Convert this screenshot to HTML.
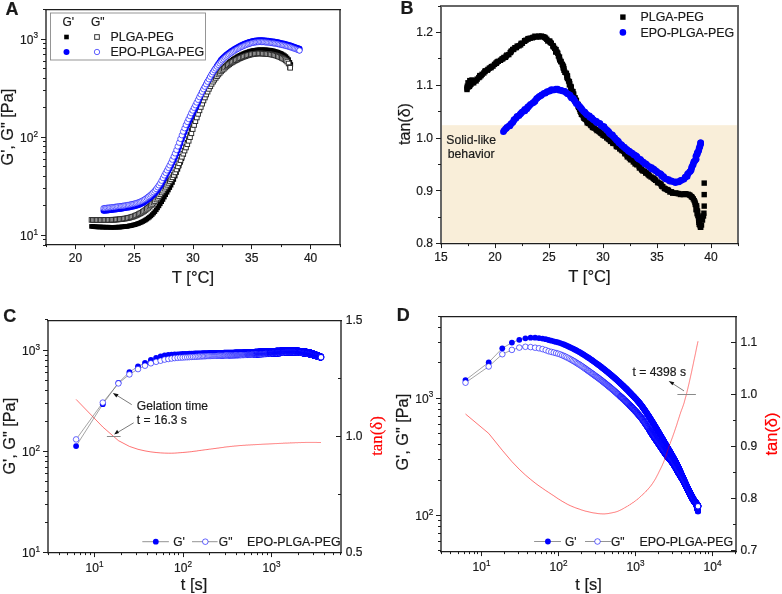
<!DOCTYPE html>
<html><head><meta charset="utf-8"><style>
html,body{margin:0;padding:0;background:#fff;width:782px;height:594px;overflow:hidden;font-family:"Liberation Sans",sans-serif;}
svg{display:block;will-change:transform;}
</style></head><body>
<svg width="782" height="594" viewBox="0 0 782 594" font-family="'Liberation Sans', sans-serif" fill="#1a1a1a">
<defs>
<rect id="ks" x="-2.3" y="-2.3" width="4.6" height="4.6" fill="#000"/>
<rect id="os" x="-2.3" y="-2.3" width="4.6" height="4.6" fill="#fff" stroke="#2a2a2a" stroke-width="0.95"/>
<circle id="bc" r="3" fill="#0000ff"/>
<circle id="oc" r="2.7" fill="#fff" stroke="#0000ff" stroke-width="0.62"/>
<rect id="ks5" x="-2.7" y="-2.7" width="5.4" height="5.4" fill="#000"/>
<circle id="bc3" r="3.3" fill="#0000ff"/>
<circle id="bcd" r="2.9" fill="#0000ff"/>
<circle id="ocs0" r="2.85" fill="#fff" stroke="#0000ff" stroke-width="0.75"/>
<circle id="ocs1" r="2.85" fill="#fff" stroke="#0000ff" stroke-width="0.9"/>
<circle id="ocs2" r="2.85" fill="#fff" stroke="#0000ff" stroke-width="1.05"/>
<circle id="ocd" r="2.8" fill="#fff" stroke="#0000ff" stroke-width="0.6"/>
</defs>
<rect width="782" height="594" fill="#ffffff"/>
<use href="#ks" x="91.5" y="226.4"/>
<use href="#ks" x="92.8" y="226.5"/>
<use href="#ks" x="94.2" y="226.6"/>
<use href="#ks" x="95.5" y="226.8"/>
<use href="#ks" x="96.9" y="226.9"/>
<use href="#ks" x="98.2" y="226.9"/>
<use href="#ks" x="99.6" y="227"/>
<use href="#ks" x="100.9" y="227"/>
<use href="#ks" x="102.3" y="227.1"/>
<use href="#ks" x="103.6" y="227.1"/>
<use href="#ks" x="105" y="227.2"/>
<use href="#ks" x="106.3" y="227.2"/>
<use href="#ks" x="107.7" y="227.2"/>
<use href="#ks" x="109" y="227.2"/>
<use href="#ks" x="110.4" y="227.3"/>
<use href="#ks" x="111.7" y="227.3"/>
<use href="#ks" x="113.1" y="227.3"/>
<use href="#ks" x="114.4" y="227.3"/>
<use href="#ks" x="115.8" y="227.2"/>
<use href="#ks" x="117.1" y="227.2"/>
<use href="#ks" x="118.5" y="227.1"/>
<use href="#ks" x="119.8" y="227.1"/>
<use href="#ks" x="121.2" y="227"/>
<use href="#ks" x="122.5" y="226.8"/>
<use href="#ks" x="123.9" y="226.7"/>
<use href="#ks" x="125.2" y="226.5"/>
<use href="#ks" x="126.6" y="226.4"/>
<use href="#ks" x="127.9" y="226.2"/>
<use href="#ks" x="129.3" y="225.9"/>
<use href="#ks" x="130.6" y="225.7"/>
<use href="#ks" x="132" y="225.4"/>
<use href="#ks" x="133.3" y="225"/>
<use href="#ks" x="134.7" y="224.7"/>
<use href="#ks" x="136" y="224.3"/>
<use href="#ks" x="137.4" y="223.8"/>
<use href="#ks" x="138.7" y="223.3"/>
<use href="#ks" x="140.1" y="222.8"/>
<use href="#ks" x="141.4" y="222.2"/>
<use href="#ks" x="142.8" y="221.5"/>
<use href="#ks" x="144.1" y="220.8"/>
<use href="#ks" x="145.5" y="220"/>
<use href="#ks" x="146.8" y="219.1"/>
<use href="#ks" x="148.2" y="218.1"/>
<use href="#ks" x="149.5" y="217.1"/>
<use href="#ks" x="150.9" y="215.9"/>
<use href="#ks" x="152.2" y="214.6"/>
<use href="#ks" x="153.6" y="213.1"/>
<use href="#ks" x="154.9" y="211.6"/>
<use href="#ks" x="156.3" y="209.8"/>
<use href="#ks" x="157.6" y="207.9"/>
<use href="#ks" x="159" y="205.9"/>
<use href="#ks" x="160.3" y="203.8"/>
<use href="#ks" x="161.7" y="201.7"/>
<use href="#ks" x="163" y="199.5"/>
<use href="#ks" x="164.4" y="197.1"/>
<use href="#ks" x="165.7" y="194.7"/>
<use href="#ks" x="167.1" y="192.3"/>
<use href="#ks" x="168.4" y="190"/>
<use href="#ks" x="169.8" y="187.6"/>
<use href="#ks" x="171.1" y="185.2"/>
<use href="#ks" x="172.5" y="182.5"/>
<use href="#ks" x="173.8" y="179.5"/>
<use href="#ks" x="175.2" y="176.1"/>
<use href="#ks" x="176.5" y="172.6"/>
<use href="#ks" x="177.9" y="169.3"/>
<use href="#ks" x="179.2" y="165.9"/>
<use href="#ks" x="180.6" y="162.4"/>
<use href="#ks" x="181.9" y="158.7"/>
<use href="#ks" x="183.3" y="154.7"/>
<use href="#ks" x="184.6" y="150.6"/>
<use href="#ks" x="186" y="146.5"/>
<use href="#ks" x="187.3" y="142.4"/>
<use href="#ks" x="188.7" y="138.4"/>
<use href="#ks" x="190" y="134.4"/>
<use href="#ks" x="191.4" y="130.4"/>
<use href="#ks" x="192.7" y="126.6"/>
<use href="#ks" x="194.1" y="122.8"/>
<use href="#ks" x="195.4" y="119.2"/>
<use href="#ks" x="196.8" y="115.6"/>
<use href="#ks" x="198.1" y="112.1"/>
<use href="#ks" x="199.5" y="108.9"/>
<use href="#ks" x="200.8" y="105.8"/>
<use href="#ks" x="202.2" y="102.7"/>
<use href="#ks" x="203.5" y="99.6"/>
<use href="#ks" x="204.9" y="96.5"/>
<use href="#ks" x="206.2" y="93.5"/>
<use href="#ks" x="207.6" y="90.8"/>
<use href="#ks" x="208.9" y="88.2"/>
<use href="#ks" x="210.3" y="85.7"/>
<use href="#ks" x="211.6" y="83.4"/>
<use href="#ks" x="213" y="81.3"/>
<use href="#ks" x="214.3" y="79.3"/>
<use href="#ks" x="215.7" y="77.4"/>
<use href="#ks" x="217" y="75.6"/>
<use href="#ks" x="218.4" y="73.8"/>
<use href="#ks" x="219.7" y="72.2"/>
<use href="#ks" x="221.1" y="70.6"/>
<use href="#ks" x="222.4" y="69.1"/>
<use href="#ks" x="223.8" y="67.6"/>
<use href="#ks" x="225.1" y="66.2"/>
<use href="#ks" x="226.5" y="64.9"/>
<use href="#ks" x="227.8" y="63.6"/>
<use href="#ks" x="229.2" y="62.4"/>
<use href="#ks" x="230.5" y="61.3"/>
<use href="#ks" x="231.9" y="60.3"/>
<use href="#ks" x="233.2" y="59.3"/>
<use href="#ks" x="234.6" y="58.4"/>
<use href="#ks" x="235.9" y="57.6"/>
<use href="#ks" x="237.3" y="56.8"/>
<use href="#ks" x="238.6" y="56"/>
<use href="#ks" x="240" y="55.3"/>
<use href="#ks" x="241.3" y="54.7"/>
<use href="#ks" x="242.7" y="54"/>
<use href="#ks" x="244" y="53.5"/>
<use href="#ks" x="245.4" y="52.9"/>
<use href="#ks" x="246.7" y="52.4"/>
<use href="#ks" x="248.1" y="52"/>
<use href="#ks" x="249.4" y="51.5"/>
<use href="#ks" x="250.8" y="51.1"/>
<use href="#ks" x="252.1" y="50.8"/>
<use href="#ks" x="253.5" y="50.5"/>
<use href="#ks" x="254.8" y="50.3"/>
<use href="#ks" x="256.2" y="50.1"/>
<use href="#ks" x="257.5" y="49.9"/>
<use href="#ks" x="258.9" y="49.8"/>
<use href="#ks" x="260.2" y="49.8"/>
<use href="#ks" x="261.6" y="49.8"/>
<use href="#ks" x="262.9" y="49.8"/>
<use href="#ks" x="264.3" y="49.8"/>
<use href="#ks" x="265.6" y="49.9"/>
<use href="#ks" x="267" y="50"/>
<use href="#ks" x="268.3" y="50.1"/>
<use href="#ks" x="269.7" y="50.2"/>
<use href="#ks" x="271" y="50.4"/>
<use href="#ks" x="272.4" y="50.7"/>
<use href="#ks" x="273.7" y="51"/>
<use href="#ks" x="275.1" y="51.4"/>
<use href="#ks" x="276.4" y="51.8"/>
<use href="#ks" x="277.8" y="52.2"/>
<use href="#ks" x="279.1" y="52.7"/>
<use href="#ks" x="280.5" y="53.3"/>
<use href="#ks" x="281.8" y="53.9"/>
<use href="#ks" x="283.2" y="54.7"/>
<use href="#ks" x="284.5" y="55.6"/>
<use href="#ks" x="285.9" y="56.6"/>
<use href="#ks" x="287.2" y="58"/>
<use href="#ks" x="288.6" y="59.6"/>
<use href="#ks" x="289.9" y="62.4"/>
<use href="#ks" x="290.8" y="64.5"/>
<use href="#os" x="91.5" y="219.9"/>
<use href="#os" x="92.8" y="219.9"/>
<use href="#os" x="94.2" y="220"/>
<use href="#os" x="95.5" y="220"/>
<use href="#os" x="96.9" y="220"/>
<use href="#os" x="98.2" y="220"/>
<use href="#os" x="99.6" y="220"/>
<use href="#os" x="100.9" y="220"/>
<use href="#os" x="102.3" y="220"/>
<use href="#os" x="103.6" y="220"/>
<use href="#os" x="105" y="219.9"/>
<use href="#os" x="106.3" y="219.9"/>
<use href="#os" x="107.7" y="219.9"/>
<use href="#os" x="109" y="219.9"/>
<use href="#os" x="110.4" y="219.8"/>
<use href="#os" x="111.7" y="219.8"/>
<use href="#os" x="113.1" y="219.7"/>
<use href="#os" x="114.4" y="219.7"/>
<use href="#os" x="115.8" y="219.6"/>
<use href="#os" x="117.1" y="219.5"/>
<use href="#os" x="118.5" y="219.4"/>
<use href="#os" x="119.8" y="219.2"/>
<use href="#os" x="121.2" y="219.1"/>
<use href="#os" x="122.5" y="218.9"/>
<use href="#os" x="123.9" y="218.7"/>
<use href="#os" x="125.2" y="218.5"/>
<use href="#os" x="126.6" y="218.3"/>
<use href="#os" x="127.9" y="218"/>
<use href="#os" x="129.3" y="217.7"/>
<use href="#os" x="130.6" y="217.3"/>
<use href="#os" x="132" y="216.9"/>
<use href="#os" x="133.3" y="216.5"/>
<use href="#os" x="134.7" y="216"/>
<use href="#os" x="136" y="215.4"/>
<use href="#os" x="137.4" y="214.8"/>
<use href="#os" x="138.7" y="214.1"/>
<use href="#os" x="140.1" y="213.4"/>
<use href="#os" x="141.4" y="212.7"/>
<use href="#os" x="142.8" y="211.9"/>
<use href="#os" x="144.1" y="211"/>
<use href="#os" x="145.5" y="210"/>
<use href="#os" x="146.8" y="208.9"/>
<use href="#os" x="148.2" y="207.8"/>
<use href="#os" x="149.5" y="206.6"/>
<use href="#os" x="150.9" y="205.4"/>
<use href="#os" x="152.2" y="204"/>
<use href="#os" x="153.6" y="202.6"/>
<use href="#os" x="154.9" y="201.1"/>
<use href="#os" x="156.3" y="199.5"/>
<use href="#os" x="157.6" y="197.8"/>
<use href="#os" x="159" y="196.1"/>
<use href="#os" x="160.3" y="194.3"/>
<use href="#os" x="161.7" y="192.5"/>
<use href="#os" x="163" y="190.7"/>
<use href="#os" x="164.4" y="188.7"/>
<use href="#os" x="165.7" y="186.8"/>
<use href="#os" x="167.1" y="184.8"/>
<use href="#os" x="168.4" y="182.9"/>
<use href="#os" x="169.8" y="181"/>
<use href="#os" x="171.1" y="179.2"/>
<use href="#os" x="172.5" y="177.3"/>
<use href="#os" x="173.8" y="175"/>
<use href="#os" x="175.2" y="172.4"/>
<use href="#os" x="176.5" y="169.5"/>
<use href="#os" x="177.9" y="166.4"/>
<use href="#os" x="179.2" y="163.3"/>
<use href="#os" x="180.6" y="160.1"/>
<use href="#os" x="181.9" y="156.8"/>
<use href="#os" x="183.3" y="153.7"/>
<use href="#os" x="184.6" y="150.6"/>
<use href="#os" x="186" y="147.5"/>
<use href="#os" x="187.3" y="144.2"/>
<use href="#os" x="188.7" y="140.8"/>
<use href="#os" x="190" y="137.2"/>
<use href="#os" x="191.4" y="133.3"/>
<use href="#os" x="192.7" y="129.1"/>
<use href="#os" x="194.1" y="125"/>
<use href="#os" x="195.4" y="121.2"/>
<use href="#os" x="196.8" y="117.5"/>
<use href="#os" x="198.1" y="113.9"/>
<use href="#os" x="199.5" y="110.4"/>
<use href="#os" x="200.8" y="107"/>
<use href="#os" x="202.2" y="103.7"/>
<use href="#os" x="203.5" y="100.5"/>
<use href="#os" x="204.9" y="97.5"/>
<use href="#os" x="206.2" y="94.5"/>
<use href="#os" x="207.6" y="91.7"/>
<use href="#os" x="208.9" y="88.9"/>
<use href="#os" x="210.3" y="86.3"/>
<use href="#os" x="211.6" y="83.9"/>
<use href="#os" x="213" y="81.7"/>
<use href="#os" x="214.3" y="79.7"/>
<use href="#os" x="215.7" y="77.9"/>
<use href="#os" x="217" y="76.2"/>
<use href="#os" x="218.4" y="74.5"/>
<use href="#os" x="219.7" y="72.9"/>
<use href="#os" x="221.1" y="71.4"/>
<use href="#os" x="222.4" y="70"/>
<use href="#os" x="223.8" y="68.8"/>
<use href="#os" x="225.1" y="67.5"/>
<use href="#os" x="226.5" y="66.4"/>
<use href="#os" x="227.8" y="65.3"/>
<use href="#os" x="229.2" y="64.3"/>
<use href="#os" x="230.5" y="63.3"/>
<use href="#os" x="231.9" y="62.4"/>
<use href="#os" x="233.2" y="61.6"/>
<use href="#os" x="234.6" y="60.9"/>
<use href="#os" x="235.9" y="60.2"/>
<use href="#os" x="237.3" y="59.5"/>
<use href="#os" x="238.6" y="58.8"/>
<use href="#os" x="240" y="58.2"/>
<use href="#os" x="241.3" y="57.6"/>
<use href="#os" x="242.7" y="57.1"/>
<use href="#os" x="244" y="56.5"/>
<use href="#os" x="245.4" y="56.1"/>
<use href="#os" x="246.7" y="55.6"/>
<use href="#os" x="248.1" y="55.2"/>
<use href="#os" x="249.4" y="54.8"/>
<use href="#os" x="250.8" y="54.5"/>
<use href="#os" x="252.1" y="54.2"/>
<use href="#os" x="253.5" y="54"/>
<use href="#os" x="254.8" y="53.8"/>
<use href="#os" x="256.2" y="53.6"/>
<use href="#os" x="257.5" y="53.5"/>
<use href="#os" x="258.9" y="53.4"/>
<use href="#os" x="260.2" y="53.4"/>
<use href="#os" x="261.6" y="53.5"/>
<use href="#os" x="262.9" y="53.6"/>
<use href="#os" x="264.3" y="53.7"/>
<use href="#os" x="265.6" y="53.8"/>
<use href="#os" x="267" y="53.9"/>
<use href="#os" x="268.3" y="54.1"/>
<use href="#os" x="269.7" y="54.2"/>
<use href="#os" x="271" y="54.4"/>
<use href="#os" x="272.4" y="54.7"/>
<use href="#os" x="273.7" y="54.9"/>
<use href="#os" x="275.1" y="55.3"/>
<use href="#os" x="276.4" y="55.7"/>
<use href="#os" x="277.8" y="56.2"/>
<use href="#os" x="279.1" y="56.7"/>
<use href="#os" x="280.5" y="57.3"/>
<use href="#os" x="281.8" y="57.9"/>
<use href="#os" x="283.2" y="58.6"/>
<use href="#os" x="284.5" y="59.4"/>
<use href="#os" x="285.9" y="60.4"/>
<use href="#os" x="287.2" y="61.6"/>
<use href="#os" x="288.6" y="63.5"/>
<use href="#os" x="289.9" y="67.1"/>
<use href="#os" x="290.2" y="67.8"/>
<use href="#bc" x="103.5" y="210.8"/>
<use href="#bc" x="104.8" y="210.7"/>
<use href="#bc" x="106.2" y="210.5"/>
<use href="#bc" x="107.5" y="210.4"/>
<use href="#bc" x="108.9" y="210.2"/>
<use href="#bc" x="110.2" y="210.1"/>
<use href="#bc" x="111.6" y="209.9"/>
<use href="#bc" x="112.9" y="209.8"/>
<use href="#bc" x="114.3" y="209.6"/>
<use href="#bc" x="115.6" y="209.4"/>
<use href="#bc" x="117" y="209.2"/>
<use href="#bc" x="118.3" y="209"/>
<use href="#bc" x="119.7" y="208.9"/>
<use href="#bc" x="121" y="208.7"/>
<use href="#bc" x="122.4" y="208.5"/>
<use href="#bc" x="123.7" y="208.3"/>
<use href="#bc" x="125.1" y="208.1"/>
<use href="#bc" x="126.4" y="207.8"/>
<use href="#bc" x="127.8" y="207.6"/>
<use href="#bc" x="129.1" y="207.4"/>
<use href="#bc" x="130.5" y="207.1"/>
<use href="#bc" x="131.8" y="206.8"/>
<use href="#bc" x="133.2" y="206.5"/>
<use href="#bc" x="134.5" y="206.2"/>
<use href="#bc" x="135.9" y="205.8"/>
<use href="#bc" x="137.2" y="205.4"/>
<use href="#bc" x="138.6" y="204.9"/>
<use href="#bc" x="139.9" y="204.4"/>
<use href="#bc" x="141.3" y="203.8"/>
<use href="#bc" x="142.6" y="203.2"/>
<use href="#bc" x="144" y="202.4"/>
<use href="#bc" x="145.3" y="201.5"/>
<use href="#bc" x="146.7" y="200.5"/>
<use href="#bc" x="148" y="199.5"/>
<use href="#bc" x="149.4" y="198.4"/>
<use href="#bc" x="150.7" y="197.3"/>
<use href="#bc" x="152.1" y="196.1"/>
<use href="#bc" x="153.4" y="194.8"/>
<use href="#bc" x="154.8" y="193.4"/>
<use href="#bc" x="156.1" y="191.8"/>
<use href="#bc" x="157.5" y="190.2"/>
<use href="#bc" x="158.8" y="188.3"/>
<use href="#bc" x="160.2" y="186.3"/>
<use href="#bc" x="161.5" y="183.9"/>
<use href="#bc" x="162.9" y="181.3"/>
<use href="#bc" x="164.2" y="178.6"/>
<use href="#bc" x="165.6" y="175.9"/>
<use href="#bc" x="166.9" y="173.3"/>
<use href="#bc" x="168.3" y="170.9"/>
<use href="#bc" x="169.6" y="168.4"/>
<use href="#bc" x="171" y="165.8"/>
<use href="#bc" x="172.3" y="163.1"/>
<use href="#bc" x="173.7" y="160.3"/>
<use href="#bc" x="175" y="157.2"/>
<use href="#bc" x="176.4" y="154"/>
<use href="#bc" x="177.7" y="150.6"/>
<use href="#bc" x="179.1" y="147.1"/>
<use href="#bc" x="180.4" y="143.4"/>
<use href="#bc" x="181.8" y="139.6"/>
<use href="#bc" x="183.1" y="135.9"/>
<use href="#bc" x="184.5" y="132.3"/>
<use href="#bc" x="185.8" y="128.8"/>
<use href="#bc" x="187.2" y="125.5"/>
<use href="#bc" x="188.5" y="122.4"/>
<use href="#bc" x="189.9" y="119.5"/>
<use href="#bc" x="191.2" y="116.6"/>
<use href="#bc" x="192.6" y="113.8"/>
<use href="#bc" x="193.9" y="111"/>
<use href="#bc" x="195.3" y="108.4"/>
<use href="#bc" x="196.6" y="105.9"/>
<use href="#bc" x="198" y="102.8"/>
<use href="#bc" x="199.3" y="99"/>
<use href="#bc" x="200.7" y="95.3"/>
<use href="#bc" x="202" y="92.2"/>
<use href="#bc" x="203.4" y="89.6"/>
<use href="#bc" x="204.7" y="87.1"/>
<use href="#bc" x="206.1" y="84.6"/>
<use href="#bc" x="207.4" y="82.1"/>
<use href="#bc" x="208.8" y="79.7"/>
<use href="#bc" x="210.1" y="77.3"/>
<use href="#bc" x="211.5" y="74.9"/>
<use href="#bc" x="212.8" y="72.6"/>
<use href="#bc" x="214.2" y="70.4"/>
<use href="#bc" x="215.5" y="68.3"/>
<use href="#bc" x="216.9" y="66.1"/>
<use href="#bc" x="218.2" y="64"/>
<use href="#bc" x="219.6" y="62"/>
<use href="#bc" x="220.9" y="60.1"/>
<use href="#bc" x="222.3" y="58.5"/>
<use href="#bc" x="223.6" y="57.2"/>
<use href="#bc" x="225" y="55.9"/>
<use href="#bc" x="226.3" y="54.8"/>
<use href="#bc" x="227.7" y="53.7"/>
<use href="#bc" x="229" y="52.7"/>
<use href="#bc" x="230.4" y="51.7"/>
<use href="#bc" x="231.7" y="50.8"/>
<use href="#bc" x="233.1" y="49.9"/>
<use href="#bc" x="234.4" y="49"/>
<use href="#bc" x="235.8" y="48.2"/>
<use href="#bc" x="237.1" y="47.4"/>
<use href="#bc" x="238.5" y="46.7"/>
<use href="#bc" x="239.8" y="46"/>
<use href="#bc" x="241.2" y="45.3"/>
<use href="#bc" x="242.5" y="44.7"/>
<use href="#bc" x="243.9" y="44.1"/>
<use href="#bc" x="245.2" y="43.5"/>
<use href="#bc" x="246.6" y="43"/>
<use href="#bc" x="247.9" y="42.5"/>
<use href="#bc" x="249.3" y="42.1"/>
<use href="#bc" x="250.6" y="41.7"/>
<use href="#bc" x="252" y="41.3"/>
<use href="#bc" x="253.3" y="41"/>
<use href="#bc" x="254.7" y="40.8"/>
<use href="#bc" x="256" y="40.6"/>
<use href="#bc" x="257.4" y="40.4"/>
<use href="#bc" x="258.7" y="40.3"/>
<use href="#bc" x="260.1" y="40.2"/>
<use href="#bc" x="261.4" y="40.3"/>
<use href="#bc" x="262.8" y="40.3"/>
<use href="#bc" x="264.1" y="40.4"/>
<use href="#bc" x="265.5" y="40.6"/>
<use href="#bc" x="266.8" y="40.7"/>
<use href="#bc" x="268.2" y="40.8"/>
<use href="#bc" x="269.5" y="41"/>
<use href="#bc" x="270.9" y="41.2"/>
<use href="#bc" x="272.2" y="41.4"/>
<use href="#bc" x="273.6" y="41.6"/>
<use href="#bc" x="274.9" y="41.8"/>
<use href="#bc" x="276.3" y="42"/>
<use href="#bc" x="277.6" y="42.3"/>
<use href="#bc" x="279" y="42.6"/>
<use href="#bc" x="280.3" y="42.9"/>
<use href="#bc" x="281.7" y="43.2"/>
<use href="#bc" x="283" y="43.5"/>
<use href="#bc" x="284.4" y="43.8"/>
<use href="#bc" x="285.7" y="44.2"/>
<use href="#bc" x="287.1" y="44.5"/>
<use href="#bc" x="288.4" y="44.9"/>
<use href="#bc" x="289.8" y="45.3"/>
<use href="#bc" x="291.1" y="45.8"/>
<use href="#bc" x="292.5" y="46.3"/>
<use href="#bc" x="293.9" y="46.7"/>
<use href="#bc" x="295.2" y="47.2"/>
<use href="#bc" x="296.6" y="47.7"/>
<use href="#bc" x="297.9" y="48.2"/>
<use href="#bc" x="299.3" y="48.7"/>
<use href="#bc" x="299.5" y="48.8"/>
<use href="#oc" x="103.5" y="208.2"/>
<use href="#oc" x="104.8" y="208.1"/>
<use href="#oc" x="106.2" y="207.9"/>
<use href="#oc" x="107.5" y="207.8"/>
<use href="#oc" x="108.9" y="207.6"/>
<use href="#oc" x="110.2" y="207.5"/>
<use href="#oc" x="111.6" y="207.3"/>
<use href="#oc" x="112.9" y="207.2"/>
<use href="#oc" x="114.3" y="207"/>
<use href="#oc" x="115.6" y="206.8"/>
<use href="#oc" x="117" y="206.6"/>
<use href="#oc" x="118.3" y="206.4"/>
<use href="#oc" x="119.7" y="206.3"/>
<use href="#oc" x="121" y="206.1"/>
<use href="#oc" x="122.4" y="205.9"/>
<use href="#oc" x="123.7" y="205.7"/>
<use href="#oc" x="125.1" y="205.5"/>
<use href="#oc" x="126.4" y="205.2"/>
<use href="#oc" x="127.8" y="205"/>
<use href="#oc" x="129.1" y="204.8"/>
<use href="#oc" x="130.5" y="204.5"/>
<use href="#oc" x="131.8" y="204.2"/>
<use href="#oc" x="133.2" y="203.9"/>
<use href="#oc" x="134.5" y="203.6"/>
<use href="#oc" x="135.9" y="203.2"/>
<use href="#oc" x="137.2" y="202.8"/>
<use href="#oc" x="138.6" y="202.3"/>
<use href="#oc" x="139.9" y="201.8"/>
<use href="#oc" x="141.3" y="201.2"/>
<use href="#oc" x="142.6" y="200.5"/>
<use href="#oc" x="144" y="199.8"/>
<use href="#oc" x="145.3" y="198.9"/>
<use href="#oc" x="146.7" y="197.9"/>
<use href="#oc" x="148" y="196.9"/>
<use href="#oc" x="149.4" y="195.9"/>
<use href="#oc" x="150.7" y="194.7"/>
<use href="#oc" x="152.1" y="193.5"/>
<use href="#oc" x="153.4" y="192.2"/>
<use href="#oc" x="154.8" y="190.7"/>
<use href="#oc" x="156.1" y="189"/>
<use href="#oc" x="157.5" y="187.2"/>
<use href="#oc" x="158.8" y="185.3"/>
<use href="#oc" x="160.2" y="183.2"/>
<use href="#oc" x="161.5" y="180.7"/>
<use href="#oc" x="162.9" y="178"/>
<use href="#oc" x="164.2" y="175.4"/>
<use href="#oc" x="165.6" y="172.9"/>
<use href="#oc" x="166.9" y="170.4"/>
<use href="#oc" x="168.3" y="167.9"/>
<use href="#oc" x="169.6" y="165.3"/>
<use href="#oc" x="171" y="162.6"/>
<use href="#oc" x="172.3" y="159.7"/>
<use href="#oc" x="173.7" y="156.6"/>
<use href="#oc" x="175" y="153.4"/>
<use href="#oc" x="176.4" y="150"/>
<use href="#oc" x="177.7" y="146.4"/>
<use href="#oc" x="179.1" y="142.7"/>
<use href="#oc" x="180.4" y="138.9"/>
<use href="#oc" x="181.8" y="135.2"/>
<use href="#oc" x="183.1" y="131.6"/>
<use href="#oc" x="184.5" y="128.2"/>
<use href="#oc" x="185.8" y="124.9"/>
<use href="#oc" x="187.2" y="121.9"/>
<use href="#oc" x="188.5" y="119"/>
<use href="#oc" x="189.9" y="116.1"/>
<use href="#oc" x="191.2" y="113.2"/>
<use href="#oc" x="192.6" y="110.5"/>
<use href="#oc" x="193.9" y="107.8"/>
<use href="#oc" x="195.3" y="105.2"/>
<use href="#oc" x="196.6" y="102.5"/>
<use href="#oc" x="198" y="99.8"/>
<use href="#oc" x="199.3" y="97.1"/>
<use href="#oc" x="200.7" y="94.4"/>
<use href="#oc" x="202" y="91.8"/>
<use href="#oc" x="203.4" y="89.2"/>
<use href="#oc" x="204.7" y="86.7"/>
<use href="#oc" x="206.1" y="84.2"/>
<use href="#oc" x="207.4" y="81.7"/>
<use href="#oc" x="208.8" y="79.2"/>
<use href="#oc" x="210.1" y="76.8"/>
<use href="#oc" x="211.5" y="74.4"/>
<use href="#oc" x="212.8" y="72.2"/>
<use href="#oc" x="214.2" y="70.2"/>
<use href="#oc" x="215.5" y="68.4"/>
<use href="#oc" x="216.9" y="66.6"/>
<use href="#oc" x="218.2" y="64.9"/>
<use href="#oc" x="219.6" y="63.3"/>
<use href="#oc" x="220.9" y="61.7"/>
<use href="#oc" x="222.3" y="60.3"/>
<use href="#oc" x="223.6" y="59"/>
<use href="#oc" x="225" y="57.7"/>
<use href="#oc" x="226.3" y="56.6"/>
<use href="#oc" x="227.7" y="55.5"/>
<use href="#oc" x="229" y="54.4"/>
<use href="#oc" x="230.4" y="53.4"/>
<use href="#oc" x="231.7" y="52.5"/>
<use href="#oc" x="233.1" y="51.6"/>
<use href="#oc" x="234.4" y="50.7"/>
<use href="#oc" x="235.8" y="49.9"/>
<use href="#oc" x="237.1" y="49.1"/>
<use href="#oc" x="238.5" y="48.4"/>
<use href="#oc" x="239.8" y="47.7"/>
<use href="#oc" x="241.2" y="47"/>
<use href="#oc" x="242.5" y="46.4"/>
<use href="#oc" x="243.9" y="45.8"/>
<use href="#oc" x="245.2" y="45.2"/>
<use href="#oc" x="246.6" y="44.7"/>
<use href="#oc" x="247.9" y="44.2"/>
<use href="#oc" x="249.3" y="43.8"/>
<use href="#oc" x="250.6" y="43.4"/>
<use href="#oc" x="252" y="43"/>
<use href="#oc" x="253.3" y="42.7"/>
<use href="#oc" x="254.7" y="42.5"/>
<use href="#oc" x="256" y="42.3"/>
<use href="#oc" x="257.4" y="42.1"/>
<use href="#oc" x="258.7" y="42"/>
<use href="#oc" x="260.1" y="41.9"/>
<use href="#oc" x="261.4" y="42"/>
<use href="#oc" x="262.8" y="42"/>
<use href="#oc" x="264.1" y="42.1"/>
<use href="#oc" x="265.5" y="42.3"/>
<use href="#oc" x="266.8" y="42.4"/>
<use href="#oc" x="268.2" y="42.5"/>
<use href="#oc" x="269.5" y="42.7"/>
<use href="#oc" x="270.9" y="42.9"/>
<use href="#oc" x="272.2" y="43.1"/>
<use href="#oc" x="273.6" y="43.3"/>
<use href="#oc" x="274.9" y="43.5"/>
<use href="#oc" x="276.3" y="43.7"/>
<use href="#oc" x="277.6" y="44"/>
<use href="#oc" x="279" y="44.3"/>
<use href="#oc" x="280.3" y="44.6"/>
<use href="#oc" x="281.7" y="44.9"/>
<use href="#oc" x="283" y="45.2"/>
<use href="#oc" x="284.4" y="45.5"/>
<use href="#oc" x="285.7" y="45.9"/>
<use href="#oc" x="287.1" y="46.2"/>
<use href="#oc" x="288.4" y="46.6"/>
<use href="#oc" x="289.8" y="47"/>
<use href="#oc" x="291.1" y="47.5"/>
<use href="#oc" x="292.5" y="48"/>
<use href="#oc" x="293.9" y="48.4"/>
<use href="#oc" x="295.2" y="48.9"/>
<use href="#oc" x="296.6" y="49.4"/>
<use href="#oc" x="297.9" y="49.9"/>
<use href="#oc" x="299.3" y="50.4"/>
<use href="#oc" x="299.5" y="50.5"/>
<line x1="46" y1="9" x2="46" y2="245.2" stroke="#666" stroke-width="2"/>
<line x1="340" y1="9" x2="340" y2="245.2" stroke="#666" stroke-width="2"/>
<line x1="45" y1="9.6" x2="341" y2="9.6" stroke="#1e1e1e" stroke-width="1.2"/>
<line x1="45" y1="244.6" x2="341" y2="244.6" stroke="#1e1e1e" stroke-width="1.2"/>
<line x1="41" y1="235.5" x2="46" y2="235.5" stroke="#1e1e1e" stroke-width="1" />
<line x1="41" y1="137.5" x2="46" y2="137.5" stroke="#1e1e1e" stroke-width="1" />
<line x1="41" y1="39.5" x2="46" y2="39.5" stroke="#1e1e1e" stroke-width="1" />
<line x1="43" y1="245.5" x2="46" y2="245.5" stroke="#1e1e1e" stroke-width="1" />
<line x1="43" y1="239.5" x2="46" y2="239.5" stroke="#1e1e1e" stroke-width="1" />
<line x1="43" y1="205.5" x2="46" y2="205.5" stroke="#1e1e1e" stroke-width="1" />
<line x1="43" y1="188.5" x2="46" y2="188.5" stroke="#1e1e1e" stroke-width="1" />
<line x1="43" y1="176.5" x2="46" y2="176.5" stroke="#1e1e1e" stroke-width="1" />
<line x1="43" y1="166.5" x2="46" y2="166.5" stroke="#1e1e1e" stroke-width="1" />
<line x1="43" y1="159.5" x2="46" y2="159.5" stroke="#1e1e1e" stroke-width="1" />
<line x1="43" y1="152.5" x2="46" y2="152.5" stroke="#1e1e1e" stroke-width="1" />
<line x1="43" y1="146.5" x2="46" y2="146.5" stroke="#1e1e1e" stroke-width="1" />
<line x1="43" y1="141.5" x2="46" y2="141.5" stroke="#1e1e1e" stroke-width="1" />
<line x1="43" y1="107.5" x2="46" y2="107.5" stroke="#1e1e1e" stroke-width="1" />
<line x1="43" y1="90.5" x2="46" y2="90.5" stroke="#1e1e1e" stroke-width="1" />
<line x1="43" y1="78.5" x2="46" y2="78.5" stroke="#1e1e1e" stroke-width="1" />
<line x1="43" y1="68.5" x2="46" y2="68.5" stroke="#1e1e1e" stroke-width="1" />
<line x1="43" y1="61.5" x2="46" y2="61.5" stroke="#1e1e1e" stroke-width="1" />
<line x1="43" y1="54.5" x2="46" y2="54.5" stroke="#1e1e1e" stroke-width="1" />
<line x1="43" y1="48.5" x2="46" y2="48.5" stroke="#1e1e1e" stroke-width="1" />
<line x1="43" y1="43.5" x2="46" y2="43.5" stroke="#1e1e1e" stroke-width="1" />
<line x1="43" y1="9.5" x2="46" y2="9.5" stroke="#1e1e1e" stroke-width="1" />
<line x1="75.5" y1="244.6" x2="75.5" y2="249.1" stroke="#1e1e1e" stroke-width="1" />
<line x1="134.5" y1="244.6" x2="134.5" y2="249.1" stroke="#1e1e1e" stroke-width="1" />
<line x1="193.5" y1="244.6" x2="193.5" y2="249.1" stroke="#1e1e1e" stroke-width="1" />
<line x1="251.5" y1="244.6" x2="251.5" y2="249.1" stroke="#1e1e1e" stroke-width="1" />
<line x1="310.5" y1="244.6" x2="310.5" y2="249.1" stroke="#1e1e1e" stroke-width="1" />
<line x1="46.5" y1="244.6" x2="46.5" y2="247.1" stroke="#1e1e1e" stroke-width="1" />
<line x1="104.5" y1="244.6" x2="104.5" y2="247.1" stroke="#1e1e1e" stroke-width="1" />
<line x1="163.5" y1="244.6" x2="163.5" y2="247.1" stroke="#1e1e1e" stroke-width="1" />
<line x1="222.5" y1="244.6" x2="222.5" y2="247.1" stroke="#1e1e1e" stroke-width="1" />
<line x1="281.5" y1="244.6" x2="281.5" y2="247.1" stroke="#1e1e1e" stroke-width="1" />
<line x1="340.5" y1="244.6" x2="340.5" y2="247.1" stroke="#1e1e1e" stroke-width="1" />
<text x="75.4" y="261.6" font-size="12" text-anchor="middle" stroke="#1a1a1a" stroke-width="0.2" >20</text>
<text x="134.2" y="261.6" font-size="12" text-anchor="middle" stroke="#1a1a1a" stroke-width="0.2" >25</text>
<text x="193" y="261.6" font-size="12" text-anchor="middle" stroke="#1a1a1a" stroke-width="0.2" >30</text>
<text x="251.8" y="261.6" font-size="12" text-anchor="middle" stroke="#1a1a1a" stroke-width="0.2" >35</text>
<text x="310.6" y="261.6" font-size="12" text-anchor="middle" stroke="#1a1a1a" stroke-width="0.2" >40</text>
<text x="38" y="239.8" font-size="12" text-anchor="end" stroke="#1a1a1a" stroke-width="0.2">10<tspan font-size="8.2" dy="-5.2">1</tspan></text>
<text x="38" y="141.7" font-size="12" text-anchor="end" stroke="#1a1a1a" stroke-width="0.2">10<tspan font-size="8.2" dy="-5.2">2</tspan></text>
<text x="38" y="43.6" font-size="12" text-anchor="end" stroke="#1a1a1a" stroke-width="0.2">10<tspan font-size="8.2" dy="-5.2">3</tspan></text>
<text x="193" y="283.3" font-size="16.6" text-anchor="middle" stroke="#1a1a1a" stroke-width="0.2" >T [°C]</text>
<text x="13" y="127.1" font-size="16.3" text-anchor="middle" transform="rotate(-90 13 127.1)" stroke="#1a1a1a" stroke-width="0.2" >G', G" [Pa]</text>
<text x="5.4" y="14.65" font-size="18" font-weight="bold" stroke="#1a1a1a" stroke-width="0.2" >A</text>
<rect x="50.5" y="13" width="155" height="47" fill="#fff" stroke="#8a8a8a" stroke-width="0.9"/>
<text x="62.5" y="26" font-size="12" stroke="#1a1a1a" stroke-width="0.2" >G'</text>
<text x="91" y="26" font-size="12" stroke="#1a1a1a" stroke-width="0.2" >G"</text>
<use href="#ks" x="66.5" y="37"/>
<use href="#os" x="97" y="37"/>
<text x="110.5" y="40.8" font-size="12.4" stroke="#1a1a1a" stroke-width="0.2" >PLGA-PEG</text>
<use href="#bc" x="66.5" y="52"/>
<use href="#oc" x="97" y="52"/>
<text x="110.5" y="56" font-size="12.4" stroke="#1a1a1a" stroke-width="0.2" >EPO-PLGA-PEG</text>
<rect x="441" y="125.18" width="297" height="117.52" fill="#f9eed9"/>
<use href="#ks5" x="467" y="88"/>
<use href="#ks5" x="468.5" y="86.9"/>
<use href="#ks5" x="469.4" y="86.3"/>
<use href="#ks5" x="469.9" y="85.4"/>
<use href="#ks5" x="470.9" y="84.3"/>
<use href="#ks5" x="472.1" y="82.8"/>
<use href="#ks5" x="473.7" y="82.8"/>
<use href="#ks5" x="474.3" y="80.9"/>
<use href="#ks5" x="476.1" y="80.9"/>
<use href="#ks5" x="477.2" y="79.1"/>
<use href="#ks5" x="478.8" y="77.6"/>
<use href="#ks5" x="479.7" y="76.9"/>
<use href="#ks5" x="479.8" y="75.6"/>
<use href="#ks5" x="481.1" y="75.6"/>
<use href="#ks5" x="482.1" y="74.3"/>
<use href="#ks5" x="483.8" y="73"/>
<use href="#ks5" x="484.9" y="71.6"/>
<use href="#ks5" x="485.3" y="70.8"/>
<use href="#ks5" x="487.4" y="70.2"/>
<use href="#ks5" x="488" y="69.4"/>
<use href="#ks5" x="489.4" y="68.1"/>
<use href="#ks5" x="491" y="67.7"/>
<use href="#ks5" x="491.4" y="66.6"/>
<use href="#ks5" x="493" y="66.1"/>
<use href="#ks5" x="494.5" y="64.4"/>
<use href="#ks5" x="496" y="63.2"/>
<use href="#ks5" x="496.4" y="63.2"/>
<use href="#ks5" x="497.2" y="61.9"/>
<use href="#ks5" x="498.3" y="61.3"/>
<use href="#ks5" x="500.5" y="60.3"/>
<use href="#ks5" x="501.9" y="59.1"/>
<use href="#ks5" x="502.9" y="58.6"/>
<use href="#ks5" x="503.9" y="57.5"/>
<use href="#ks5" x="505.5" y="57.3"/>
<use href="#ks5" x="506.2" y="56"/>
<use href="#ks5" x="506.8" y="55.1"/>
<use href="#ks5" x="508.8" y="54.6"/>
<use href="#ks5" x="510.2" y="52.6"/>
<use href="#ks5" x="510.7" y="52.2"/>
<use href="#ks5" x="511.3" y="51"/>
<use href="#ks5" x="512.7" y="49.5"/>
<use href="#ks5" x="513.7" y="49.4"/>
<use href="#ks5" x="514.9" y="47.7"/>
<use href="#ks5" x="516.4" y="47.6"/>
<use href="#ks5" x="517.2" y="46.1"/>
<use href="#ks5" x="519" y="45.8"/>
<use href="#ks5" x="520.6" y="44.9"/>
<use href="#ks5" x="521.1" y="43.4"/>
<use href="#ks5" x="522.4" y="43.2"/>
<use href="#ks5" x="524.5" y="41.3"/>
<use href="#ks5" x="524.7" y="40.7"/>
<use href="#ks5" x="526" y="40.2"/>
<use href="#ks5" x="527.8" y="39.1"/>
<use href="#ks5" x="528.3" y="38.6"/>
<use href="#ks5" x="530.2" y="38.2"/>
<use href="#ks5" x="532.4" y="37.8"/>
<use href="#ks5" x="533.2" y="37.3"/>
<use href="#ks5" x="534.9" y="36.2"/>
<use href="#ks5" x="536.7" y="36.9"/>
<use href="#ks5" x="538.2" y="36.8"/>
<use href="#ks5" x="539" y="36.1"/>
<use href="#ks5" x="540.1" y="36.6"/>
<use href="#ks5" x="541.5" y="36.1"/>
<use href="#ks5" x="543.1" y="36.7"/>
<use href="#ks5" x="544.6" y="37.2"/>
<use href="#ks5" x="545.5" y="38.1"/>
<use href="#ks5" x="546.8" y="39.3"/>
<use href="#ks5" x="547.8" y="41"/>
<use href="#ks5" x="549.7" y="41"/>
<use href="#ks5" x="550.2" y="42.4"/>
<use href="#ks5" x="551.3" y="43.2"/>
<use href="#ks5" x="552.9" y="45.6"/>
<use href="#ks5" x="553.2" y="46.2"/>
<use href="#ks5" x="553.5" y="46.9"/>
<use href="#ks5" x="554.7" y="48.4"/>
<use href="#ks5" x="556.1" y="49.6"/>
<use href="#ks5" x="555.7" y="52"/>
<use href="#ks5" x="557.1" y="52.2"/>
<use href="#ks5" x="557.8" y="53.3"/>
<use href="#ks5" x="558.4" y="56"/>
<use href="#ks5" x="559.5" y="57"/>
<use href="#ks5" x="559.3" y="57.9"/>
<use href="#ks5" x="559.7" y="59.9"/>
<use href="#ks5" x="560.8" y="61.3"/>
<use href="#ks5" x="561.1" y="61.9"/>
<use href="#ks5" x="562.3" y="64.3"/>
<use href="#ks5" x="562.9" y="65.5"/>
<use href="#ks5" x="563.5" y="66.8"/>
<use href="#ks5" x="563.2" y="67.9"/>
<use href="#ks5" x="563.9" y="68.6"/>
<use href="#ks5" x="564" y="70.3"/>
<use href="#ks5" x="564.9" y="72.3"/>
<use href="#ks5" x="566.4" y="73.3"/>
<use href="#ks5" x="566.9" y="75.5"/>
<use href="#ks5" x="567.5" y="76"/>
<use href="#ks5" x="567" y="77.2"/>
<use href="#ks5" x="567.5" y="78.6"/>
<use href="#ks5" x="568.6" y="81"/>
<use href="#ks5" x="569.4" y="81.8"/>
<use href="#ks5" x="569.7" y="83.7"/>
<use href="#ks5" x="569.4" y="84.9"/>
<use href="#ks5" x="571" y="86.5"/>
<use href="#ks5" x="571.2" y="87.5"/>
<use href="#ks5" x="570.9" y="89.3"/>
<use href="#ks5" x="571.6" y="90.8"/>
<use href="#ks5" x="573" y="91.6"/>
<use href="#ks5" x="572.7" y="93.8"/>
<use href="#ks5" x="573.7" y="94.1"/>
<use href="#ks5" x="573.4" y="95.5"/>
<use href="#ks5" x="575.1" y="97.8"/>
<use href="#ks5" x="574.6" y="99.2"/>
<use href="#ks5" x="576.4" y="100.3"/>
<use href="#ks5" x="576.1" y="101.6"/>
<use href="#ks5" x="576.4" y="102.2"/>
<use href="#ks5" x="578.1" y="104.5"/>
<use href="#ks5" x="578.1" y="106.2"/>
<use href="#ks5" x="578.6" y="107.5"/>
<use href="#ks5" x="579.8" y="108"/>
<use href="#ks5" x="579.6" y="109.4"/>
<use href="#ks5" x="580.2" y="111.2"/>
<use href="#ks5" x="580.9" y="112.3"/>
<use href="#ks5" x="581.4" y="114.3"/>
<use href="#ks5" x="582.4" y="115"/>
<use href="#ks5" x="583.4" y="117"/>
<use href="#ks5" x="584" y="118.3"/>
<use href="#ks5" x="585" y="119"/>
<use href="#ks5" x="585.9" y="119.5"/>
<use href="#ks5" x="586.8" y="120.8"/>
<use href="#ks5" x="587.2" y="122.8"/>
<use href="#ks5" x="588.5" y="123.4"/>
<use href="#ks5" x="590.3" y="124.5"/>
<use href="#ks5" x="590.9" y="125.5"/>
<use href="#ks5" x="592.3" y="126.9"/>
<use href="#ks5" x="592.8" y="127.5"/>
<use href="#ks5" x="594.2" y="128.1"/>
<use href="#ks5" x="596.1" y="129.4"/>
<use href="#ks5" x="597" y="130.6"/>
<use href="#ks5" x="598.7" y="131"/>
<use href="#ks5" x="599.5" y="131.9"/>
<use href="#ks5" x="600.6" y="133"/>
<use href="#ks5" x="601.8" y="133.7"/>
<use href="#ks5" x="603" y="135.2"/>
<use href="#ks5" x="604.5" y="136"/>
<use href="#ks5" x="606" y="136"/>
<use href="#ks5" x="606.7" y="137.9"/>
<use href="#ks5" x="608.2" y="137.8"/>
<use href="#ks5" x="608.4" y="139.1"/>
<use href="#ks5" x="609.5" y="139.8"/>
<use href="#ks5" x="610.6" y="141.4"/>
<use href="#ks5" x="612.8" y="142.7"/>
<use href="#ks5" x="613" y="143.4"/>
<use href="#ks5" x="614.9" y="143.5"/>
<use href="#ks5" x="616.3" y="145.7"/>
<use href="#ks5" x="616.5" y="146.6"/>
<use href="#ks5" x="617.9" y="147"/>
<use href="#ks5" x="619.9" y="148.4"/>
<use href="#ks5" x="619.8" y="148.9"/>
<use href="#ks5" x="621.4" y="149.8"/>
<use href="#ks5" x="622.1" y="150.7"/>
<use href="#ks5" x="623.9" y="151.4"/>
<use href="#ks5" x="624.7" y="153"/>
<use href="#ks5" x="625.1" y="153.9"/>
<use href="#ks5" x="627" y="155.2"/>
<use href="#ks5" x="627.3" y="156.9"/>
<use href="#ks5" x="629.4" y="157.9"/>
<use href="#ks5" x="629.5" y="157.9"/>
<use href="#ks5" x="630.5" y="159.7"/>
<use href="#ks5" x="632" y="159.8"/>
<use href="#ks5" x="633.3" y="161.9"/>
<use href="#ks5" x="634.9" y="162"/>
<use href="#ks5" x="635.1" y="163.9"/>
<use href="#ks5" x="636.8" y="164.6"/>
<use href="#ks5" x="637.2" y="164.7"/>
<use href="#ks5" x="639.2" y="166.3"/>
<use href="#ks5" x="639.4" y="168"/>
<use href="#ks5" x="641.3" y="168.8"/>
<use href="#ks5" x="641.7" y="169.9"/>
<use href="#ks5" x="642.8" y="170.9"/>
<use href="#ks5" x="644.4" y="171.2"/>
<use href="#ks5" x="645.7" y="173"/>
<use href="#ks5" x="646.4" y="172.9"/>
<use href="#ks5" x="647.9" y="174"/>
<use href="#ks5" x="648.5" y="174.9"/>
<use href="#ks5" x="649.5" y="175.9"/>
<use href="#ks5" x="651.1" y="177"/>
<use href="#ks5" x="652.9" y="177.9"/>
<use href="#ks5" x="653.7" y="178.7"/>
<use href="#ks5" x="654.7" y="179.4"/>
<use href="#ks5" x="655.7" y="180.3"/>
<use href="#ks5" x="657.5" y="182"/>
<use href="#ks5" x="658" y="182.8"/>
<use href="#ks5" x="660.1" y="183.3"/>
<use href="#ks5" x="661.1" y="184.7"/>
<use href="#ks5" x="661.8" y="186.2"/>
<use href="#ks5" x="662.8" y="186.7"/>
<use href="#ks5" x="664.4" y="188.3"/>
<use href="#ks5" x="665.2" y="188.9"/>
<use href="#ks5" x="666.9" y="189.5"/>
<use href="#ks5" x="667.7" y="190"/>
<use href="#ks5" x="668.5" y="190.4"/>
<use href="#ks5" x="669.9" y="192"/>
<use href="#ks5" x="671.5" y="191.8"/>
<use href="#ks5" x="672.7" y="193.2"/>
<use href="#ks5" x="675.3" y="193.3"/>
<use href="#ks5" x="675.9" y="193"/>
<use href="#ks5" x="677.4" y="193.5"/>
<use href="#ks5" x="678.7" y="193.6"/>
<use href="#ks5" x="680.4" y="194.5"/>
<use href="#ks5" x="682.8" y="194"/>
<use href="#ks5" x="683.3" y="194.6"/>
<use href="#ks5" x="684.9" y="193.8"/>
<use href="#ks5" x="686" y="193.9"/>
<use href="#ks5" x="688.1" y="194.3"/>
<use href="#ks5" x="689.1" y="194.9"/>
<use href="#ks5" x="690.1" y="195.4"/>
<use href="#ks5" x="691.3" y="196.6"/>
<use href="#ks5" x="692.2" y="197.3"/>
<use href="#ks5" x="693.3" y="198.9"/>
<use href="#ks5" x="694.2" y="200.6"/>
<use href="#ks5" x="695" y="202.2"/>
<use href="#ks5" x="695.4" y="204"/>
<use href="#ks5" x="695.4" y="204.6"/>
<use href="#ks5" x="696.6" y="205.8"/>
<use href="#ks5" x="696.6" y="208"/>
<use href="#ks5" x="696" y="209.7"/>
<use href="#ks5" x="697.5" y="210.9"/>
<use href="#ks5" x="697.6" y="212.6"/>
<use href="#ks5" x="697.1" y="213.7"/>
<use href="#ks5" x="697.9" y="215.6"/>
<use href="#ks5" x="698.6" y="217"/>
<use href="#ks5" x="698.6" y="218.6"/>
<use href="#ks5" x="699.1" y="219.8"/>
<use href="#ks5" x="698.7" y="220.3"/>
<use href="#ks5" x="698.9" y="222.3"/>
<use href="#ks5" x="699.2" y="224.4"/>
<use href="#ks5" x="700.1" y="225.6"/>
<use href="#ks5" x="700.5" y="227.1"/>
<use href="#ks5" x="700.6" y="227.3"/>
<use href="#ks5" x="467" y="89.5"/>
<use href="#ks5" x="467.3" y="86.2"/>
<use href="#ks5" x="468" y="82.8"/>
<use href="#ks5" x="469.8" y="80.6"/>
<use href="#ks5" x="472" y="80"/>
<use href="#ks5" x="701.5" y="225"/>
<use href="#ks5" x="702.5" y="220"/>
<use href="#ks5" x="703.5" y="216"/>
<use href="#ks5" x="703.9" y="213.2"/>
<use href="#ks5" x="704.2" y="206.1"/>
<use href="#ks5" x="704.2" y="194.6"/>
<use href="#ks5" x="704.2" y="183.1"/>
<use href="#bc3" x="503.4" y="131.8"/>
<use href="#bc3" x="504.1" y="130.5"/>
<use href="#bc3" x="505.4" y="129"/>
<use href="#bc3" x="506.6" y="128.2"/>
<use href="#bc3" x="506.9" y="127.2"/>
<use href="#bc3" x="508.8" y="126.1"/>
<use href="#bc3" x="509.9" y="126"/>
<use href="#bc3" x="510.6" y="124.2"/>
<use href="#bc3" x="511.6" y="123.4"/>
<use href="#bc3" x="513" y="122.2"/>
<use href="#bc3" x="513.8" y="120.4"/>
<use href="#bc3" x="514.2" y="119.5"/>
<use href="#bc3" x="515.9" y="118.5"/>
<use href="#bc3" x="516.8" y="117"/>
<use href="#bc3" x="517.2" y="116.3"/>
<use href="#bc3" x="519" y="115.8"/>
<use href="#bc3" x="520.1" y="114.2"/>
<use href="#bc3" x="521" y="113.4"/>
<use href="#bc3" x="522.1" y="112"/>
<use href="#bc3" x="523.7" y="111.1"/>
<use href="#bc3" x="524.9" y="111"/>
<use href="#bc3" x="524.8" y="109.4"/>
<use href="#bc3" x="526.9" y="109"/>
<use href="#bc3" x="527.6" y="107.1"/>
<use href="#bc3" x="528.4" y="106.9"/>
<use href="#bc3" x="529.5" y="105.5"/>
<use href="#bc3" x="530.6" y="104.4"/>
<use href="#bc3" x="532.7" y="103"/>
<use href="#bc3" x="533.6" y="102.4"/>
<use href="#bc3" x="534.8" y="101.6"/>
<use href="#bc3" x="535.1" y="100.9"/>
<use href="#bc3" x="536.5" y="98.8"/>
<use href="#bc3" x="537.1" y="98.3"/>
<use href="#bc3" x="538.7" y="97.1"/>
<use href="#bc3" x="539.5" y="96.2"/>
<use href="#bc3" x="540.9" y="95.8"/>
<use href="#bc3" x="541.7" y="94.9"/>
<use href="#bc3" x="544" y="93.3"/>
<use href="#bc3" x="545.4" y="93.3"/>
<use href="#bc3" x="546.7" y="92.1"/>
<use href="#bc3" x="547.4" y="91.6"/>
<use href="#bc3" x="549.5" y="91.2"/>
<use href="#bc3" x="550.2" y="90.5"/>
<use href="#bc3" x="551.5" y="89.6"/>
<use href="#bc3" x="552.7" y="90.1"/>
<use href="#bc3" x="554.4" y="90"/>
<use href="#bc3" x="555.9" y="89.1"/>
<use href="#bc3" x="557.7" y="89.1"/>
<use href="#bc3" x="559" y="90.2"/>
<use href="#bc3" x="561.1" y="90.3"/>
<use href="#bc3" x="562.2" y="90.9"/>
<use href="#bc3" x="563.9" y="91.2"/>
<use href="#bc3" x="564.9" y="91.4"/>
<use href="#bc3" x="566.2" y="92.7"/>
<use href="#bc3" x="567.4" y="93.8"/>
<use href="#bc3" x="568.1" y="94"/>
<use href="#bc3" x="570" y="95.1"/>
<use href="#bc3" x="570.5" y="96.4"/>
<use href="#bc3" x="571.4" y="97.9"/>
<use href="#bc3" x="573.2" y="98.4"/>
<use href="#bc3" x="573.8" y="99.6"/>
<use href="#bc3" x="574.7" y="100.8"/>
<use href="#bc3" x="575.2" y="101.7"/>
<use href="#bc3" x="576.3" y="103.7"/>
<use href="#bc3" x="577.6" y="104"/>
<use href="#bc3" x="579" y="106.1"/>
<use href="#bc3" x="579.5" y="106.2"/>
<use href="#bc3" x="580.1" y="107.3"/>
<use href="#bc3" x="581.3" y="108.4"/>
<use href="#bc3" x="582.2" y="109.7"/>
<use href="#bc3" x="583.6" y="111.6"/>
<use href="#bc3" x="584.8" y="112.1"/>
<use href="#bc3" x="585.5" y="113.3"/>
<use href="#bc3" x="586.5" y="114.2"/>
<use href="#bc3" x="587.2" y="115.1"/>
<use href="#bc3" x="589.4" y="115.9"/>
<use href="#bc3" x="590" y="117.4"/>
<use href="#bc3" x="591.7" y="117.9"/>
<use href="#bc3" x="592.2" y="118.8"/>
<use href="#bc3" x="593.5" y="119.9"/>
<use href="#bc3" x="595.4" y="121.3"/>
<use href="#bc3" x="596.5" y="121.2"/>
<use href="#bc3" x="596.8" y="122.8"/>
<use href="#bc3" x="599.1" y="123.3"/>
<use href="#bc3" x="600" y="123.6"/>
<use href="#bc3" x="601" y="125.6"/>
<use href="#bc3" x="602.7" y="126.4"/>
<use href="#bc3" x="604" y="126.6"/>
<use href="#bc3" x="604.1" y="127.4"/>
<use href="#bc3" x="605.7" y="129.1"/>
<use href="#bc3" x="607.3" y="130.2"/>
<use href="#bc3" x="608.1" y="131.2"/>
<use href="#bc3" x="608.9" y="132"/>
<use href="#bc3" x="609.5" y="133.4"/>
<use href="#bc3" x="610.8" y="134.6"/>
<use href="#bc3" x="612.3" y="134.9"/>
<use href="#bc3" x="612.7" y="135.9"/>
<use href="#bc3" x="614.4" y="137.6"/>
<use href="#bc3" x="614.7" y="138"/>
<use href="#bc3" x="616.2" y="139.7"/>
<use href="#bc3" x="617" y="140.4"/>
<use href="#bc3" x="618.3" y="141.3"/>
<use href="#bc3" x="618.9" y="142.9"/>
<use href="#bc3" x="620.8" y="144.2"/>
<use href="#bc3" x="621.7" y="145.1"/>
<use href="#bc3" x="622.1" y="145.8"/>
<use href="#bc3" x="624.1" y="147.3"/>
<use href="#bc3" x="624.5" y="147.4"/>
<use href="#bc3" x="625.9" y="149.1"/>
<use href="#bc3" x="627" y="149.5"/>
<use href="#bc3" x="628.5" y="151.2"/>
<use href="#bc3" x="629.2" y="151.1"/>
<use href="#bc3" x="630.5" y="152.4"/>
<use href="#bc3" x="632.1" y="153.1"/>
<use href="#bc3" x="633.4" y="154.6"/>
<use href="#bc3" x="634.3" y="154.9"/>
<use href="#bc3" x="636.1" y="155.9"/>
<use href="#bc3" x="637.1" y="156.7"/>
<use href="#bc3" x="637.6" y="158.2"/>
<use href="#bc3" x="638.9" y="159.3"/>
<use href="#bc3" x="640.3" y="159.3"/>
<use href="#bc3" x="641.2" y="160.5"/>
<use href="#bc3" x="642.9" y="162"/>
<use href="#bc3" x="643.5" y="162.3"/>
<use href="#bc3" x="644.8" y="163.9"/>
<use href="#bc3" x="645.9" y="163.7"/>
<use href="#bc3" x="647" y="165"/>
<use href="#bc3" x="649.2" y="166.5"/>
<use href="#bc3" x="650.2" y="167.5"/>
<use href="#bc3" x="651.6" y="167.6"/>
<use href="#bc3" x="652" y="169.2"/>
<use href="#bc3" x="653.8" y="169"/>
<use href="#bc3" x="655" y="170.3"/>
<use href="#bc3" x="655.8" y="171.1"/>
<use href="#bc3" x="656.8" y="171.6"/>
<use href="#bc3" x="658.1" y="172.9"/>
<use href="#bc3" x="660.1" y="173.5"/>
<use href="#bc3" x="661.3" y="174.5"/>
<use href="#bc3" x="661.8" y="176.2"/>
<use href="#bc3" x="663.6" y="176.6"/>
<use href="#bc3" x="663.9" y="177.5"/>
<use href="#bc3" x="665.5" y="178.9"/>
<use href="#bc3" x="666.5" y="179.1"/>
<use href="#bc3" x="668.6" y="179.5"/>
<use href="#bc3" x="669.4" y="181.1"/>
<use href="#bc3" x="671.2" y="180.8"/>
<use href="#bc3" x="671.7" y="181.4"/>
<use href="#bc3" x="674.2" y="181.9"/>
<use href="#bc3" x="675.5" y="182.7"/>
<use href="#bc3" x="676.5" y="181.8"/>
<use href="#bc3" x="678.7" y="181.9"/>
<use href="#bc3" x="679.3" y="181.6"/>
<use href="#bc3" x="680.8" y="180.4"/>
<use href="#bc3" x="681.7" y="180.3"/>
<use href="#bc3" x="684" y="179.3"/>
<use href="#bc3" x="685.2" y="177.5"/>
<use href="#bc3" x="685.3" y="177"/>
<use href="#bc3" x="687.2" y="176.4"/>
<use href="#bc3" x="687.4" y="174.4"/>
<use href="#bc3" x="688.3" y="173.4"/>
<use href="#bc3" x="689.8" y="171.8"/>
<use href="#bc3" x="690.4" y="171.2"/>
<use href="#bc3" x="691.2" y="169.9"/>
<use href="#bc3" x="691.6" y="168.1"/>
<use href="#bc3" x="691.9" y="166.8"/>
<use href="#bc3" x="693.1" y="165.1"/>
<use href="#bc3" x="693" y="164.5"/>
<use href="#bc3" x="693.7" y="162.3"/>
<use href="#bc3" x="694.1" y="161.5"/>
<use href="#bc3" x="695" y="160.7"/>
<use href="#bc3" x="696.2" y="159.3"/>
<use href="#bc3" x="695.9" y="156.8"/>
<use href="#bc3" x="696.1" y="155.8"/>
<use href="#bc3" x="697.3" y="154.3"/>
<use href="#bc3" x="697.2" y="152.9"/>
<use href="#bc3" x="698.1" y="151.7"/>
<use href="#bc3" x="698.8" y="150.5"/>
<use href="#bc3" x="699.1" y="148.2"/>
<use href="#bc3" x="699.8" y="147"/>
<use href="#bc3" x="700" y="145.7"/>
<use href="#bc3" x="700.7" y="144.1"/>
<use href="#bc3" x="700.6" y="142.7"/>
<use href="#bc3" x="700.7" y="142.9"/>
<line x1="441" y1="5.4" x2="441" y2="244.2" stroke="#666" stroke-width="2"/>
<line x1="738" y1="5.4" x2="738" y2="244.2" stroke="#666" stroke-width="2"/>
<line x1="440" y1="6" x2="739" y2="6" stroke="#666" stroke-width="2"/>
<line x1="440" y1="243.6" x2="739" y2="243.6" stroke="#1e1e1e" stroke-width="1.2"/>
<line x1="436" y1="243.5" x2="441" y2="243.5" stroke="#1e1e1e" stroke-width="1" />
<line x1="436" y1="190.5" x2="441" y2="190.5" stroke="#1e1e1e" stroke-width="1" />
<line x1="436" y1="138.5" x2="441" y2="138.5" stroke="#1e1e1e" stroke-width="1" />
<line x1="436" y1="85.5" x2="441" y2="85.5" stroke="#1e1e1e" stroke-width="1" />
<line x1="436" y1="32.5" x2="441" y2="32.5" stroke="#1e1e1e" stroke-width="1" />
<line x1="438" y1="217.5" x2="441" y2="217.5" stroke="#1e1e1e" stroke-width="1" />
<line x1="438" y1="164.5" x2="441" y2="164.5" stroke="#1e1e1e" stroke-width="1" />
<line x1="438" y1="111.5" x2="441" y2="111.5" stroke="#1e1e1e" stroke-width="1" />
<line x1="438" y1="58.5" x2="441" y2="58.5" stroke="#1e1e1e" stroke-width="1" />
<line x1="438" y1="6.5" x2="441" y2="6.5" stroke="#1e1e1e" stroke-width="1" />
<line x1="441.5" y1="243.6" x2="441.5" y2="248.1" stroke="#1e1e1e" stroke-width="1" />
<line x1="495.5" y1="243.6" x2="495.5" y2="248.1" stroke="#1e1e1e" stroke-width="1" />
<line x1="549.5" y1="243.6" x2="549.5" y2="248.1" stroke="#1e1e1e" stroke-width="1" />
<line x1="603.5" y1="243.6" x2="603.5" y2="248.1" stroke="#1e1e1e" stroke-width="1" />
<line x1="657.5" y1="243.6" x2="657.5" y2="248.1" stroke="#1e1e1e" stroke-width="1" />
<line x1="711.5" y1="243.6" x2="711.5" y2="248.1" stroke="#1e1e1e" stroke-width="1" />
<line x1="468.5" y1="243.6" x2="468.5" y2="246.1" stroke="#1e1e1e" stroke-width="1" />
<line x1="522.5" y1="243.6" x2="522.5" y2="246.1" stroke="#1e1e1e" stroke-width="1" />
<line x1="576.5" y1="243.6" x2="576.5" y2="246.1" stroke="#1e1e1e" stroke-width="1" />
<line x1="630.5" y1="243.6" x2="630.5" y2="246.1" stroke="#1e1e1e" stroke-width="1" />
<line x1="684.5" y1="243.6" x2="684.5" y2="246.1" stroke="#1e1e1e" stroke-width="1" />
<line x1="738.5" y1="243.6" x2="738.5" y2="246.1" stroke="#1e1e1e" stroke-width="1" />
<text x="441" y="261.1" font-size="12" text-anchor="middle" stroke="#1a1a1a" stroke-width="0.2" >15</text>
<text x="495" y="261.1" font-size="12" text-anchor="middle" stroke="#1a1a1a" stroke-width="0.2" >20</text>
<text x="549" y="261.1" font-size="12" text-anchor="middle" stroke="#1a1a1a" stroke-width="0.2" >25</text>
<text x="603" y="261.1" font-size="12" text-anchor="middle" stroke="#1a1a1a" stroke-width="0.2" >30</text>
<text x="657" y="261.1" font-size="12" text-anchor="middle" stroke="#1a1a1a" stroke-width="0.2" >35</text>
<text x="711" y="261.1" font-size="12" text-anchor="middle" stroke="#1a1a1a" stroke-width="0.2" >40</text>
<text x="433" y="247.4" font-size="12" text-anchor="end" stroke="#1a1a1a" stroke-width="0.2" >0.8</text>
<text x="433" y="194.65" font-size="12" text-anchor="end" stroke="#1a1a1a" stroke-width="0.2" >0.9</text>
<text x="433" y="141.9" font-size="12" text-anchor="end" stroke="#1a1a1a" stroke-width="0.2" >1.0</text>
<text x="433" y="89.15" font-size="12" text-anchor="end" stroke="#1a1a1a" stroke-width="0.2" >1.1</text>
<text x="433" y="36.4" font-size="12" text-anchor="end" stroke="#1a1a1a" stroke-width="0.2" >1.2</text>
<text x="589.5" y="282.2" font-size="16.6" text-anchor="middle" stroke="#1a1a1a" stroke-width="0.2" >T [°C]</text>
<text x="410" y="124" font-size="16" text-anchor="middle" transform="rotate(-90 410 124)" stroke="#1a1a1a" stroke-width="0.2" >tan(δ)</text>
<text x="400.6" y="13.8" font-size="18" font-weight="bold" stroke="#1a1a1a" stroke-width="0.2" >B</text>
<text x="471.2" y="143.8" font-size="12.25" text-anchor="middle" stroke="#1a1a1a" stroke-width="0.2" >Solid-like</text>
<text x="471.2" y="158.4" font-size="12.25" text-anchor="middle" stroke="#1a1a1a" stroke-width="0.2" >behavior</text>
<use href="#ks5" x="622.9" y="17.1"/>
<text x="640.5" y="21.3" font-size="12.4" stroke="#1a1a1a" stroke-width="0.2" >PLGA-PEG</text>
<use href="#bc3" x="622.9" y="32.4"/>
<text x="640.5" y="36.6" font-size="12.4" stroke="#1a1a1a" stroke-width="0.2" >EPO-PLGA-PEG</text>
<polyline points="76.1,399.4 102.8,427 118.4,440.6 129.4,446.4 138,449.3 145,450.9 150.9,451.9 156.1,452.5 160.6,452.9 164.6,453.1 168.3,453.2 171.6,453.2 174.7,453.1 177.6,452.9 180.2,452.7 182.7,452.5 185,452.3 187.2,452.1 189.3,451.9 191.3,451.7 193.1,451.4 194.9,451.2 196.6,451 198.3,450.7 199.8,450.5 201.4,450.3 202.8,450.1 204.2,449.9 205.5,449.7 206.9,449.6 208.1,449.4 209.3,449.2 210.5,449.1 211.7,448.9 212.8,448.8 213.9,448.6 214.9,448.5 215.9,448.4 216.9,448.2 217.9,448.1 218.9,448 219.8,447.8 220.7,447.7 221.6,447.6 222.4,447.5 223.3,447.4 224.1,447.2 224.9,447.1 225.7,447 226.5,446.9 227.2,446.8 228,446.8 228.7,446.7 229.4,446.6 230.1,446.5 230.8,446.4 231.5,446.4 232.2,446.3 232.8,446.2 233.5,446.2 234.1,446.1 234.8,446 235.4,446 236,445.9 236.6,445.9 237.2,445.8 237.7,445.8 238.3,445.7 238.9,445.7 239.4,445.6 240,445.6 240.5,445.5 241,445.5 241.6,445.5 242.1,445.4 242.6,445.4 243.1,445.4 243.6,445.3 244.1,445.3 244.6,445.3 245,445.2 245.5,445.2 246,445.2 246.4,445.1 246.9,445.1 247.3,445.1 247.8,445.1 248.2,445 248.6,445 249.1,445 249.5,445 249.9,444.9 250.3,444.9 250.7,444.9 251.2,444.9 251.6,444.8 252,444.8 252.4,444.8 252.7,444.8 253.1,444.7 253.5,444.7 253.9,444.7 254.3,444.7 254.6,444.7 255,444.6 255.4,444.6 255.7,444.6 256.1,444.6 256.4,444.6 256.8,444.5 257.1,444.5 257.5,444.5 257.8,444.5 258.2,444.5 258.5,444.5 258.8,444.4 259.2,444.4 259.5,444.4 259.8,444.4 260.1,444.4 260.5,444.4 260.8,444.3 261.1,444.3 261.4,444.3 261.7,444.3 262,444.3 262.3,444.3 262.6,444.2 262.9,444.2 263.2,444.2 263.5,444.2 263.8,444.2 264.1,444.2 264.4,444.2 264.7,444.1 264.9,444.1 265.2,444.1 265.5,444.1 265.8,444.1 266.1,444.1 266.3,444.1 266.6,444 266.9,444 267.1,444 267.4,444 267.7,444 267.9,444 268.2,444 268.5,444 268.7,443.9 269,443.9 269.2,443.9 269.5,443.9 269.7,443.9 270,443.9 270.2,443.9 270.5,443.9 270.7,443.8 271,443.8 271.2,443.8 271.4,443.8 271.7,443.8 271.9,443.8 272.1,443.8 272.4,443.8 272.6,443.7 272.8,443.7 273.1,443.7 273.3,443.7 273.5,443.7 273.7,443.7 274,443.7 274.2,443.7 274.4,443.7 274.6,443.6 274.9,443.6 275.1,443.6 275.3,443.6 275.5,443.6 275.7,443.6 275.9,443.6 276.1,443.6 276.4,443.6 276.6,443.6 276.8,443.5 277,443.5 277.2,443.5 277.4,443.5 277.6,443.5 277.8,443.5 278,443.5 278.2,443.5 278.4,443.5 278.6,443.5 278.8,443.4 279,443.4 279.2,443.4 279.4,443.4 279.6,443.4 279.8,443.4 280,443.4 280.2,443.4 280.3,443.4 280.5,443.4 280.7,443.4 280.9,443.3 281.1,443.3 281.3,443.3 281.5,443.3 281.6,443.3 281.8,443.3 282,443.3 282.2,443.3 282.4,443.3 282.5,443.3 282.7,443.3 282.9,443.3 283.1,443.2 283.3,443.2 283.4,443.2 283.6,443.2 283.8,443.2 284,443.2 284.1,443.2 284.3,443.2 284.5,443.2 284.6,443.2 284.8,443.2 285,443.2 285.1,443.2 285.3,443.1 285.5,443.1 285.6,443.1 285.8,443.1 286,443.1 286.1,443.1 286.3,443.1 286.5,443.1 286.6,443.1 286.8,443.1 286.9,443.1 287.1,443.1 287.3,443.1 287.4,443.1 287.6,443.1 287.7,443 287.9,443 288,443 288.2,443 288.3,443 288.5,443 288.7,443 288.8,443 289,443 289.1,443 289.3,443 289.4,443 289.6,443 289.7,443 289.9,443 290,442.9 290.1,442.9 290.3,442.9 290.4,442.9 290.6,442.9 290.7,442.9 290.9,442.9 291,442.9 291.2,442.9 291.3,442.9 291.4,442.9 291.6,442.9 291.7,442.9 291.9,442.9 292,442.9 292.1,442.9 292.3,442.9 292.4,442.9 292.6,442.8 292.7,442.8 292.8,442.8 293,442.8 293.1,442.8 293.2,442.8 293.4,442.8 293.5,442.8 293.6,442.8 293.8,442.8 293.9,442.8 294,442.8 294.2,442.8 294.3,442.8 294.4,442.8 294.6,442.8 294.7,442.8 294.8,442.8 295,442.8 295.1,442.7 295.2,442.7 295.4,442.7 295.5,442.7 295.6,442.7 295.7,442.7 295.9,442.7 296,442.7 296.1,442.7 296.2,442.7 296.4,442.7 296.5,442.7 296.6,442.7 296.7,442.7 296.9,442.7 297,442.7 297.1,442.7 297.2,442.7 297.3,442.7 297.5,442.7 297.6,442.7 297.7,442.7 297.8,442.7 298,442.6 298.1,442.6 298.2,442.6 298.3,442.6 298.4,442.6 298.5,442.6 298.7,442.6 298.8,442.6 298.9,442.6 299,442.6 299.1,442.6 299.2,442.6 299.4,442.6 299.5,442.6 299.6,442.6 299.7,442.6 299.8,442.6 299.9,442.6 300,442.6 300.2,442.6 300.3,442.6 300.4,442.6 300.5,442.6 300.6,442.6 300.7,442.6 300.8,442.6 300.9,442.6 301.1,442.5 301.2,442.5 301.3,442.5 301.4,442.5 301.5,442.5 301.6,442.5 301.7,442.5 301.8,442.5 301.9,442.5 302,442.5 302.1,442.5 302.3,442.5 302.4,442.5 302.5,442.5 302.6,442.5 302.7,442.5 302.8,442.5 302.9,442.5 303,442.5 303.1,442.5 303.2,442.5 303.3,442.5 303.4,442.5 303.5,442.5 303.6,442.5 303.7,442.5 303.8,442.5 303.9,442.5 304,442.5 304.1,442.5 304.2,442.5 304.3,442.5 304.4,442.5 304.5,442.5 304.6,442.5 304.7,442.5 304.8,442.5 304.9,442.4 305,442.4 305.1,442.4 305.2,442.4 305.3,442.4 305.4,442.4 305.5,442.4 305.6,442.4 305.7,442.4 305.8,442.4 305.9,442.4 306,442.4 306.1,442.4 306.2,442.4 306.3,442.4 306.4,442.4 306.5,442.4 306.6,442.4 306.7,442.4 306.8,442.4 306.9,442.4 307,442.4 307.1,442.4 307.2,442.4 307.3,442.4 307.4,442.4 307.5,442.4 307.5,442.4 307.6,442.4 307.7,442.4 307.8,442.4 307.9,442.4 308,442.4 308.1,442.4 308.2,442.4 308.3,442.4 308.4,442.4 308.5,442.4 308.6,442.4 308.6,442.4 308.7,442.4 308.8,442.4 308.9,442.4 309,442.4 309.1,442.4 309.2,442.4 309.3,442.4 309.4,442.4 309.5,442.4 309.5,442.4 309.6,442.4 309.7,442.4 309.8,442.4 309.9,442.4 310,442.4 310.1,442.4 310.2,442.4 310.2,442.4 310.3,442.4 310.4,442.4 310.5,442.4 310.6,442.4 310.7,442.4 310.8,442.4 310.9,442.4 310.9,442.4 311,442.4 311.1,442.4 311.2,442.4 311.3,442.4 311.4,442.4 311.4,442.4 311.5,442.4 311.6,442.4 311.7,442.4 311.8,442.4 311.9,442.4 311.9,442.4 312,442.4 312.1,442.4 312.2,442.4 312.3,442.4 312.4,442.4 312.4,442.4 312.5,442.4 312.6,442.4 312.7,442.4 312.8,442.4 312.9,442.4 312.9,442.4 313,442.4 313.1,442.4 313.2,442.4 313.3,442.4 313.3,442.4 313.4,442.4 313.5,442.4 313.6,442.4 313.7,442.4 313.7,442.4 313.8,442.4 313.9,442.4 314,442.4 314.1,442.4 314.1,442.4 314.2,442.4 314.3,442.4 314.4,442.4 314.4,442.4 314.5,442.4 314.6,442.4 314.7,442.4 314.8,442.4 314.8,442.4 314.9,442.4 315,442.4 315.1,442.4 315.1,442.4 315.2,442.4 315.3,442.4 315.4,442.4 315.4,442.4 315.5,442.4 315.6,442.4 315.7,442.4 315.7,442.4 315.8,442.4 315.9,442.4 316,442.4 316,442.4 316.1,442.4 316.2,442.4 316.3,442.4 316.3,442.4 316.4,442.4 316.5,442.4 316.6,442.4 316.6,442.4 316.7,442.4 316.8,442.4 316.9,442.4 316.9,442.4 317,442.4 317.1,442.4 317.2,442.5 317.2,442.5 317.3,442.5 317.4,442.5 317.4,442.5 317.5,442.5 317.6,442.5 317.7,442.5 317.7,442.5 317.8,442.5 317.9,442.5 317.9,442.5 318,442.5 318.1,442.5 318.2,442.5 318.2,442.5 318.3,442.5 318.4,442.5 318.4,442.5 318.5,442.5 318.6,442.5 318.6,442.5 318.7,442.5 318.8,442.5 318.9,442.5 318.9,442.5 319,442.5 319.1,442.5 319.1,442.5 319.2,442.5 319.3,442.5 319.3,442.5 319.4,442.5 319.5,442.5 319.5,442.5 319.6,442.5 319.7,442.5 319.8,442.5 319.8,442.5 319.9,442.5 320,442.5 320,442.5 320.1,442.5 320.2,442.5 320.2,442.5 320.3,442.5 320.4,442.5 320.4,442.5 320.5,442.5 320.6,442.5 320.6,442.5 320.7,442.5 320.8,442.5 320.8,442.5 320.9,442.5 321,442.5" fill="none" stroke="#ff0000" stroke-width="0.55" stroke-linejoin="round" />
<polyline points="76.1,446.1 102.8,404.2 118.4,382.8 129.4,372.1 138,366.4 145,362.9 150.9,359.9 156.1,357.9 160.6,356.4 164.6,355.4 168.3,355 171.6,354.7 174.7,354.5 177.6,354.3 180.2,354.1 182.7,354 185,353.9 187.2,353.8 189.3,353.7 191.3,353.6 193.1,353.6 194.9,353.5 196.6,353.4 198.3,353.4 199.8,353.3 201.4,353.3 202.8,353.2 204.2,353.2 205.5,353.1 206.9,353.1 208.1,353.1 209.3,353 210.5,353 211.7,353 212.8,352.9 213.9,352.9 214.9,352.9 215.9,352.9 216.9,352.9 217.9,352.8 218.9,352.8 219.8,352.8 220.7,352.8 221.6,352.8 222.4,352.8 223.3,352.8 224.1,352.7 224.9,352.7 225.7,352.7 226.5,352.7 227.2,352.7 228,352.7 228.7,352.7 229.4,352.7 230.1,352.6 230.8,352.6 231.5,352.6 232.2,352.6 232.8,352.6 233.5,352.6 234.1,352.6 234.8,352.5 235.4,352.5 236,352.5 236.6,352.5 237.2,352.5 237.7,352.5 238.3,352.5 238.9,352.4 239.4,352.4 240,352.4 240.5,352.4 241,352.4 241.6,352.3 242.1,352.3 242.6,352.3 243.1,352.3 243.6,352.3 244.1,352.2 244.6,352.2 245,352.2 245.5,352.2 246,352.2 246.4,352.1 246.9,352.1 247.3,352.1 247.8,352.1 248.2,352.1 248.6,352 249.1,352 249.5,352 249.9,352 250.3,352 250.7,351.9 251.2,351.9 251.6,351.9 252,351.9 252.4,351.9 252.7,351.9 253.1,351.8 253.5,351.8 253.9,351.8 254.3,351.8 254.6,351.8 255,351.7 255.4,351.7 255.7,351.7 256.1,351.7 256.4,351.7 256.8,351.6 257.1,351.6 257.5,351.6 257.8,351.6 258.2,351.6 258.5,351.6 258.8,351.5 259.2,351.5 259.5,351.5 259.8,351.5 260.1,351.5 260.5,351.5 260.8,351.4 261.1,351.4 261.4,351.4 261.7,351.4 262,351.4 262.3,351.4 262.6,351.3 262.9,351.3 263.2,351.3 263.5,351.3 263.8,351.3 264.1,351.3 264.4,351.3 264.7,351.2 264.9,351.2 265.2,351.2 265.5,351.2 265.8,351.2 266.1,351.2 266.3,351.2 266.6,351.2 266.9,351.1 267.1,351.1 267.4,351.1 267.7,351.1 267.9,351.1 268.2,351.1 268.5,351.1 268.7,351.1 269,351 269.2,351 269.5,351 269.7,351 270,351 270.2,351 270.5,351 270.7,351 271,351 271.2,350.9 271.4,350.9 271.7,350.9 271.9,350.9 272.1,350.9 272.4,350.9 272.6,350.9 272.8,350.9 273.1,350.9 273.3,350.9 273.5,350.9 273.7,350.8 274,350.8 274.2,350.8 274.4,350.8 274.6,350.8 274.9,350.8 275.1,350.8 275.3,350.8 275.5,350.8 275.7,350.8 275.9,350.7 276.1,350.7 276.4,350.7 276.6,350.7 276.8,350.7 277,350.7 277.2,350.7 277.4,350.7 277.6,350.7 277.8,350.7 278,350.7 278.2,350.7 278.4,350.6 278.6,350.6 278.8,350.6 279,350.6 279.2,350.6 279.4,350.6 279.6,350.6 279.8,350.6 280,350.6 280.2,350.6 280.3,350.6 280.5,350.6 280.7,350.6 280.9,350.5 281.1,350.5 281.3,350.5 281.5,350.5 281.6,350.5 281.8,350.5 282,350.5 282.2,350.5 282.4,350.5 282.5,350.5 282.7,350.5 282.9,350.5 283.1,350.5 283.3,350.5 283.4,350.5 283.6,350.4 283.8,350.4 284,350.4 284.1,350.4 284.3,350.4 284.5,350.4 284.6,350.4 284.8,350.4 285,350.4 285.1,350.4 285.3,350.4 285.5,350.4 285.6,350.4 285.8,350.4 286,350.4 286.1,350.4 286.3,350.4 286.5,350.4 286.6,350.4 286.8,350.4 286.9,350.3 287.1,350.3 287.3,350.3 287.4,350.3 287.6,350.3 287.7,350.3 287.9,350.3 288,350.3 288.2,350.3 288.3,350.3 288.5,350.3 288.7,350.3 288.8,350.3 289,350.3 289.1,350.3 289.3,350.3 289.4,350.3 289.6,350.3 289.7,350.3 289.9,350.3 290,350.3 290.1,350.3 290.3,350.3 290.4,350.3 290.6,350.3 290.7,350.3 290.9,350.3 291,350.3 291.2,350.3 291.3,350.3 291.4,350.3 291.6,350.3 291.7,350.3 291.9,350.3 292,350.3 292.1,350.3 292.3,350.3 292.4,350.3 292.6,350.3 292.7,350.3 292.8,350.3 293,350.3 293.1,350.3 293.2,350.3 293.4,350.3 293.5,350.3 293.6,350.3 293.8,350.4 293.9,350.4 294,350.4 294.2,350.4 294.3,350.4 294.4,350.4 294.6,350.4 294.7,350.4 294.8,350.4 295,350.4 295.1,350.4 295.2,350.4 295.4,350.4 295.5,350.4 295.6,350.4 295.7,350.5 295.9,350.5 296,350.5 296.1,350.5 296.2,350.5 296.4,350.5 296.5,350.5 296.6,350.5 296.7,350.5 296.9,350.5 297,350.5 297.1,350.6 297.2,350.6 297.3,350.6 297.5,350.6 297.6,350.6 297.7,350.6 297.8,350.6 298,350.6 298.1,350.6 298.2,350.6 298.3,350.7 298.4,350.7 298.5,350.7 298.7,350.7 298.8,350.7 298.9,350.7 299,350.7 299.1,350.7 299.2,350.7 299.4,350.7 299.5,350.8 299.6,350.8 299.7,350.8 299.8,350.8 299.9,350.8 300,350.8 300.2,350.8 300.3,350.8 300.4,350.8 300.5,350.8 300.6,350.9 300.7,350.9 300.8,350.9 300.9,350.9 301.1,350.9 301.2,350.9 301.3,350.9 301.4,350.9 301.5,350.9 301.6,350.9 301.7,351 301.8,351 301.9,351 302,351 302.1,351 302.3,351 302.4,351 302.5,351.1 302.6,351.1 302.7,351.1 302.8,351.1 302.9,351.1 303,351.1 303.1,351.1 303.2,351.2 303.3,351.2 303.4,351.2 303.5,351.2 303.6,351.2 303.7,351.2 303.8,351.3 303.9,351.3 304,351.3 304.1,351.3 304.2,351.3 304.3,351.3 304.4,351.4 304.5,351.4 304.6,351.4 304.7,351.4 304.8,351.4 304.9,351.4 305,351.5 305.1,351.5 305.2,351.5 305.3,351.5 305.4,351.5 305.5,351.5 305.6,351.6 305.7,351.6 305.8,351.6 305.9,351.6 306,351.6 306.1,351.6 306.2,351.6 306.3,351.7 306.4,351.7 306.5,351.7 306.6,351.7 306.7,351.7 306.8,351.7 306.9,351.7 307,351.8 307.1,351.8 307.2,351.8 307.3,351.8 307.4,351.8 307.5,351.8 307.5,351.9 307.6,351.9 307.7,351.9 307.8,351.9 307.9,351.9 308,351.9 308.1,352 308.2,352 308.3,352 308.4,352 308.5,352 308.6,352 308.6,352.1 308.7,352.1 308.8,352.1 308.9,352.1 309,352.1 309.1,352.2 309.2,352.2 309.3,352.2 309.4,352.2 309.5,352.3 309.5,352.3 309.6,352.3 309.7,352.3 309.8,352.3 309.9,352.4 310,352.4 310.1,352.4 310.2,352.4 310.2,352.5 310.3,352.5 310.4,352.5 310.5,352.5 310.6,352.6 310.7,352.6 310.8,352.6 310.9,352.7 310.9,352.7 311,352.7 311.1,352.7 311.2,352.8 311.3,352.8 311.4,352.8 311.4,352.9 311.5,352.9 311.6,352.9 311.7,352.9 311.8,353 311.9,353 311.9,353 312,353.1 312.1,353.1 312.2,353.1 312.3,353.2 312.4,353.2 312.4,353.2 312.5,353.2 312.6,353.3 312.7,353.3 312.8,353.3 312.9,353.4 312.9,353.4 313,353.4 313.1,353.5 313.2,353.5 313.3,353.5 313.3,353.5 313.4,353.6 313.5,353.6 313.6,353.6 313.7,353.7 313.7,353.7 313.8,353.7 313.9,353.8 314,353.8 314.1,353.8 314.1,353.8 314.2,353.9 314.3,353.9 314.4,353.9 314.4,354 314.5,354 314.6,354 314.7,354.1 314.8,354.1 314.8,354.1 314.9,354.1 315,354.2 315.1,354.2 315.1,354.2 315.2,354.3 315.3,354.3 315.4,354.3 315.4,354.3 315.5,354.4 315.6,354.4 315.7,354.4 315.7,354.5 315.8,354.5 315.9,354.5 316,354.5 316,354.6 316.1,354.6 316.2,354.6 316.3,354.7 316.3,354.7 316.4,354.7 316.5,354.7 316.6,354.8 316.6,354.8 316.7,354.8 316.8,354.9 316.9,354.9 316.9,354.9 317,354.9 317.1,355 317.2,355 317.2,355 317.3,355 317.4,355.1 317.4,355.1 317.5,355.1 317.6,355.2 317.7,355.2 317.7,355.2 317.8,355.2 317.9,355.3 317.9,355.3 318,355.3 318.1,355.4 318.2,355.4 318.2,355.4 318.3,355.4 318.4,355.5 318.4,355.5 318.5,355.5 318.6,355.5 318.6,355.6 318.7,355.6 318.8,355.6 318.9,355.7 318.9,355.7 319,355.7 319.1,355.7 319.1,355.8 319.2,355.8 319.3,355.8 319.3,355.8 319.4,355.9 319.5,355.9 319.5,355.9 319.6,356 319.7,356 319.8,356 319.8,356 319.9,356.1 320,356.1 320,356.1 320.1,356.1 320.2,356.2 320.2,356.2 320.3,356.2 320.4,356.2 320.4,356.3 320.5,356.3 320.6,356.3 320.6,356.4 320.7,356.4 320.8,356.4 320.8,356.4 320.9,356.5 321,356.5" fill="none" stroke="#666" stroke-width="0.6" stroke-linejoin="round" />
<polyline points="76.1,439.4 102.8,402.6 118.4,383.4 129.4,374.4 138,369.1 145,365.7 150.9,363.3 156.1,361.8 160.6,360.7 164.6,359.6 168.3,359 171.6,358.5 174.7,358.1 177.6,357.8 180.2,357.6 182.7,357.5 185,357.3 187.2,357.2 189.3,357.1 191.3,356.9 193.1,356.8 194.9,356.7 196.6,356.6 198.3,356.5 199.8,356.4 201.4,356.3 202.8,356.2 204.2,356.2 205.5,356.1 206.9,356 208.1,356 209.3,355.9 210.5,355.9 211.7,355.8 212.8,355.8 213.9,355.8 214.9,355.7 215.9,355.7 216.9,355.7 217.9,355.6 218.9,355.6 219.8,355.6 220.7,355.6 221.6,355.5 222.4,355.5 223.3,355.5 224.1,355.5 224.9,355.5 225.7,355.4 226.5,355.4 227.2,355.4 228,355.4 228.7,355.4 229.4,355.3 230.1,355.3 230.8,355.3 231.5,355.3 232.2,355.3 232.8,355.2 233.5,355.2 234.1,355.2 234.8,355.2 235.4,355.2 236,355.1 236.6,355.1 237.2,355.1 237.7,355.1 238.3,355.1 238.9,355 239.4,355 240,355 240.5,355 241,355 241.6,354.9 242.1,354.9 242.6,354.9 243.1,354.9 243.6,354.9 244.1,354.8 244.6,354.8 245,354.8 245.5,354.8 246,354.7 246.4,354.7 246.9,354.7 247.3,354.7 247.8,354.7 248.2,354.6 248.6,354.6 249.1,354.6 249.5,354.6 249.9,354.6 250.3,354.5 250.7,354.5 251.2,354.5 251.6,354.5 252,354.5 252.4,354.4 252.7,354.4 253.1,354.4 253.5,354.4 253.9,354.4 254.3,354.3 254.6,354.3 255,354.3 255.4,354.3 255.7,354.3 256.1,354.3 256.4,354.2 256.8,354.2 257.1,354.2 257.5,354.2 257.8,354.2 258.2,354.2 258.5,354.1 258.8,354.1 259.2,354.1 259.5,354.1 259.8,354.1 260.1,354 260.5,354 260.8,354 261.1,354 261.4,354 261.7,354 262,353.9 262.3,353.9 262.6,353.9 262.9,353.9 263.2,353.9 263.5,353.9 263.8,353.8 264.1,353.8 264.4,353.8 264.7,353.8 264.9,353.8 265.2,353.8 265.5,353.8 265.8,353.7 266.1,353.7 266.3,353.7 266.6,353.7 266.9,353.7 267.1,353.7 267.4,353.6 267.7,353.6 267.9,353.6 268.2,353.6 268.5,353.6 268.7,353.6 269,353.6 269.2,353.5 269.5,353.5 269.7,353.5 270,353.5 270.2,353.5 270.5,353.5 270.7,353.5 271,353.4 271.2,353.4 271.4,353.4 271.7,353.4 271.9,353.4 272.1,353.4 272.4,353.4 272.6,353.3 272.8,353.3 273.1,353.3 273.3,353.3 273.5,353.3 273.7,353.3 274,353.2 274.2,353.2 274.4,353.2 274.6,353.2 274.9,353.2 275.1,353.2 275.3,353.1 275.5,353.1 275.7,353.1 275.9,353.1 276.1,353.1 276.4,353.1 276.6,353.1 276.8,353 277,353 277.2,353 277.4,353 277.6,353 277.8,353 278,352.9 278.2,352.9 278.4,352.9 278.6,352.9 278.8,352.9 279,352.9 279.2,352.8 279.4,352.8 279.6,352.8 279.8,352.8 280,352.8 280.2,352.8 280.3,352.8 280.5,352.7 280.7,352.7 280.9,352.7 281.1,352.7 281.3,352.7 281.5,352.7 281.6,352.6 281.8,352.6 282,352.6 282.2,352.6 282.4,352.6 282.5,352.6 282.7,352.6 282.9,352.5 283.1,352.5 283.3,352.5 283.4,352.5 283.6,352.5 283.8,352.5 284,352.5 284.1,352.5 284.3,352.4 284.5,352.4 284.6,352.4 284.8,352.4 285,352.4 285.1,352.4 285.3,352.4 285.5,352.4 285.6,352.3 285.8,352.3 286,352.3 286.1,352.3 286.3,352.3 286.5,352.3 286.6,352.3 286.8,352.3 286.9,352.3 287.1,352.2 287.3,352.2 287.4,352.2 287.6,352.2 287.7,352.2 287.9,352.2 288,352.2 288.2,352.2 288.3,352.2 288.5,352.2 288.7,352.2 288.8,352.1 289,352.1 289.1,352.1 289.3,352.1 289.4,352.1 289.6,352.1 289.7,352.1 289.9,352.1 290,352.1 290.1,352.1 290.3,352.1 290.4,352.1 290.6,352.1 290.7,352.1 290.9,352.1 291,352.1 291.2,352.1 291.3,352.1 291.4,352.1 291.6,352.1 291.7,352.1 291.9,352.1 292,352.1 292.1,352.1 292.3,352.1 292.4,352.1 292.6,352.1 292.7,352.1 292.8,352.1 293,352.1 293.1,352.1 293.2,352.1 293.4,352.1 293.5,352.1 293.6,352.1 293.8,352.1 293.9,352.1 294,352.1 294.2,352.1 294.3,352.1 294.4,352.1 294.6,352.1 294.7,352.1 294.8,352.1 295,352.1 295.1,352.1 295.2,352.1 295.4,352.1 295.5,352.1 295.6,352.2 295.7,352.2 295.9,352.2 296,352.2 296.1,352.2 296.2,352.2 296.4,352.2 296.5,352.2 296.6,352.2 296.7,352.2 296.9,352.2 297,352.2 297.1,352.3 297.2,352.3 297.3,352.3 297.5,352.3 297.6,352.3 297.7,352.3 297.8,352.3 298,352.3 298.1,352.3 298.2,352.3 298.3,352.4 298.4,352.4 298.5,352.4 298.7,352.4 298.8,352.4 298.9,352.4 299,352.4 299.1,352.4 299.2,352.4 299.4,352.5 299.5,352.5 299.6,352.5 299.7,352.5 299.8,352.5 299.9,352.5 300,352.5 300.2,352.5 300.3,352.5 300.4,352.5 300.5,352.5 300.6,352.5 300.7,352.6 300.8,352.6 300.9,352.6 301.1,352.6 301.2,352.6 301.3,352.6 301.4,352.6 301.5,352.6 301.6,352.6 301.7,352.7 301.8,352.7 301.9,352.7 302,352.7 302.1,352.7 302.3,352.7 302.4,352.7 302.5,352.8 302.6,352.8 302.7,352.8 302.8,352.8 302.9,352.8 303,352.8 303.1,352.8 303.2,352.9 303.3,352.9 303.4,352.9 303.5,352.9 303.6,352.9 303.7,352.9 303.8,353 303.9,353 304,353 304.1,353 304.2,353 304.3,353 304.4,353.1 304.5,353.1 304.6,353.1 304.7,353.1 304.8,353.1 304.9,353.1 305,353.2 305.1,353.2 305.2,353.2 305.3,353.2 305.4,353.2 305.5,353.2 305.6,353.2 305.7,353.3 305.8,353.3 305.9,353.3 306,353.3 306.1,353.3 306.2,353.3 306.3,353.3 306.4,353.4 306.5,353.4 306.6,353.4 306.7,353.4 306.8,353.4 306.9,353.4 307,353.4 307.1,353.5 307.2,353.5 307.3,353.5 307.4,353.5 307.5,353.5 307.5,353.5 307.6,353.5 307.7,353.6 307.8,353.6 307.9,353.6 308,353.6 308.1,353.6 308.2,353.6 308.3,353.7 308.4,353.7 308.5,353.7 308.6,353.7 308.6,353.7 308.7,353.7 308.8,353.8 308.9,353.8 309,353.8 309.1,353.8 309.2,353.8 309.3,353.8 309.4,353.9 309.5,353.9 309.5,353.9 309.6,353.9 309.7,353.9 309.8,354 309.9,354 310,354 310.1,354 310.2,354 310.2,354.1 310.3,354.1 310.4,354.1 310.5,354.1 310.6,354.1 310.7,354.2 310.8,354.2 310.9,354.2 310.9,354.2 311,354.3 311.1,354.3 311.2,354.3 311.3,354.3 311.4,354.3 311.4,354.4 311.5,354.4 311.6,354.4 311.7,354.4 311.8,354.5 311.9,354.5 311.9,354.5 312,354.5 312.1,354.6 312.2,354.6 312.3,354.6 312.4,354.6 312.4,354.7 312.5,354.7 312.6,354.7 312.7,354.7 312.8,354.8 312.9,354.8 312.9,354.8 313,354.8 313.1,354.9 313.2,354.9 313.3,354.9 313.3,354.9 313.4,354.9 313.5,355 313.6,355 313.7,355 313.7,355 313.8,355.1 313.9,355.1 314,355.1 314.1,355.1 314.1,355.2 314.2,355.2 314.3,355.2 314.4,355.2 314.4,355.3 314.5,355.3 314.6,355.3 314.7,355.3 314.8,355.3 314.8,355.4 314.9,355.4 315,355.4 315.1,355.4 315.1,355.5 315.2,355.5 315.3,355.5 315.4,355.5 315.4,355.6 315.5,355.6 315.6,355.6 315.7,355.6 315.7,355.6 315.8,355.7 315.9,355.7 316,355.7 316,355.7 316.1,355.8 316.2,355.8 316.3,355.8 316.3,355.8 316.4,355.8 316.5,355.9 316.6,355.9 316.6,355.9 316.7,355.9 316.8,355.9 316.9,356 316.9,356 317,356 317.1,356 317.2,356.1 317.2,356.1 317.3,356.1 317.4,356.1 317.4,356.1 317.5,356.2 317.6,356.2 317.7,356.2 317.7,356.2 317.8,356.2 317.9,356.3 317.9,356.3 318,356.3 318.1,356.3 318.2,356.4 318.2,356.4 318.3,356.4 318.4,356.4 318.4,356.4 318.5,356.5 318.6,356.5 318.6,356.5 318.7,356.5 318.8,356.5 318.9,356.6 318.9,356.6 319,356.6 319.1,356.6 319.1,356.6 319.2,356.7 319.3,356.7 319.3,356.7 319.4,356.7 319.5,356.7 319.5,356.8 319.6,356.8 319.7,356.8 319.8,356.8 319.8,356.8 319.9,356.9 320,356.9 320,356.9 320.1,356.9 320.2,356.9 320.2,357 320.3,357 320.4,357 320.4,357 320.5,357 320.6,357.1 320.6,357.1 320.7,357.1 320.8,357.1 320.8,357.1 320.9,357.2 321,357.2" fill="none" stroke="#666" stroke-width="0.6" stroke-linejoin="round" />
<use href="#bcd" x="76.1" y="446.1"/>
<use href="#bcd" x="102.8" y="404.2"/>
<use href="#bcd" x="118.4" y="382.8"/>
<use href="#bcd" x="129.4" y="372.1"/>
<use href="#bcd" x="138" y="366.4"/>
<use href="#bcd" x="145" y="362.9"/>
<use href="#bcd" x="150.9" y="359.9"/>
<use href="#bcd" x="156.1" y="357.9"/>
<use href="#bcd" x="160.6" y="356.4"/>
<use href="#bcd" x="164.6" y="355.4"/>
<use href="#bcd" x="168.3" y="355"/>
<use href="#bcd" x="171.6" y="354.7"/>
<use href="#bcd" x="174.7" y="354.5"/>
<use href="#bcd" x="177.6" y="354.3"/>
<use href="#bcd" x="180.2" y="354.1"/>
<use href="#bcd" x="182.7" y="354"/>
<use href="#bcd" x="185" y="353.9"/>
<use href="#bcd" x="187.2" y="353.8"/>
<use href="#bcd" x="189.3" y="353.7"/>
<use href="#bcd" x="191.3" y="353.6"/>
<use href="#bcd" x="193.1" y="353.6"/>
<use href="#bcd" x="194.9" y="353.5"/>
<use href="#bcd" x="196.6" y="353.4"/>
<use href="#bcd" x="198.3" y="353.4"/>
<use href="#bcd" x="199.8" y="353.3"/>
<use href="#bcd" x="201.4" y="353.3"/>
<use href="#bcd" x="202.8" y="353.2"/>
<use href="#bcd" x="204.2" y="353.2"/>
<use href="#bcd" x="205.5" y="353.1"/>
<use href="#bcd" x="206.9" y="353.1"/>
<use href="#bcd" x="208.1" y="353.1"/>
<use href="#bcd" x="209.3" y="353"/>
<use href="#bcd" x="210.5" y="353"/>
<use href="#bcd" x="211.7" y="353"/>
<use href="#bcd" x="212.8" y="352.9"/>
<use href="#bcd" x="213.9" y="352.9"/>
<use href="#bcd" x="214.9" y="352.9"/>
<use href="#bcd" x="215.9" y="352.9"/>
<use href="#bcd" x="216.9" y="352.9"/>
<use href="#bcd" x="217.9" y="352.8"/>
<use href="#bcd" x="218.9" y="352.8"/>
<use href="#bcd" x="219.8" y="352.8"/>
<use href="#bcd" x="220.7" y="352.8"/>
<use href="#bcd" x="221.6" y="352.8"/>
<use href="#bcd" x="222.4" y="352.8"/>
<use href="#bcd" x="223.3" y="352.8"/>
<use href="#bcd" x="224.1" y="352.7"/>
<use href="#bcd" x="224.9" y="352.7"/>
<use href="#bcd" x="225.7" y="352.7"/>
<use href="#bcd" x="226.5" y="352.7"/>
<use href="#bcd" x="227.2" y="352.7"/>
<use href="#bcd" x="228" y="352.7"/>
<use href="#bcd" x="228.7" y="352.7"/>
<use href="#bcd" x="229.4" y="352.7"/>
<use href="#bcd" x="230.1" y="352.6"/>
<use href="#bcd" x="230.8" y="352.6"/>
<use href="#bcd" x="231.5" y="352.6"/>
<use href="#bcd" x="232.2" y="352.6"/>
<use href="#bcd" x="232.8" y="352.6"/>
<use href="#bcd" x="233.5" y="352.6"/>
<use href="#bcd" x="234.1" y="352.6"/>
<use href="#bcd" x="234.8" y="352.5"/>
<use href="#bcd" x="235.4" y="352.5"/>
<use href="#bcd" x="236" y="352.5"/>
<use href="#bcd" x="236.6" y="352.5"/>
<use href="#bcd" x="237.2" y="352.5"/>
<use href="#bcd" x="237.7" y="352.5"/>
<use href="#bcd" x="238.3" y="352.5"/>
<use href="#bcd" x="238.9" y="352.4"/>
<use href="#bcd" x="239.4" y="352.4"/>
<use href="#bcd" x="240" y="352.4"/>
<use href="#bcd" x="240.5" y="352.4"/>
<use href="#bcd" x="241" y="352.4"/>
<use href="#bcd" x="241.6" y="352.3"/>
<use href="#bcd" x="242.1" y="352.3"/>
<use href="#bcd" x="242.6" y="352.3"/>
<use href="#bcd" x="243.1" y="352.3"/>
<use href="#bcd" x="243.6" y="352.3"/>
<use href="#bcd" x="244.1" y="352.2"/>
<use href="#bcd" x="244.6" y="352.2"/>
<use href="#bcd" x="245" y="352.2"/>
<use href="#bcd" x="245.5" y="352.2"/>
<use href="#bcd" x="246" y="352.2"/>
<use href="#bcd" x="246.4" y="352.1"/>
<use href="#bcd" x="246.9" y="352.1"/>
<use href="#bcd" x="247.3" y="352.1"/>
<use href="#bcd" x="247.8" y="352.1"/>
<use href="#bcd" x="248.2" y="352.1"/>
<use href="#bcd" x="248.6" y="352"/>
<use href="#bcd" x="249.1" y="352"/>
<use href="#bcd" x="249.5" y="352"/>
<use href="#bcd" x="249.9" y="352"/>
<use href="#bcd" x="250.3" y="352"/>
<use href="#bcd" x="250.7" y="351.9"/>
<use href="#bcd" x="251.2" y="351.9"/>
<use href="#bcd" x="251.6" y="351.9"/>
<use href="#bcd" x="252" y="351.9"/>
<use href="#bcd" x="252.4" y="351.9"/>
<use href="#bcd" x="252.7" y="351.9"/>
<use href="#bcd" x="253.1" y="351.8"/>
<use href="#bcd" x="253.5" y="351.8"/>
<use href="#bcd" x="253.9" y="351.8"/>
<use href="#bcd" x="254.3" y="351.8"/>
<use href="#bcd" x="254.6" y="351.8"/>
<use href="#bcd" x="255" y="351.7"/>
<use href="#bcd" x="255.4" y="351.7"/>
<use href="#bcd" x="255.7" y="351.7"/>
<use href="#bcd" x="256.1" y="351.7"/>
<use href="#bcd" x="256.4" y="351.7"/>
<use href="#bcd" x="256.8" y="351.6"/>
<use href="#bcd" x="257.1" y="351.6"/>
<use href="#bcd" x="257.5" y="351.6"/>
<use href="#bcd" x="257.8" y="351.6"/>
<use href="#bcd" x="258.2" y="351.6"/>
<use href="#bcd" x="258.5" y="351.6"/>
<use href="#bcd" x="258.8" y="351.5"/>
<use href="#bcd" x="259.2" y="351.5"/>
<use href="#bcd" x="259.5" y="351.5"/>
<use href="#bcd" x="259.8" y="351.5"/>
<use href="#bcd" x="260.1" y="351.5"/>
<use href="#bcd" x="260.5" y="351.5"/>
<use href="#bcd" x="260.8" y="351.4"/>
<use href="#bcd" x="261.1" y="351.4"/>
<use href="#bcd" x="261.4" y="351.4"/>
<use href="#bcd" x="261.7" y="351.4"/>
<use href="#bcd" x="262" y="351.4"/>
<use href="#bcd" x="262.3" y="351.4"/>
<use href="#bcd" x="262.6" y="351.3"/>
<use href="#bcd" x="262.9" y="351.3"/>
<use href="#bcd" x="263.2" y="351.3"/>
<use href="#bcd" x="263.5" y="351.3"/>
<use href="#bcd" x="263.8" y="351.3"/>
<use href="#bcd" x="264.1" y="351.3"/>
<use href="#bcd" x="264.4" y="351.3"/>
<use href="#bcd" x="264.7" y="351.2"/>
<use href="#bcd" x="264.9" y="351.2"/>
<use href="#bcd" x="265.2" y="351.2"/>
<use href="#bcd" x="265.5" y="351.2"/>
<use href="#bcd" x="265.8" y="351.2"/>
<use href="#bcd" x="266.1" y="351.2"/>
<use href="#bcd" x="266.3" y="351.2"/>
<use href="#bcd" x="266.6" y="351.2"/>
<use href="#bcd" x="266.9" y="351.1"/>
<use href="#bcd" x="267.1" y="351.1"/>
<use href="#bcd" x="267.4" y="351.1"/>
<use href="#bcd" x="267.7" y="351.1"/>
<use href="#bcd" x="267.9" y="351.1"/>
<use href="#bcd" x="268.2" y="351.1"/>
<use href="#bcd" x="268.5" y="351.1"/>
<use href="#bcd" x="268.7" y="351.1"/>
<use href="#bcd" x="269" y="351"/>
<use href="#bcd" x="269.2" y="351"/>
<use href="#bcd" x="269.5" y="351"/>
<use href="#bcd" x="269.7" y="351"/>
<use href="#bcd" x="270" y="351"/>
<use href="#bcd" x="270.2" y="351"/>
<use href="#bcd" x="270.5" y="351"/>
<use href="#bcd" x="270.7" y="351"/>
<use href="#bcd" x="271" y="351"/>
<use href="#bcd" x="271.2" y="350.9"/>
<use href="#bcd" x="271.4" y="350.9"/>
<use href="#bcd" x="271.7" y="350.9"/>
<use href="#bcd" x="271.9" y="350.9"/>
<use href="#bcd" x="272.1" y="350.9"/>
<use href="#bcd" x="272.4" y="350.9"/>
<use href="#bcd" x="272.6" y="350.9"/>
<use href="#bcd" x="272.8" y="350.9"/>
<use href="#bcd" x="273.1" y="350.9"/>
<use href="#bcd" x="273.3" y="350.9"/>
<use href="#bcd" x="273.5" y="350.9"/>
<use href="#bcd" x="273.7" y="350.8"/>
<use href="#bcd" x="274" y="350.8"/>
<use href="#bcd" x="274.2" y="350.8"/>
<use href="#bcd" x="274.4" y="350.8"/>
<use href="#bcd" x="274.6" y="350.8"/>
<use href="#bcd" x="274.9" y="350.8"/>
<use href="#bcd" x="275.1" y="350.8"/>
<use href="#bcd" x="275.3" y="350.8"/>
<use href="#bcd" x="275.5" y="350.8"/>
<use href="#bcd" x="275.7" y="350.8"/>
<use href="#bcd" x="275.9" y="350.7"/>
<use href="#bcd" x="276.1" y="350.7"/>
<use href="#bcd" x="276.4" y="350.7"/>
<use href="#bcd" x="276.6" y="350.7"/>
<use href="#bcd" x="276.8" y="350.7"/>
<use href="#bcd" x="277" y="350.7"/>
<use href="#bcd" x="277.2" y="350.7"/>
<use href="#bcd" x="277.4" y="350.7"/>
<use href="#bcd" x="277.6" y="350.7"/>
<use href="#bcd" x="277.8" y="350.7"/>
<use href="#bcd" x="278" y="350.7"/>
<use href="#bcd" x="278.2" y="350.7"/>
<use href="#bcd" x="278.4" y="350.6"/>
<use href="#bcd" x="278.6" y="350.6"/>
<use href="#bcd" x="278.8" y="350.6"/>
<use href="#bcd" x="279" y="350.6"/>
<use href="#bcd" x="279.2" y="350.6"/>
<use href="#bcd" x="279.4" y="350.6"/>
<use href="#bcd" x="279.6" y="350.6"/>
<use href="#bcd" x="279.8" y="350.6"/>
<use href="#bcd" x="280" y="350.6"/>
<use href="#bcd" x="280.2" y="350.6"/>
<use href="#bcd" x="280.3" y="350.6"/>
<use href="#bcd" x="280.5" y="350.6"/>
<use href="#bcd" x="280.7" y="350.6"/>
<use href="#bcd" x="280.9" y="350.5"/>
<use href="#bcd" x="281.1" y="350.5"/>
<use href="#bcd" x="281.3" y="350.5"/>
<use href="#bcd" x="281.5" y="350.5"/>
<use href="#bcd" x="281.6" y="350.5"/>
<use href="#bcd" x="281.8" y="350.5"/>
<use href="#bcd" x="282" y="350.5"/>
<use href="#bcd" x="282.2" y="350.5"/>
<use href="#bcd" x="282.4" y="350.5"/>
<use href="#bcd" x="282.5" y="350.5"/>
<use href="#bcd" x="282.7" y="350.5"/>
<use href="#bcd" x="282.9" y="350.5"/>
<use href="#bcd" x="283.1" y="350.5"/>
<use href="#bcd" x="283.3" y="350.5"/>
<use href="#bcd" x="283.4" y="350.5"/>
<use href="#bcd" x="283.6" y="350.4"/>
<use href="#bcd" x="283.8" y="350.4"/>
<use href="#bcd" x="284" y="350.4"/>
<use href="#bcd" x="284.1" y="350.4"/>
<use href="#bcd" x="284.3" y="350.4"/>
<use href="#bcd" x="284.5" y="350.4"/>
<use href="#bcd" x="284.6" y="350.4"/>
<use href="#bcd" x="284.8" y="350.4"/>
<use href="#bcd" x="285" y="350.4"/>
<use href="#bcd" x="285.1" y="350.4"/>
<use href="#bcd" x="285.3" y="350.4"/>
<use href="#bcd" x="285.5" y="350.4"/>
<use href="#bcd" x="285.6" y="350.4"/>
<use href="#bcd" x="285.8" y="350.4"/>
<use href="#bcd" x="286" y="350.4"/>
<use href="#bcd" x="286.1" y="350.4"/>
<use href="#bcd" x="286.3" y="350.4"/>
<use href="#bcd" x="286.5" y="350.4"/>
<use href="#bcd" x="286.6" y="350.4"/>
<use href="#bcd" x="286.8" y="350.4"/>
<use href="#bcd" x="286.9" y="350.3"/>
<use href="#bcd" x="287.1" y="350.3"/>
<use href="#bcd" x="287.3" y="350.3"/>
<use href="#bcd" x="287.4" y="350.3"/>
<use href="#bcd" x="287.6" y="350.3"/>
<use href="#bcd" x="287.7" y="350.3"/>
<use href="#bcd" x="287.9" y="350.3"/>
<use href="#bcd" x="288" y="350.3"/>
<use href="#bcd" x="288.2" y="350.3"/>
<use href="#bcd" x="288.3" y="350.3"/>
<use href="#bcd" x="288.5" y="350.3"/>
<use href="#bcd" x="288.7" y="350.3"/>
<use href="#bcd" x="288.8" y="350.3"/>
<use href="#bcd" x="289" y="350.3"/>
<use href="#bcd" x="289.1" y="350.3"/>
<use href="#bcd" x="289.3" y="350.3"/>
<use href="#bcd" x="289.4" y="350.3"/>
<use href="#bcd" x="289.6" y="350.3"/>
<use href="#bcd" x="289.7" y="350.3"/>
<use href="#bcd" x="289.9" y="350.3"/>
<use href="#bcd" x="290" y="350.3"/>
<use href="#bcd" x="290.1" y="350.3"/>
<use href="#bcd" x="290.3" y="350.3"/>
<use href="#bcd" x="290.4" y="350.3"/>
<use href="#bcd" x="290.6" y="350.3"/>
<use href="#bcd" x="290.7" y="350.3"/>
<use href="#bcd" x="290.9" y="350.3"/>
<use href="#bcd" x="291" y="350.3"/>
<use href="#bcd" x="291.2" y="350.3"/>
<use href="#bcd" x="291.3" y="350.3"/>
<use href="#bcd" x="291.4" y="350.3"/>
<use href="#bcd" x="291.6" y="350.3"/>
<use href="#bcd" x="291.7" y="350.3"/>
<use href="#bcd" x="291.9" y="350.3"/>
<use href="#bcd" x="292" y="350.3"/>
<use href="#bcd" x="292.1" y="350.3"/>
<use href="#bcd" x="292.3" y="350.3"/>
<use href="#bcd" x="292.4" y="350.3"/>
<use href="#bcd" x="292.6" y="350.3"/>
<use href="#bcd" x="292.7" y="350.3"/>
<use href="#bcd" x="292.8" y="350.3"/>
<use href="#bcd" x="293" y="350.3"/>
<use href="#bcd" x="293.1" y="350.3"/>
<use href="#bcd" x="293.2" y="350.3"/>
<use href="#bcd" x="293.4" y="350.3"/>
<use href="#bcd" x="293.5" y="350.3"/>
<use href="#bcd" x="293.6" y="350.3"/>
<use href="#bcd" x="293.8" y="350.4"/>
<use href="#bcd" x="293.9" y="350.4"/>
<use href="#bcd" x="294" y="350.4"/>
<use href="#bcd" x="294.2" y="350.4"/>
<use href="#bcd" x="294.3" y="350.4"/>
<use href="#bcd" x="294.4" y="350.4"/>
<use href="#bcd" x="294.6" y="350.4"/>
<use href="#bcd" x="294.7" y="350.4"/>
<use href="#bcd" x="294.8" y="350.4"/>
<use href="#bcd" x="295" y="350.4"/>
<use href="#bcd" x="295.1" y="350.4"/>
<use href="#bcd" x="295.2" y="350.4"/>
<use href="#bcd" x="295.4" y="350.4"/>
<use href="#bcd" x="295.5" y="350.4"/>
<use href="#bcd" x="295.6" y="350.4"/>
<use href="#bcd" x="295.7" y="350.5"/>
<use href="#bcd" x="295.9" y="350.5"/>
<use href="#bcd" x="296" y="350.5"/>
<use href="#bcd" x="296.1" y="350.5"/>
<use href="#bcd" x="296.2" y="350.5"/>
<use href="#bcd" x="296.4" y="350.5"/>
<use href="#bcd" x="296.5" y="350.5"/>
<use href="#bcd" x="296.6" y="350.5"/>
<use href="#bcd" x="296.7" y="350.5"/>
<use href="#bcd" x="296.9" y="350.5"/>
<use href="#bcd" x="297" y="350.5"/>
<use href="#bcd" x="297.1" y="350.6"/>
<use href="#bcd" x="297.2" y="350.6"/>
<use href="#bcd" x="297.3" y="350.6"/>
<use href="#bcd" x="297.5" y="350.6"/>
<use href="#bcd" x="297.6" y="350.6"/>
<use href="#bcd" x="297.7" y="350.6"/>
<use href="#bcd" x="297.8" y="350.6"/>
<use href="#bcd" x="298" y="350.6"/>
<use href="#bcd" x="298.1" y="350.6"/>
<use href="#bcd" x="298.2" y="350.6"/>
<use href="#bcd" x="298.3" y="350.7"/>
<use href="#bcd" x="298.4" y="350.7"/>
<use href="#bcd" x="298.5" y="350.7"/>
<use href="#bcd" x="298.7" y="350.7"/>
<use href="#bcd" x="298.8" y="350.7"/>
<use href="#bcd" x="298.9" y="350.7"/>
<use href="#bcd" x="299" y="350.7"/>
<use href="#bcd" x="299.1" y="350.7"/>
<use href="#bcd" x="299.2" y="350.7"/>
<use href="#bcd" x="299.4" y="350.7"/>
<use href="#bcd" x="299.5" y="350.8"/>
<use href="#bcd" x="299.6" y="350.8"/>
<use href="#bcd" x="299.7" y="350.8"/>
<use href="#bcd" x="299.8" y="350.8"/>
<use href="#bcd" x="299.9" y="350.8"/>
<use href="#bcd" x="300" y="350.8"/>
<use href="#bcd" x="300.2" y="350.8"/>
<use href="#bcd" x="300.3" y="350.8"/>
<use href="#bcd" x="300.4" y="350.8"/>
<use href="#bcd" x="300.5" y="350.8"/>
<use href="#bcd" x="300.6" y="350.9"/>
<use href="#bcd" x="300.7" y="350.9"/>
<use href="#bcd" x="300.8" y="350.9"/>
<use href="#bcd" x="300.9" y="350.9"/>
<use href="#bcd" x="301.1" y="350.9"/>
<use href="#bcd" x="301.2" y="350.9"/>
<use href="#bcd" x="301.3" y="350.9"/>
<use href="#bcd" x="301.4" y="350.9"/>
<use href="#bcd" x="301.5" y="350.9"/>
<use href="#bcd" x="301.6" y="350.9"/>
<use href="#bcd" x="301.7" y="351"/>
<use href="#bcd" x="301.8" y="351"/>
<use href="#bcd" x="301.9" y="351"/>
<use href="#bcd" x="302" y="351"/>
<use href="#bcd" x="302.1" y="351"/>
<use href="#bcd" x="302.3" y="351"/>
<use href="#bcd" x="302.4" y="351"/>
<use href="#bcd" x="302.5" y="351.1"/>
<use href="#bcd" x="302.6" y="351.1"/>
<use href="#bcd" x="302.7" y="351.1"/>
<use href="#bcd" x="302.8" y="351.1"/>
<use href="#bcd" x="302.9" y="351.1"/>
<use href="#bcd" x="303" y="351.1"/>
<use href="#bcd" x="303.1" y="351.1"/>
<use href="#bcd" x="303.2" y="351.2"/>
<use href="#bcd" x="303.3" y="351.2"/>
<use href="#bcd" x="303.4" y="351.2"/>
<use href="#bcd" x="303.5" y="351.2"/>
<use href="#bcd" x="303.6" y="351.2"/>
<use href="#bcd" x="303.7" y="351.2"/>
<use href="#bcd" x="303.8" y="351.3"/>
<use href="#bcd" x="303.9" y="351.3"/>
<use href="#bcd" x="304" y="351.3"/>
<use href="#bcd" x="304.1" y="351.3"/>
<use href="#bcd" x="304.2" y="351.3"/>
<use href="#bcd" x="304.3" y="351.3"/>
<use href="#bcd" x="304.4" y="351.4"/>
<use href="#bcd" x="304.5" y="351.4"/>
<use href="#bcd" x="304.6" y="351.4"/>
<use href="#bcd" x="304.7" y="351.4"/>
<use href="#bcd" x="304.8" y="351.4"/>
<use href="#bcd" x="304.9" y="351.4"/>
<use href="#bcd" x="305" y="351.5"/>
<use href="#bcd" x="305.1" y="351.5"/>
<use href="#bcd" x="305.2" y="351.5"/>
<use href="#bcd" x="305.3" y="351.5"/>
<use href="#bcd" x="305.4" y="351.5"/>
<use href="#bcd" x="305.5" y="351.5"/>
<use href="#bcd" x="305.6" y="351.6"/>
<use href="#bcd" x="305.7" y="351.6"/>
<use href="#bcd" x="305.8" y="351.6"/>
<use href="#bcd" x="305.9" y="351.6"/>
<use href="#bcd" x="306" y="351.6"/>
<use href="#bcd" x="306.1" y="351.6"/>
<use href="#bcd" x="306.2" y="351.6"/>
<use href="#bcd" x="306.3" y="351.7"/>
<use href="#bcd" x="306.4" y="351.7"/>
<use href="#bcd" x="306.5" y="351.7"/>
<use href="#bcd" x="306.6" y="351.7"/>
<use href="#bcd" x="306.7" y="351.7"/>
<use href="#bcd" x="306.8" y="351.7"/>
<use href="#bcd" x="306.9" y="351.7"/>
<use href="#bcd" x="307" y="351.8"/>
<use href="#bcd" x="307.1" y="351.8"/>
<use href="#bcd" x="307.2" y="351.8"/>
<use href="#bcd" x="307.3" y="351.8"/>
<use href="#bcd" x="307.4" y="351.8"/>
<use href="#bcd" x="307.5" y="351.8"/>
<use href="#bcd" x="307.5" y="351.9"/>
<use href="#bcd" x="307.6" y="351.9"/>
<use href="#bcd" x="307.7" y="351.9"/>
<use href="#bcd" x="307.8" y="351.9"/>
<use href="#bcd" x="307.9" y="351.9"/>
<use href="#bcd" x="308" y="351.9"/>
<use href="#bcd" x="308.1" y="352"/>
<use href="#bcd" x="308.2" y="352"/>
<use href="#bcd" x="308.3" y="352"/>
<use href="#bcd" x="308.4" y="352"/>
<use href="#bcd" x="308.5" y="352"/>
<use href="#bcd" x="308.6" y="352"/>
<use href="#bcd" x="308.6" y="352.1"/>
<use href="#bcd" x="308.7" y="352.1"/>
<use href="#bcd" x="308.8" y="352.1"/>
<use href="#bcd" x="308.9" y="352.1"/>
<use href="#bcd" x="309" y="352.1"/>
<use href="#bcd" x="309.1" y="352.2"/>
<use href="#bcd" x="309.2" y="352.2"/>
<use href="#bcd" x="309.3" y="352.2"/>
<use href="#bcd" x="309.4" y="352.2"/>
<use href="#bcd" x="309.5" y="352.3"/>
<use href="#bcd" x="309.5" y="352.3"/>
<use href="#bcd" x="309.6" y="352.3"/>
<use href="#bcd" x="309.7" y="352.3"/>
<use href="#bcd" x="309.8" y="352.3"/>
<use href="#bcd" x="309.9" y="352.4"/>
<use href="#bcd" x="310" y="352.4"/>
<use href="#bcd" x="310.1" y="352.4"/>
<use href="#bcd" x="310.2" y="352.4"/>
<use href="#bcd" x="310.2" y="352.5"/>
<use href="#bcd" x="310.3" y="352.5"/>
<use href="#bcd" x="310.4" y="352.5"/>
<use href="#bcd" x="310.5" y="352.5"/>
<use href="#bcd" x="310.6" y="352.6"/>
<use href="#bcd" x="310.7" y="352.6"/>
<use href="#bcd" x="310.8" y="352.6"/>
<use href="#bcd" x="310.9" y="352.7"/>
<use href="#bcd" x="310.9" y="352.7"/>
<use href="#bcd" x="311" y="352.7"/>
<use href="#bcd" x="311.1" y="352.7"/>
<use href="#bcd" x="311.2" y="352.8"/>
<use href="#bcd" x="311.3" y="352.8"/>
<use href="#bcd" x="311.4" y="352.8"/>
<use href="#bcd" x="311.4" y="352.9"/>
<use href="#bcd" x="311.5" y="352.9"/>
<use href="#bcd" x="311.6" y="352.9"/>
<use href="#bcd" x="311.7" y="352.9"/>
<use href="#bcd" x="311.8" y="353"/>
<use href="#bcd" x="311.9" y="353"/>
<use href="#bcd" x="311.9" y="353"/>
<use href="#bcd" x="312" y="353.1"/>
<use href="#bcd" x="312.1" y="353.1"/>
<use href="#bcd" x="312.2" y="353.1"/>
<use href="#bcd" x="312.3" y="353.2"/>
<use href="#bcd" x="312.4" y="353.2"/>
<use href="#bcd" x="312.4" y="353.2"/>
<use href="#bcd" x="312.5" y="353.2"/>
<use href="#bcd" x="312.6" y="353.3"/>
<use href="#bcd" x="312.7" y="353.3"/>
<use href="#bcd" x="312.8" y="353.3"/>
<use href="#bcd" x="312.9" y="353.4"/>
<use href="#bcd" x="312.9" y="353.4"/>
<use href="#bcd" x="313" y="353.4"/>
<use href="#bcd" x="313.1" y="353.5"/>
<use href="#bcd" x="313.2" y="353.5"/>
<use href="#bcd" x="313.3" y="353.5"/>
<use href="#bcd" x="313.3" y="353.5"/>
<use href="#bcd" x="313.4" y="353.6"/>
<use href="#bcd" x="313.5" y="353.6"/>
<use href="#bcd" x="313.6" y="353.6"/>
<use href="#bcd" x="313.7" y="353.7"/>
<use href="#bcd" x="313.7" y="353.7"/>
<use href="#bcd" x="313.8" y="353.7"/>
<use href="#bcd" x="313.9" y="353.8"/>
<use href="#bcd" x="314" y="353.8"/>
<use href="#bcd" x="314.1" y="353.8"/>
<use href="#bcd" x="314.1" y="353.8"/>
<use href="#bcd" x="314.2" y="353.9"/>
<use href="#bcd" x="314.3" y="353.9"/>
<use href="#bcd" x="314.4" y="353.9"/>
<use href="#bcd" x="314.4" y="354"/>
<use href="#bcd" x="314.5" y="354"/>
<use href="#bcd" x="314.6" y="354"/>
<use href="#bcd" x="314.7" y="354.1"/>
<use href="#bcd" x="314.8" y="354.1"/>
<use href="#bcd" x="314.8" y="354.1"/>
<use href="#bcd" x="314.9" y="354.1"/>
<use href="#bcd" x="315" y="354.2"/>
<use href="#bcd" x="315.1" y="354.2"/>
<use href="#bcd" x="315.1" y="354.2"/>
<use href="#bcd" x="315.2" y="354.3"/>
<use href="#bcd" x="315.3" y="354.3"/>
<use href="#bcd" x="315.4" y="354.3"/>
<use href="#bcd" x="315.4" y="354.3"/>
<use href="#bcd" x="315.5" y="354.4"/>
<use href="#bcd" x="315.6" y="354.4"/>
<use href="#bcd" x="315.7" y="354.4"/>
<use href="#bcd" x="315.7" y="354.5"/>
<use href="#bcd" x="315.8" y="354.5"/>
<use href="#bcd" x="315.9" y="354.5"/>
<use href="#bcd" x="316" y="354.5"/>
<use href="#bcd" x="316" y="354.6"/>
<use href="#bcd" x="316.1" y="354.6"/>
<use href="#bcd" x="316.2" y="354.6"/>
<use href="#bcd" x="316.3" y="354.7"/>
<use href="#bcd" x="316.3" y="354.7"/>
<use href="#bcd" x="316.4" y="354.7"/>
<use href="#bcd" x="316.5" y="354.7"/>
<use href="#bcd" x="316.6" y="354.8"/>
<use href="#bcd" x="316.6" y="354.8"/>
<use href="#bcd" x="316.7" y="354.8"/>
<use href="#bcd" x="316.8" y="354.9"/>
<use href="#bcd" x="316.9" y="354.9"/>
<use href="#bcd" x="316.9" y="354.9"/>
<use href="#bcd" x="317" y="354.9"/>
<use href="#bcd" x="317.1" y="355"/>
<use href="#bcd" x="317.2" y="355"/>
<use href="#bcd" x="317.2" y="355"/>
<use href="#bcd" x="317.3" y="355"/>
<use href="#bcd" x="317.4" y="355.1"/>
<use href="#bcd" x="317.4" y="355.1"/>
<use href="#bcd" x="317.5" y="355.1"/>
<use href="#bcd" x="317.6" y="355.2"/>
<use href="#bcd" x="317.7" y="355.2"/>
<use href="#bcd" x="317.7" y="355.2"/>
<use href="#bcd" x="317.8" y="355.2"/>
<use href="#bcd" x="317.9" y="355.3"/>
<use href="#bcd" x="317.9" y="355.3"/>
<use href="#bcd" x="318" y="355.3"/>
<use href="#bcd" x="318.1" y="355.4"/>
<use href="#bcd" x="318.2" y="355.4"/>
<use href="#bcd" x="318.2" y="355.4"/>
<use href="#bcd" x="318.3" y="355.4"/>
<use href="#bcd" x="318.4" y="355.5"/>
<use href="#bcd" x="318.4" y="355.5"/>
<use href="#bcd" x="318.5" y="355.5"/>
<use href="#bcd" x="318.6" y="355.5"/>
<use href="#bcd" x="318.6" y="355.6"/>
<use href="#bcd" x="318.7" y="355.6"/>
<use href="#bcd" x="318.8" y="355.6"/>
<use href="#bcd" x="318.9" y="355.7"/>
<use href="#bcd" x="318.9" y="355.7"/>
<use href="#bcd" x="319" y="355.7"/>
<use href="#bcd" x="319.1" y="355.7"/>
<use href="#bcd" x="319.1" y="355.8"/>
<use href="#bcd" x="319.2" y="355.8"/>
<use href="#bcd" x="319.3" y="355.8"/>
<use href="#bcd" x="319.3" y="355.8"/>
<use href="#bcd" x="319.4" y="355.9"/>
<use href="#bcd" x="319.5" y="355.9"/>
<use href="#bcd" x="319.5" y="355.9"/>
<use href="#bcd" x="319.6" y="356"/>
<use href="#bcd" x="319.7" y="356"/>
<use href="#bcd" x="319.8" y="356"/>
<use href="#bcd" x="319.8" y="356"/>
<use href="#bcd" x="319.9" y="356.1"/>
<use href="#bcd" x="320" y="356.1"/>
<use href="#bcd" x="320" y="356.1"/>
<use href="#bcd" x="320.1" y="356.1"/>
<use href="#bcd" x="320.2" y="356.2"/>
<use href="#bcd" x="320.2" y="356.2"/>
<use href="#bcd" x="320.3" y="356.2"/>
<use href="#bcd" x="320.4" y="356.2"/>
<use href="#bcd" x="320.4" y="356.3"/>
<use href="#bcd" x="320.5" y="356.3"/>
<use href="#bcd" x="320.6" y="356.3"/>
<use href="#bcd" x="320.6" y="356.4"/>
<use href="#bcd" x="320.7" y="356.4"/>
<use href="#bcd" x="320.8" y="356.4"/>
<use href="#bcd" x="320.8" y="356.4"/>
<use href="#bcd" x="320.9" y="356.5"/>
<use href="#bcd" x="321" y="356.5"/>
<use href="#ocd" x="76.1" y="439.4"/>
<use href="#ocd" x="102.8" y="402.6"/>
<use href="#ocd" x="118.4" y="383.4"/>
<use href="#ocd" x="129.4" y="374.4"/>
<use href="#ocd" x="138" y="369.1"/>
<use href="#ocd" x="145" y="365.7"/>
<use href="#ocd" x="150.9" y="363.3"/>
<use href="#ocd" x="156.1" y="361.8"/>
<use href="#ocd" x="160.6" y="360.7"/>
<use href="#ocd" x="164.6" y="359.6"/>
<use href="#ocd" x="168.3" y="359"/>
<use href="#ocd" x="171.6" y="358.5"/>
<use href="#ocd" x="174.7" y="358.1"/>
<use href="#ocd" x="177.6" y="357.8"/>
<use href="#ocd" x="180.2" y="357.6"/>
<use href="#ocd" x="182.7" y="357.5"/>
<use href="#ocd" x="185" y="357.3"/>
<use href="#ocd" x="187.2" y="357.2"/>
<use href="#ocd" x="189.3" y="357.1"/>
<use href="#ocd" x="191.3" y="356.9"/>
<use href="#ocd" x="193.1" y="356.8"/>
<use href="#ocd" x="194.9" y="356.7"/>
<use href="#ocd" x="196.6" y="356.6"/>
<use href="#ocd" x="198.3" y="356.5"/>
<use href="#ocd" x="199.8" y="356.4"/>
<use href="#ocd" x="201.4" y="356.3"/>
<use href="#ocd" x="202.8" y="356.2"/>
<use href="#ocd" x="204.2" y="356.2"/>
<use href="#ocd" x="205.5" y="356.1"/>
<use href="#ocd" x="206.9" y="356"/>
<use href="#ocd" x="208.1" y="356"/>
<use href="#ocd" x="209.3" y="355.9"/>
<use href="#ocd" x="210.5" y="355.9"/>
<use href="#ocd" x="211.7" y="355.8"/>
<use href="#ocd" x="212.8" y="355.8"/>
<use href="#ocd" x="213.9" y="355.8"/>
<use href="#ocd" x="214.9" y="355.7"/>
<use href="#ocd" x="215.9" y="355.7"/>
<use href="#ocd" x="216.9" y="355.7"/>
<use href="#ocd" x="217.9" y="355.6"/>
<use href="#ocd" x="218.9" y="355.6"/>
<use href="#ocd" x="219.8" y="355.6"/>
<use href="#ocd" x="220.7" y="355.6"/>
<use href="#ocd" x="221.6" y="355.5"/>
<use href="#ocd" x="222.4" y="355.5"/>
<use href="#ocd" x="223.3" y="355.5"/>
<use href="#ocd" x="224.1" y="355.5"/>
<use href="#ocd" x="224.9" y="355.5"/>
<use href="#ocd" x="225.7" y="355.4"/>
<use href="#ocd" x="226.5" y="355.4"/>
<use href="#ocd" x="227.2" y="355.4"/>
<use href="#ocd" x="228" y="355.4"/>
<use href="#ocd" x="228.7" y="355.4"/>
<use href="#ocd" x="229.4" y="355.3"/>
<use href="#ocd" x="230.1" y="355.3"/>
<use href="#ocd" x="230.8" y="355.3"/>
<use href="#ocd" x="231.5" y="355.3"/>
<use href="#ocd" x="232.2" y="355.3"/>
<use href="#ocd" x="232.8" y="355.2"/>
<use href="#ocd" x="233.5" y="355.2"/>
<use href="#ocd" x="234.1" y="355.2"/>
<use href="#ocd" x="234.8" y="355.2"/>
<use href="#ocd" x="235.4" y="355.2"/>
<use href="#ocd" x="236" y="355.1"/>
<use href="#ocd" x="236.6" y="355.1"/>
<use href="#ocd" x="237.2" y="355.1"/>
<use href="#ocd" x="237.7" y="355.1"/>
<use href="#ocd" x="238.3" y="355.1"/>
<use href="#ocd" x="238.9" y="355"/>
<use href="#ocd" x="239.4" y="355"/>
<use href="#ocd" x="240" y="355"/>
<use href="#ocd" x="240.5" y="355"/>
<use href="#ocd" x="241" y="355"/>
<use href="#ocd" x="241.6" y="354.9"/>
<use href="#ocd" x="242.1" y="354.9"/>
<use href="#ocd" x="242.6" y="354.9"/>
<use href="#ocd" x="243.1" y="354.9"/>
<use href="#ocd" x="243.6" y="354.9"/>
<use href="#ocd" x="244.1" y="354.8"/>
<use href="#ocd" x="244.6" y="354.8"/>
<use href="#ocd" x="245" y="354.8"/>
<use href="#ocd" x="245.5" y="354.8"/>
<use href="#ocd" x="246" y="354.7"/>
<use href="#ocd" x="246.4" y="354.7"/>
<use href="#ocd" x="246.9" y="354.7"/>
<use href="#ocd" x="247.3" y="354.7"/>
<use href="#ocs0" x="247.8" y="354.7"/>
<use href="#ocs0" x="248.2" y="354.6"/>
<use href="#ocs0" x="248.6" y="354.6"/>
<use href="#ocs0" x="249.1" y="354.6"/>
<use href="#ocs0" x="249.5" y="354.6"/>
<use href="#ocs0" x="249.9" y="354.6"/>
<use href="#ocs0" x="250.3" y="354.5"/>
<use href="#ocs0" x="250.7" y="354.5"/>
<use href="#ocs0" x="251.2" y="354.5"/>
<use href="#ocs0" x="251.6" y="354.5"/>
<use href="#ocs0" x="252" y="354.5"/>
<use href="#ocs0" x="252.4" y="354.4"/>
<use href="#ocs0" x="252.7" y="354.4"/>
<use href="#ocs0" x="253.1" y="354.4"/>
<use href="#ocs0" x="253.5" y="354.4"/>
<use href="#ocs0" x="253.9" y="354.4"/>
<use href="#ocs0" x="254.3" y="354.3"/>
<use href="#ocs0" x="254.6" y="354.3"/>
<use href="#ocs0" x="255" y="354.3"/>
<use href="#ocs0" x="255.4" y="354.3"/>
<use href="#ocs0" x="255.7" y="354.3"/>
<use href="#ocs0" x="256.1" y="354.3"/>
<use href="#ocs0" x="256.4" y="354.2"/>
<use href="#ocs0" x="256.8" y="354.2"/>
<use href="#ocs1" x="257.1" y="354.2"/>
<use href="#ocs1" x="257.5" y="354.2"/>
<use href="#ocs1" x="257.8" y="354.2"/>
<use href="#ocs1" x="258.2" y="354.2"/>
<use href="#ocs1" x="258.5" y="354.1"/>
<use href="#ocs1" x="258.8" y="354.1"/>
<use href="#ocs1" x="259.2" y="354.1"/>
<use href="#ocs1" x="259.5" y="354.1"/>
<use href="#ocs1" x="259.8" y="354.1"/>
<use href="#ocs1" x="260.1" y="354"/>
<use href="#ocs1" x="260.5" y="354"/>
<use href="#ocs1" x="260.8" y="354"/>
<use href="#ocs1" x="261.1" y="354"/>
<use href="#ocs1" x="261.4" y="354"/>
<use href="#ocs1" x="261.7" y="354"/>
<use href="#ocs1" x="262" y="353.9"/>
<use href="#ocs1" x="262.3" y="353.9"/>
<use href="#ocs1" x="262.6" y="353.9"/>
<use href="#ocs1" x="262.9" y="353.9"/>
<use href="#ocs1" x="263.2" y="353.9"/>
<use href="#ocs1" x="263.5" y="353.9"/>
<use href="#ocs1" x="263.8" y="353.8"/>
<use href="#ocs1" x="264.1" y="353.8"/>
<use href="#ocs1" x="264.4" y="353.8"/>
<use href="#ocs1" x="264.7" y="353.8"/>
<use href="#ocs1" x="264.9" y="353.8"/>
<use href="#ocs1" x="265.2" y="353.8"/>
<use href="#ocs1" x="265.5" y="353.8"/>
<use href="#ocs1" x="265.8" y="353.7"/>
<use href="#ocs1" x="266.1" y="353.7"/>
<use href="#ocs1" x="266.3" y="353.7"/>
<use href="#ocs1" x="266.6" y="353.7"/>
<use href="#ocs1" x="266.9" y="353.7"/>
<use href="#ocs1" x="267.1" y="353.7"/>
<use href="#ocs1" x="267.4" y="353.6"/>
<use href="#ocs1" x="267.7" y="353.6"/>
<use href="#ocs1" x="267.9" y="353.6"/>
<use href="#ocs1" x="268.2" y="353.6"/>
<use href="#ocs1" x="268.5" y="353.6"/>
<use href="#ocs1" x="268.7" y="353.6"/>
<use href="#ocs1" x="269" y="353.6"/>
<use href="#ocs1" x="269.2" y="353.5"/>
<use href="#ocs1" x="269.5" y="353.5"/>
<use href="#ocs1" x="269.7" y="353.5"/>
<use href="#ocs2" x="270" y="353.5"/>
<use href="#ocs2" x="270.2" y="353.5"/>
<use href="#ocs2" x="270.5" y="353.5"/>
<use href="#ocs2" x="270.7" y="353.5"/>
<use href="#ocs2" x="271" y="353.4"/>
<use href="#ocs2" x="271.2" y="353.4"/>
<use href="#ocs2" x="271.4" y="353.4"/>
<use href="#ocs2" x="271.7" y="353.4"/>
<use href="#ocs2" x="271.9" y="353.4"/>
<use href="#ocs2" x="272.1" y="353.4"/>
<use href="#ocs2" x="272.4" y="353.4"/>
<use href="#ocs2" x="272.6" y="353.3"/>
<use href="#ocs2" x="272.8" y="353.3"/>
<use href="#ocs2" x="273.1" y="353.3"/>
<use href="#ocs2" x="273.3" y="353.3"/>
<use href="#ocs2" x="273.5" y="353.3"/>
<use href="#ocs2" x="273.7" y="353.3"/>
<use href="#ocs2" x="274" y="353.2"/>
<use href="#ocs2" x="274.2" y="353.2"/>
<use href="#ocs2" x="274.4" y="353.2"/>
<use href="#ocs2" x="274.6" y="353.2"/>
<use href="#ocs2" x="274.9" y="353.2"/>
<use href="#ocs2" x="275.1" y="353.2"/>
<use href="#ocs2" x="275.3" y="353.1"/>
<use href="#ocs2" x="275.5" y="353.1"/>
<use href="#ocs2" x="275.7" y="353.1"/>
<use href="#ocs2" x="275.9" y="353.1"/>
<use href="#ocs2" x="276.1" y="353.1"/>
<use href="#ocs2" x="276.4" y="353.1"/>
<use href="#ocs2" x="276.6" y="353.1"/>
<use href="#ocs2" x="276.8" y="353"/>
<use href="#ocs2" x="277" y="353"/>
<use href="#ocs2" x="277.2" y="353"/>
<use href="#ocs2" x="277.4" y="353"/>
<use href="#ocs2" x="277.6" y="353"/>
<use href="#ocs2" x="277.8" y="353"/>
<use href="#ocs2" x="278" y="352.9"/>
<use href="#ocs2" x="278.2" y="352.9"/>
<use href="#ocs2" x="278.4" y="352.9"/>
<use href="#ocs2" x="278.6" y="352.9"/>
<use href="#ocs2" x="278.8" y="352.9"/>
<use href="#ocs2" x="279" y="352.9"/>
<use href="#ocs2" x="279.2" y="352.8"/>
<use href="#ocs2" x="279.4" y="352.8"/>
<use href="#ocs2" x="279.6" y="352.8"/>
<use href="#ocs2" x="279.8" y="352.8"/>
<use href="#ocs2" x="280" y="352.8"/>
<use href="#ocs2" x="280.2" y="352.8"/>
<use href="#ocs2" x="280.3" y="352.8"/>
<use href="#ocs2" x="280.5" y="352.7"/>
<use href="#ocs2" x="280.7" y="352.7"/>
<use href="#ocs2" x="280.9" y="352.7"/>
<use href="#ocs2" x="281.1" y="352.7"/>
<use href="#ocs2" x="281.3" y="352.7"/>
<use href="#ocs2" x="281.5" y="352.7"/>
<use href="#ocs2" x="281.6" y="352.6"/>
<use href="#ocs2" x="281.8" y="352.6"/>
<use href="#ocs2" x="282" y="352.6"/>
<use href="#ocs2" x="282.2" y="352.6"/>
<use href="#ocs2" x="282.4" y="352.6"/>
<use href="#ocs2" x="282.5" y="352.6"/>
<use href="#ocs2" x="282.7" y="352.6"/>
<use href="#ocs2" x="282.9" y="352.5"/>
<use href="#ocs2" x="283.1" y="352.5"/>
<use href="#ocs2" x="283.3" y="352.5"/>
<use href="#ocs2" x="283.4" y="352.5"/>
<use href="#ocs2" x="283.6" y="352.5"/>
<use href="#ocs2" x="283.8" y="352.5"/>
<use href="#ocs2" x="284" y="352.5"/>
<use href="#ocs2" x="284.1" y="352.5"/>
<use href="#ocs2" x="284.3" y="352.4"/>
<use href="#ocs2" x="284.5" y="352.4"/>
<use href="#ocs2" x="284.6" y="352.4"/>
<use href="#ocs2" x="284.8" y="352.4"/>
<use href="#ocs2" x="285" y="352.4"/>
<use href="#ocs2" x="285.1" y="352.4"/>
<use href="#ocs2" x="285.3" y="352.4"/>
<use href="#ocs2" x="285.5" y="352.4"/>
<use href="#ocs2" x="285.6" y="352.3"/>
<use href="#ocs2" x="285.8" y="352.3"/>
<use href="#ocs2" x="286" y="352.3"/>
<use href="#ocs2" x="286.1" y="352.3"/>
<use href="#ocs2" x="286.3" y="352.3"/>
<use href="#ocs2" x="286.5" y="352.3"/>
<use href="#ocs2" x="286.6" y="352.3"/>
<use href="#ocs2" x="286.8" y="352.3"/>
<use href="#ocs2" x="286.9" y="352.3"/>
<use href="#ocs2" x="287.1" y="352.2"/>
<use href="#ocs2" x="287.3" y="352.2"/>
<use href="#ocs2" x="287.4" y="352.2"/>
<use href="#ocs2" x="287.6" y="352.2"/>
<use href="#ocs2" x="287.7" y="352.2"/>
<use href="#ocs2" x="287.9" y="352.2"/>
<use href="#ocs2" x="288" y="352.2"/>
<use href="#ocs2" x="288.2" y="352.2"/>
<use href="#ocs2" x="288.3" y="352.2"/>
<use href="#ocs2" x="288.5" y="352.2"/>
<use href="#ocs2" x="288.7" y="352.2"/>
<use href="#ocs2" x="288.8" y="352.1"/>
<use href="#ocs2" x="289" y="352.1"/>
<use href="#ocs2" x="289.1" y="352.1"/>
<use href="#ocs2" x="289.3" y="352.1"/>
<use href="#ocs2" x="289.4" y="352.1"/>
<use href="#ocs2" x="289.6" y="352.1"/>
<use href="#ocs2" x="289.7" y="352.1"/>
<use href="#ocs2" x="289.9" y="352.1"/>
<use href="#ocs2" x="290" y="352.1"/>
<use href="#ocs2" x="290.1" y="352.1"/>
<use href="#ocs2" x="290.3" y="352.1"/>
<use href="#ocs2" x="290.4" y="352.1"/>
<use href="#ocs2" x="290.6" y="352.1"/>
<use href="#ocs2" x="290.7" y="352.1"/>
<use href="#ocs2" x="290.9" y="352.1"/>
<use href="#ocs2" x="291" y="352.1"/>
<use href="#ocs2" x="291.2" y="352.1"/>
<use href="#ocs2" x="291.3" y="352.1"/>
<use href="#ocs2" x="291.4" y="352.1"/>
<use href="#ocs2" x="291.6" y="352.1"/>
<use href="#ocs2" x="291.7" y="352.1"/>
<use href="#ocs2" x="291.9" y="352.1"/>
<use href="#ocs2" x="292" y="352.1"/>
<use href="#ocs2" x="292.1" y="352.1"/>
<use href="#ocs2" x="292.3" y="352.1"/>
<use href="#ocs2" x="292.4" y="352.1"/>
<use href="#ocs2" x="292.6" y="352.1"/>
<use href="#ocs2" x="292.7" y="352.1"/>
<use href="#ocs2" x="292.8" y="352.1"/>
<use href="#ocs2" x="293" y="352.1"/>
<use href="#ocs2" x="293.1" y="352.1"/>
<use href="#ocs2" x="293.2" y="352.1"/>
<use href="#ocs2" x="293.4" y="352.1"/>
<use href="#ocs2" x="293.5" y="352.1"/>
<use href="#ocs2" x="293.6" y="352.1"/>
<use href="#ocs2" x="293.8" y="352.1"/>
<use href="#ocs2" x="293.9" y="352.1"/>
<use href="#ocs2" x="294" y="352.1"/>
<use href="#ocs2" x="294.2" y="352.1"/>
<use href="#ocs2" x="294.3" y="352.1"/>
<use href="#ocs2" x="294.4" y="352.1"/>
<use href="#ocs2" x="294.6" y="352.1"/>
<use href="#ocs2" x="294.7" y="352.1"/>
<use href="#ocs2" x="294.8" y="352.1"/>
<use href="#ocs2" x="295" y="352.1"/>
<use href="#ocs2" x="295.1" y="352.1"/>
<use href="#ocs2" x="295.2" y="352.1"/>
<use href="#ocs2" x="295.4" y="352.1"/>
<use href="#ocs2" x="295.5" y="352.1"/>
<use href="#ocs2" x="295.6" y="352.2"/>
<use href="#ocs2" x="295.7" y="352.2"/>
<use href="#ocs2" x="295.9" y="352.2"/>
<use href="#ocs2" x="296" y="352.2"/>
<use href="#ocs2" x="296.1" y="352.2"/>
<use href="#ocs2" x="296.2" y="352.2"/>
<use href="#ocs2" x="296.4" y="352.2"/>
<use href="#ocs2" x="296.5" y="352.2"/>
<use href="#ocs2" x="296.6" y="352.2"/>
<use href="#ocs2" x="296.7" y="352.2"/>
<use href="#ocs2" x="296.9" y="352.2"/>
<use href="#ocs2" x="297" y="352.2"/>
<use href="#ocs2" x="297.1" y="352.3"/>
<use href="#ocs2" x="297.2" y="352.3"/>
<use href="#ocs2" x="297.3" y="352.3"/>
<use href="#ocs2" x="297.5" y="352.3"/>
<use href="#ocs2" x="297.6" y="352.3"/>
<use href="#ocs2" x="297.7" y="352.3"/>
<use href="#ocs2" x="297.8" y="352.3"/>
<use href="#ocs2" x="298" y="352.3"/>
<use href="#ocs2" x="298.1" y="352.3"/>
<use href="#ocs2" x="298.2" y="352.3"/>
<use href="#ocs2" x="298.3" y="352.4"/>
<use href="#ocs2" x="298.4" y="352.4"/>
<use href="#ocs2" x="298.5" y="352.4"/>
<use href="#ocs2" x="298.7" y="352.4"/>
<use href="#ocs2" x="298.8" y="352.4"/>
<use href="#ocs2" x="298.9" y="352.4"/>
<use href="#ocs2" x="299" y="352.4"/>
<use href="#ocs2" x="299.1" y="352.4"/>
<use href="#ocs2" x="299.2" y="352.4"/>
<use href="#ocs2" x="299.4" y="352.5"/>
<use href="#ocs2" x="299.5" y="352.5"/>
<use href="#ocs2" x="299.6" y="352.5"/>
<use href="#ocs2" x="299.7" y="352.5"/>
<use href="#ocs2" x="299.8" y="352.5"/>
<use href="#ocs2" x="299.9" y="352.5"/>
<use href="#ocs2" x="300" y="352.5"/>
<use href="#ocs2" x="300.2" y="352.5"/>
<use href="#ocs2" x="300.3" y="352.5"/>
<use href="#ocs2" x="300.4" y="352.5"/>
<use href="#ocs2" x="300.5" y="352.5"/>
<use href="#ocs2" x="300.6" y="352.5"/>
<use href="#ocs2" x="300.7" y="352.6"/>
<use href="#ocs2" x="300.8" y="352.6"/>
<use href="#ocs2" x="300.9" y="352.6"/>
<use href="#ocs2" x="301.1" y="352.6"/>
<use href="#ocs2" x="301.2" y="352.6"/>
<use href="#ocs2" x="301.3" y="352.6"/>
<use href="#ocs2" x="301.4" y="352.6"/>
<use href="#ocs2" x="301.5" y="352.6"/>
<use href="#ocs2" x="301.6" y="352.6"/>
<use href="#ocs2" x="301.7" y="352.7"/>
<use href="#ocs2" x="301.8" y="352.7"/>
<use href="#ocs2" x="301.9" y="352.7"/>
<use href="#ocs2" x="302" y="352.7"/>
<use href="#ocs2" x="302.1" y="352.7"/>
<use href="#ocs2" x="302.3" y="352.7"/>
<use href="#ocs2" x="302.4" y="352.7"/>
<use href="#ocs2" x="302.5" y="352.8"/>
<use href="#ocs2" x="302.6" y="352.8"/>
<use href="#ocs2" x="302.7" y="352.8"/>
<use href="#ocs2" x="302.8" y="352.8"/>
<use href="#ocs2" x="302.9" y="352.8"/>
<use href="#ocs2" x="303" y="352.8"/>
<use href="#ocs2" x="303.1" y="352.8"/>
<use href="#ocs2" x="303.2" y="352.9"/>
<use href="#ocs2" x="303.3" y="352.9"/>
<use href="#ocs2" x="303.4" y="352.9"/>
<use href="#ocs2" x="303.5" y="352.9"/>
<use href="#ocs2" x="303.6" y="352.9"/>
<use href="#ocs2" x="303.7" y="352.9"/>
<use href="#ocs2" x="303.8" y="353"/>
<use href="#ocs2" x="303.9" y="353"/>
<use href="#ocs2" x="304" y="353"/>
<use href="#ocs2" x="304.1" y="353"/>
<use href="#ocs2" x="304.2" y="353"/>
<use href="#ocs2" x="304.3" y="353"/>
<use href="#ocs2" x="304.4" y="353.1"/>
<use href="#ocs2" x="304.5" y="353.1"/>
<use href="#ocs2" x="304.6" y="353.1"/>
<use href="#ocs2" x="304.7" y="353.1"/>
<use href="#ocs2" x="304.8" y="353.1"/>
<use href="#ocs2" x="304.9" y="353.1"/>
<use href="#ocs2" x="305" y="353.2"/>
<use href="#ocs2" x="305.1" y="353.2"/>
<use href="#ocs2" x="305.2" y="353.2"/>
<use href="#ocs2" x="305.3" y="353.2"/>
<use href="#ocs2" x="305.4" y="353.2"/>
<use href="#ocs2" x="305.5" y="353.2"/>
<use href="#ocs2" x="305.6" y="353.2"/>
<use href="#ocs2" x="305.7" y="353.3"/>
<use href="#ocs2" x="305.8" y="353.3"/>
<use href="#ocs2" x="305.9" y="353.3"/>
<use href="#ocs2" x="306" y="353.3"/>
<use href="#ocs2" x="306.1" y="353.3"/>
<use href="#ocs2" x="306.2" y="353.3"/>
<use href="#ocs2" x="306.3" y="353.3"/>
<use href="#ocs2" x="306.4" y="353.4"/>
<use href="#ocs2" x="306.5" y="353.4"/>
<use href="#ocs2" x="306.6" y="353.4"/>
<use href="#ocs2" x="306.7" y="353.4"/>
<use href="#ocs2" x="306.8" y="353.4"/>
<use href="#ocs2" x="306.9" y="353.4"/>
<use href="#ocs2" x="307" y="353.4"/>
<use href="#ocs2" x="307.1" y="353.5"/>
<use href="#ocs2" x="307.2" y="353.5"/>
<use href="#ocs2" x="307.3" y="353.5"/>
<use href="#ocs2" x="307.4" y="353.5"/>
<use href="#ocs2" x="307.5" y="353.5"/>
<use href="#ocs2" x="307.5" y="353.5"/>
<use href="#ocs2" x="307.6" y="353.5"/>
<use href="#ocs2" x="307.7" y="353.6"/>
<use href="#ocs2" x="307.8" y="353.6"/>
<use href="#ocs2" x="307.9" y="353.6"/>
<use href="#ocs2" x="308" y="353.6"/>
<use href="#ocs2" x="308.1" y="353.6"/>
<use href="#ocs2" x="308.2" y="353.6"/>
<use href="#ocs2" x="308.3" y="353.7"/>
<use href="#ocs2" x="308.4" y="353.7"/>
<use href="#ocs2" x="308.5" y="353.7"/>
<use href="#ocs2" x="308.6" y="353.7"/>
<use href="#ocs2" x="308.6" y="353.7"/>
<use href="#ocs2" x="308.7" y="353.7"/>
<use href="#ocs2" x="308.8" y="353.8"/>
<use href="#ocs2" x="308.9" y="353.8"/>
<use href="#ocs2" x="309" y="353.8"/>
<use href="#ocs2" x="309.1" y="353.8"/>
<use href="#ocs2" x="309.2" y="353.8"/>
<use href="#ocs2" x="309.3" y="353.8"/>
<use href="#ocs2" x="309.4" y="353.9"/>
<use href="#ocs2" x="309.5" y="353.9"/>
<use href="#ocs2" x="309.5" y="353.9"/>
<use href="#ocs2" x="309.6" y="353.9"/>
<use href="#ocs2" x="309.7" y="353.9"/>
<use href="#ocs2" x="309.8" y="354"/>
<use href="#ocs2" x="309.9" y="354"/>
<use href="#ocs2" x="310" y="354"/>
<use href="#ocs2" x="310.1" y="354"/>
<use href="#ocs2" x="310.2" y="354"/>
<use href="#ocs2" x="310.2" y="354.1"/>
<use href="#ocs2" x="310.3" y="354.1"/>
<use href="#ocs2" x="310.4" y="354.1"/>
<use href="#ocs2" x="310.5" y="354.1"/>
<use href="#ocs2" x="310.6" y="354.1"/>
<use href="#ocs2" x="310.7" y="354.2"/>
<use href="#ocs2" x="310.8" y="354.2"/>
<use href="#ocs2" x="310.9" y="354.2"/>
<use href="#ocs2" x="310.9" y="354.2"/>
<use href="#ocs2" x="311" y="354.3"/>
<use href="#ocs2" x="311.1" y="354.3"/>
<use href="#ocs2" x="311.2" y="354.3"/>
<use href="#ocs2" x="311.3" y="354.3"/>
<use href="#ocs2" x="311.4" y="354.3"/>
<use href="#ocs2" x="311.4" y="354.4"/>
<use href="#ocs2" x="311.5" y="354.4"/>
<use href="#ocs2" x="311.6" y="354.4"/>
<use href="#ocs2" x="311.7" y="354.4"/>
<use href="#ocs2" x="311.8" y="354.5"/>
<use href="#ocs2" x="311.9" y="354.5"/>
<use href="#ocs2" x="311.9" y="354.5"/>
<use href="#ocs2" x="312" y="354.5"/>
<use href="#ocs2" x="312.1" y="354.6"/>
<use href="#ocs2" x="312.2" y="354.6"/>
<use href="#ocs2" x="312.3" y="354.6"/>
<use href="#ocs2" x="312.4" y="354.6"/>
<use href="#ocs2" x="312.4" y="354.7"/>
<use href="#ocs2" x="312.5" y="354.7"/>
<use href="#ocs2" x="312.6" y="354.7"/>
<use href="#ocs2" x="312.7" y="354.7"/>
<use href="#ocs2" x="312.8" y="354.8"/>
<use href="#ocs2" x="312.9" y="354.8"/>
<use href="#ocs2" x="312.9" y="354.8"/>
<use href="#ocs2" x="313" y="354.8"/>
<use href="#ocs2" x="313.1" y="354.9"/>
<use href="#ocs2" x="313.2" y="354.9"/>
<use href="#ocs2" x="313.3" y="354.9"/>
<use href="#ocs2" x="313.3" y="354.9"/>
<use href="#ocs2" x="313.4" y="354.9"/>
<use href="#ocs2" x="313.5" y="355"/>
<use href="#ocs2" x="313.6" y="355"/>
<use href="#ocs2" x="313.7" y="355"/>
<use href="#ocs2" x="313.7" y="355"/>
<use href="#ocs2" x="313.8" y="355.1"/>
<use href="#ocs2" x="313.9" y="355.1"/>
<use href="#ocs2" x="314" y="355.1"/>
<use href="#ocs2" x="314.1" y="355.1"/>
<use href="#ocs2" x="314.1" y="355.2"/>
<use href="#ocs2" x="314.2" y="355.2"/>
<use href="#ocs2" x="314.3" y="355.2"/>
<use href="#ocs2" x="314.4" y="355.2"/>
<use href="#ocs2" x="314.4" y="355.3"/>
<use href="#ocs2" x="314.5" y="355.3"/>
<use href="#ocs2" x="314.6" y="355.3"/>
<use href="#ocs2" x="314.7" y="355.3"/>
<use href="#ocs2" x="314.8" y="355.3"/>
<use href="#ocs2" x="314.8" y="355.4"/>
<use href="#ocs2" x="314.9" y="355.4"/>
<use href="#ocs2" x="315" y="355.4"/>
<use href="#ocs2" x="315.1" y="355.4"/>
<use href="#ocs2" x="315.1" y="355.5"/>
<use href="#ocs2" x="315.2" y="355.5"/>
<use href="#ocs2" x="315.3" y="355.5"/>
<use href="#ocs2" x="315.4" y="355.5"/>
<use href="#ocs2" x="315.4" y="355.6"/>
<use href="#ocs2" x="315.5" y="355.6"/>
<use href="#ocs2" x="315.6" y="355.6"/>
<use href="#ocs2" x="315.7" y="355.6"/>
<use href="#ocs2" x="315.7" y="355.6"/>
<use href="#ocs2" x="315.8" y="355.7"/>
<use href="#ocs2" x="315.9" y="355.7"/>
<use href="#ocs2" x="316" y="355.7"/>
<use href="#ocs2" x="316" y="355.7"/>
<use href="#ocs2" x="316.1" y="355.8"/>
<use href="#ocs2" x="316.2" y="355.8"/>
<use href="#ocs2" x="316.3" y="355.8"/>
<use href="#ocs2" x="316.3" y="355.8"/>
<use href="#ocs2" x="316.4" y="355.8"/>
<use href="#ocs2" x="316.5" y="355.9"/>
<use href="#ocs2" x="316.6" y="355.9"/>
<use href="#ocs2" x="316.6" y="355.9"/>
<use href="#ocs2" x="316.7" y="355.9"/>
<use href="#ocs2" x="316.8" y="355.9"/>
<use href="#ocs2" x="316.9" y="356"/>
<use href="#ocs2" x="316.9" y="356"/>
<use href="#ocs2" x="317" y="356"/>
<use href="#ocs2" x="317.1" y="356"/>
<use href="#ocs2" x="317.2" y="356.1"/>
<use href="#ocs2" x="317.2" y="356.1"/>
<use href="#ocs2" x="317.3" y="356.1"/>
<use href="#ocs2" x="317.4" y="356.1"/>
<use href="#ocs2" x="317.4" y="356.1"/>
<use href="#ocs2" x="317.5" y="356.2"/>
<use href="#ocs2" x="317.6" y="356.2"/>
<use href="#ocs2" x="317.7" y="356.2"/>
<use href="#ocs2" x="317.7" y="356.2"/>
<use href="#ocs2" x="317.8" y="356.2"/>
<use href="#ocs2" x="317.9" y="356.3"/>
<use href="#ocs2" x="317.9" y="356.3"/>
<use href="#ocs2" x="318" y="356.3"/>
<use href="#ocs2" x="318.1" y="356.3"/>
<use href="#ocs2" x="318.2" y="356.4"/>
<use href="#ocs2" x="318.2" y="356.4"/>
<use href="#ocs2" x="318.3" y="356.4"/>
<use href="#ocs2" x="318.4" y="356.4"/>
<use href="#ocs2" x="318.4" y="356.4"/>
<use href="#ocs2" x="318.5" y="356.5"/>
<use href="#ocs2" x="318.6" y="356.5"/>
<use href="#ocs2" x="318.6" y="356.5"/>
<use href="#ocs2" x="318.7" y="356.5"/>
<use href="#ocs2" x="318.8" y="356.5"/>
<use href="#ocs2" x="318.9" y="356.6"/>
<use href="#ocs2" x="318.9" y="356.6"/>
<use href="#ocs2" x="319" y="356.6"/>
<use href="#ocs2" x="319.1" y="356.6"/>
<use href="#ocs2" x="319.1" y="356.6"/>
<use href="#ocs2" x="319.2" y="356.7"/>
<use href="#ocs2" x="319.3" y="356.7"/>
<use href="#ocs2" x="319.3" y="356.7"/>
<use href="#ocs2" x="319.4" y="356.7"/>
<use href="#ocs2" x="319.5" y="356.7"/>
<use href="#ocs2" x="319.5" y="356.8"/>
<use href="#ocs2" x="319.6" y="356.8"/>
<use href="#ocs2" x="319.7" y="356.8"/>
<use href="#ocs2" x="319.8" y="356.8"/>
<use href="#ocs2" x="319.8" y="356.8"/>
<use href="#ocs2" x="319.9" y="356.9"/>
<use href="#ocs2" x="320" y="356.9"/>
<use href="#ocs2" x="320" y="356.9"/>
<use href="#ocs2" x="320.1" y="356.9"/>
<use href="#ocs2" x="320.2" y="356.9"/>
<use href="#ocs2" x="320.2" y="357"/>
<use href="#ocs2" x="320.3" y="357"/>
<use href="#ocs2" x="320.4" y="357"/>
<use href="#ocs2" x="320.4" y="357"/>
<use href="#ocs2" x="320.5" y="357"/>
<use href="#ocs2" x="320.6" y="357.1"/>
<use href="#ocs2" x="320.6" y="357.1"/>
<use href="#ocs2" x="320.7" y="357.1"/>
<use href="#ocs2" x="320.8" y="357.1"/>
<use href="#ocs2" x="320.8" y="357.1"/>
<use href="#ocs2" x="320.9" y="357.2"/>
<use href="#ocs2" x="321" y="357.2"/>
<line x1="48" y1="320" x2="48" y2="553.2" stroke="#666" stroke-width="2"/>
<line x1="341" y1="320" x2="341" y2="553.2" stroke="#666" stroke-width="2"/>
<line x1="47" y1="320.6" x2="342" y2="320.6" stroke="#1e1e1e" stroke-width="1.2"/>
<line x1="47" y1="552.6" x2="342" y2="552.6" stroke="#1e1e1e" stroke-width="1.2"/>
<line x1="43" y1="552.5" x2="48" y2="552.5" stroke="#1e1e1e" stroke-width="1" />
<line x1="43" y1="451.5" x2="48" y2="451.5" stroke="#1e1e1e" stroke-width="1" />
<line x1="43" y1="350.5" x2="48" y2="350.5" stroke="#1e1e1e" stroke-width="1" />
<line x1="45" y1="522.5" x2="48" y2="522.5" stroke="#1e1e1e" stroke-width="1" />
<line x1="45" y1="504.5" x2="48" y2="504.5" stroke="#1e1e1e" stroke-width="1" />
<line x1="45" y1="491.5" x2="48" y2="491.5" stroke="#1e1e1e" stroke-width="1" />
<line x1="45" y1="481.5" x2="48" y2="481.5" stroke="#1e1e1e" stroke-width="1" />
<line x1="45" y1="473.5" x2="48" y2="473.5" stroke="#1e1e1e" stroke-width="1" />
<line x1="45" y1="467.5" x2="48" y2="467.5" stroke="#1e1e1e" stroke-width="1" />
<line x1="45" y1="461.5" x2="48" y2="461.5" stroke="#1e1e1e" stroke-width="1" />
<line x1="45" y1="456.5" x2="48" y2="456.5" stroke="#1e1e1e" stroke-width="1" />
<line x1="45" y1="421.5" x2="48" y2="421.5" stroke="#1e1e1e" stroke-width="1" />
<line x1="45" y1="403.5" x2="48" y2="403.5" stroke="#1e1e1e" stroke-width="1" />
<line x1="45" y1="390.5" x2="48" y2="390.5" stroke="#1e1e1e" stroke-width="1" />
<line x1="45" y1="380.5" x2="48" y2="380.5" stroke="#1e1e1e" stroke-width="1" />
<line x1="45" y1="372.5" x2="48" y2="372.5" stroke="#1e1e1e" stroke-width="1" />
<line x1="45" y1="366.5" x2="48" y2="366.5" stroke="#1e1e1e" stroke-width="1" />
<line x1="45" y1="360.5" x2="48" y2="360.5" stroke="#1e1e1e" stroke-width="1" />
<line x1="45" y1="355.5" x2="48" y2="355.5" stroke="#1e1e1e" stroke-width="1" />
<line x1="45" y1="319.5" x2="48" y2="319.5" stroke="#1e1e1e" stroke-width="1" />
<line x1="94.5" y1="552.6" x2="94.5" y2="557.1" stroke="#1e1e1e" stroke-width="1" />
<line x1="183.5" y1="552.6" x2="183.5" y2="557.1" stroke="#1e1e1e" stroke-width="1" />
<line x1="271.5" y1="552.6" x2="271.5" y2="557.1" stroke="#1e1e1e" stroke-width="1" />
<line x1="48.5" y1="552.6" x2="48.5" y2="555.1" stroke="#1e1e1e" stroke-width="1" />
<line x1="59.5" y1="552.6" x2="59.5" y2="555.1" stroke="#1e1e1e" stroke-width="1" />
<line x1="67.5" y1="552.6" x2="67.5" y2="555.1" stroke="#1e1e1e" stroke-width="1" />
<line x1="74.5" y1="552.6" x2="74.5" y2="555.1" stroke="#1e1e1e" stroke-width="1" />
<line x1="80.5" y1="552.6" x2="80.5" y2="555.1" stroke="#1e1e1e" stroke-width="1" />
<line x1="85.5" y1="552.6" x2="85.5" y2="555.1" stroke="#1e1e1e" stroke-width="1" />
<line x1="90.5" y1="552.6" x2="90.5" y2="555.1" stroke="#1e1e1e" stroke-width="1" />
<line x1="121.5" y1="552.6" x2="121.5" y2="555.1" stroke="#1e1e1e" stroke-width="1" />
<line x1="136.5" y1="552.6" x2="136.5" y2="555.1" stroke="#1e1e1e" stroke-width="1" />
<line x1="147.5" y1="552.6" x2="147.5" y2="555.1" stroke="#1e1e1e" stroke-width="1" />
<line x1="156.5" y1="552.6" x2="156.5" y2="555.1" stroke="#1e1e1e" stroke-width="1" />
<line x1="163.5" y1="552.6" x2="163.5" y2="555.1" stroke="#1e1e1e" stroke-width="1" />
<line x1="169.5" y1="552.6" x2="169.5" y2="555.1" stroke="#1e1e1e" stroke-width="1" />
<line x1="174.5" y1="552.6" x2="174.5" y2="555.1" stroke="#1e1e1e" stroke-width="1" />
<line x1="178.5" y1="552.6" x2="178.5" y2="555.1" stroke="#1e1e1e" stroke-width="1" />
<line x1="209.5" y1="552.6" x2="209.5" y2="555.1" stroke="#1e1e1e" stroke-width="1" />
<line x1="225.5" y1="552.6" x2="225.5" y2="555.1" stroke="#1e1e1e" stroke-width="1" />
<line x1="236.5" y1="552.6" x2="236.5" y2="555.1" stroke="#1e1e1e" stroke-width="1" />
<line x1="244.5" y1="552.6" x2="244.5" y2="555.1" stroke="#1e1e1e" stroke-width="1" />
<line x1="251.5" y1="552.6" x2="251.5" y2="555.1" stroke="#1e1e1e" stroke-width="1" />
<line x1="257.5" y1="552.6" x2="257.5" y2="555.1" stroke="#1e1e1e" stroke-width="1" />
<line x1="262.5" y1="552.6" x2="262.5" y2="555.1" stroke="#1e1e1e" stroke-width="1" />
<line x1="267.5" y1="552.6" x2="267.5" y2="555.1" stroke="#1e1e1e" stroke-width="1" />
<line x1="298.5" y1="552.6" x2="298.5" y2="555.1" stroke="#1e1e1e" stroke-width="1" />
<line x1="313.5" y1="552.6" x2="313.5" y2="555.1" stroke="#1e1e1e" stroke-width="1" />
<line x1="324.5" y1="552.6" x2="324.5" y2="555.1" stroke="#1e1e1e" stroke-width="1" />
<line x1="333.5" y1="552.6" x2="333.5" y2="555.1" stroke="#1e1e1e" stroke-width="1" />
<line x1="340.5" y1="552.6" x2="340.5" y2="555.1" stroke="#1e1e1e" stroke-width="1" />
<line x1="341" y1="552.5" x2="336" y2="552.5" stroke="#1e1e1e" stroke-width="1" />
<line x1="341" y1="436.5" x2="336" y2="436.5" stroke="#1e1e1e" stroke-width="1" />
<line x1="341" y1="320.5" x2="336" y2="320.5" stroke="#1e1e1e" stroke-width="1" />
<line x1="341" y1="494.5" x2="338" y2="494.5" stroke="#1e1e1e" stroke-width="1" />
<line x1="341" y1="378.5" x2="338" y2="378.5" stroke="#1e1e1e" stroke-width="1" />
<text x="40" y="556.9" font-size="12" text-anchor="end" stroke="#1a1a1a" stroke-width="0.2">10<tspan font-size="8.2" dy="-5.2">1</tspan></text>
<text x="40" y="455.8" font-size="12" text-anchor="end" stroke="#1a1a1a" stroke-width="0.2">10<tspan font-size="8.2" dy="-5.2">2</tspan></text>
<text x="40" y="354.7" font-size="12" text-anchor="end" stroke="#1a1a1a" stroke-width="0.2">10<tspan font-size="8.2" dy="-5.2">3</tspan></text>
<text x="94.5" y="571.8" font-size="12" text-anchor="middle" stroke="#1a1a1a" stroke-width="0.2">10<tspan font-size="8.2" dy="-5.2">1</tspan></text>
<text x="183" y="571.8" font-size="12" text-anchor="middle" stroke="#1a1a1a" stroke-width="0.2">10<tspan font-size="8.2" dy="-5.2">2</tspan></text>
<text x="271.5" y="571.8" font-size="12" text-anchor="middle" stroke="#1a1a1a" stroke-width="0.2">10<tspan font-size="8.2" dy="-5.2">3</tspan></text>
<text x="345.8" y="555.9" font-size="12" stroke="#1a1a1a" stroke-width="0.2" >0.5</text>
<text x="345.8" y="439.85" font-size="12" stroke="#1a1a1a" stroke-width="0.2" >1.0</text>
<text x="345.8" y="323.8" font-size="12" stroke="#1a1a1a" stroke-width="0.2" >1.5</text>
<text x="194" y="589.5" font-size="16.4" text-anchor="middle" stroke="#1a1a1a" stroke-width="0.2" >t [s]</text>
<text x="15.2" y="436.2" font-size="16.3" text-anchor="middle" transform="rotate(-90 15.2 436.2)" stroke="#1a1a1a" stroke-width="0.2" >G', G" [Pa]</text>
<text x="382" y="436" font-size="16.8" font-family="'Liberation Serif', serif" fill="#ff0000" text-anchor="middle" transform="rotate(-90 382 436)" stroke="#ff0000" stroke-width="0.2" >tan(δ)</text>
<text x="3.2" y="321.6" font-size="18" font-weight="bold" stroke="#1a1a1a" stroke-width="0.2" >C</text>
<text x="136.8" y="409.5" font-size="12.1" stroke="#1a1a1a" stroke-width="0.2" >Gelation time</text>
<text x="136.8" y="424.3" font-size="12.1" stroke="#1a1a1a" stroke-width="0.2" >t = 16.3 s</text>
<line x1="131.7" y1="404.6" x2="115" y2="394.2" stroke="#222" stroke-width="0.6" />
<path d="M112.9,392.9 L118.6,394.2 L116.3,397.4 Z" fill="#111"/>
<line x1="133.7" y1="422.8" x2="116" y2="433.4" stroke="#222" stroke-width="0.6" />
<path d="M114.1,434.5 L117.1,429.7 L119,433.1 Z" fill="#111"/>
<line x1="106.9" y1="436.5" x2="120.6" y2="436.5" stroke="#8a8a8a" stroke-width="1" />
<line x1="142.3" y1="541.7" x2="168.9" y2="541.7" stroke="#666" stroke-width="0.7" />
<use href="#bcd" x="155.8" y="541.7"/>
<text x="173.2" y="545.8" font-size="12" stroke="#1a1a1a" stroke-width="0.2" >G'</text>
<line x1="192" y1="541.7" x2="217.6" y2="541.7" stroke="#666" stroke-width="0.7" />
<use href="#ocd" x="205.3" y="541.7"/>
<text x="218.8" y="545.8" font-size="12" stroke="#1a1a1a" stroke-width="0.2" >G"</text>
<text x="247" y="545.8" font-size="12.4" stroke="#1a1a1a" stroke-width="0.2" >EPO-PLGA-PEG</text>
<polyline points="465.5,380.1 488.7,362.4 502.3,348.3 511.9,342.6 519.3,339.8 525.4,338.3 530.6,337.7 535.1,337.7 539,338.1 542.5,338.6 545.7,339.2 548.6,340 551.3,340.7 553.8,341.3 556.1,341.9 558.2,342.4 560.3,343.1 562.2,343.8 564,344.5 565.7,345.2 567.3,346 568.9,346.7 570.4,347.4 571.8,348.1 573.2,348.7 574.5,349.4 575.7,350 576.9,350.7 578.1,351.3 579.3,352 580.3,352.6 581.4,353.2 582.4,353.9 583.4,354.5 584.4,355.1 585.3,355.7 586.3,356.3 587.2,356.9 588,357.5 588.9,358 589.7,358.6 590.5,359.1 591.3,359.7 592.1,360.2 592.8,360.7 593.5,361.3 594.3,361.8 595,362.3 595.7,362.8 596.3,363.3 597,363.8 597.6,364.2 598.3,364.7 598.9,365.2 599.5,365.6 600.1,366.1 600.7,366.5 601.3,367 601.9,367.4 602.4,367.9 603,368.3 603.5,368.7 604.1,369.2 604.6,369.6 605.1,370 605.6,370.4 606.1,370.8 606.6,371.2 607.1,371.6 607.6,372 608.1,372.4 608.5,372.8 609,373.2 609.4,373.5 609.9,373.9 610.3,374.3 610.8,374.7 611.2,375 611.6,375.4 612.1,375.7 612.5,376.1 612.9,376.4 613.3,376.8 613.7,377.1 614.1,377.5 614.5,377.8 614.9,378.2 615.2,378.5 615.6,378.8 616,379.2 616.4,379.5 616.7,379.8 617.1,380.1 617.4,380.5 617.8,380.8 618.1,381.1 618.5,381.4 618.8,381.7 619.2,382 619.5,382.3 619.8,382.7 620.2,383 620.5,383.3 620.8,383.6 621.1,383.9 621.5,384.2 621.8,384.5 622.1,384.8 622.4,385.1 622.7,385.3 623,385.6 623.3,385.9 623.6,386.2 623.9,386.5 624.2,386.8 624.5,387.1 624.8,387.3 625,387.6 625.3,387.9 625.6,388.2 625.9,388.4 626.2,388.7 626.4,389 626.7,389.2 627,389.5 627.2,389.8 627.5,390 627.8,390.3 628,390.6 628.3,390.8 628.5,391.1 628.8,391.4 629.1,391.6 629.3,391.9 629.5,392.1 629.8,392.4 630,392.6 630.3,392.9 630.5,393.1 630.8,393.4 631,393.6 631.2,393.9 631.5,394.1 631.7,394.4 631.9,394.6 632.2,394.9 632.4,395.1 632.6,395.3 632.8,395.6 633.1,395.8 633.3,396 633.5,396.3 633.7,396.5 634,396.7 634.2,397 634.4,397.2 634.6,397.4 634.8,397.6 635,397.9 635.2,398.1 635.4,398.3 635.6,398.5 635.9,398.8 636.1,399 636.3,399.2 636.5,399.4 636.7,399.7 636.9,399.9 637.1,400.1 637.3,400.3 637.5,400.6 637.6,400.8 637.8,401 638,401.2 638.2,401.5 638.4,401.7 638.6,401.9 638.8,402.1 639,402.3 639.2,402.6 639.4,402.8 639.5,403 639.7,403.3 639.9,403.5 640.1,403.7 640.3,403.9 640.4,404.2 640.6,404.4 640.8,404.6 641,404.9 641.2,405.1 641.3,405.3 641.5,405.5 641.7,405.8 641.8,406 642,406.2 642.2,406.5 642.4,406.7 642.5,406.9 642.7,407.2 642.9,407.4 643,407.6 643.2,407.9 643.4,408.1 643.5,408.3 643.7,408.6 643.8,408.8 644,409 644.2,409.2 644.3,409.5 644.5,409.7 644.6,409.9 644.8,410.2 645,410.4 645.1,410.6 645.3,410.9 645.4,411.1 645.6,411.3 645.7,411.5 645.9,411.8 646,412 646.2,412.2 646.3,412.4 646.5,412.7 646.6,412.9 646.8,413.1 646.9,413.3 647.1,413.6 647.2,413.8 647.4,414 647.5,414.2 647.7,414.4 647.8,414.7 647.9,414.9 648.1,415.1 648.2,415.3 648.4,415.5 648.5,415.8 648.7,416 648.8,416.2 648.9,416.4 649.1,416.6 649.2,416.8 649.3,417 649.5,417.2 649.6,417.5 649.8,417.7 649.9,417.9 650,418.1 650.2,418.3 650.3,418.5 650.4,418.7 650.6,418.9 650.7,419.1 650.8,419.3 650.9,419.6 651.1,419.8 651.2,420 651.3,420.2 651.5,420.4 651.6,420.6 651.7,420.8 651.9,421 652,421.2 652.1,421.4 652.2,421.6 652.4,421.8 652.5,422 652.6,422.2 652.7,422.4 652.9,422.6 653,422.8 653.1,423 653.2,423.2 653.3,423.4 653.5,423.6 653.6,423.8 653.7,424 653.8,424.2 653.9,424.4 654.1,424.6 654.2,424.8 654.3,425 654.4,425.2 654.5,425.4 654.7,425.6 654.8,425.8 654.9,426 655,426.2 655.1,426.4 655.2,426.6 655.3,426.7 655.5,426.9 655.6,427.1 655.7,427.3 655.8,427.5 655.9,427.7 656,427.9 656.1,428.1 656.3,428.2 656.4,428.4 656.5,428.6 656.6,428.8 656.7,429 656.8,429.2 656.9,429.4 657,429.5 657.1,429.7 657.2,429.9 657.3,430.1 657.5,430.3 657.6,430.4 657.7,430.6 657.8,430.8 657.9,431 658,431.1 658.1,431.3 658.2,431.5 658.3,431.7 658.4,431.9 658.5,432 658.6,432.2 658.7,432.4 658.8,432.5 658.9,432.7 659,432.9 659.1,433.1 659.2,433.2 659.3,433.4 659.4,433.6 659.5,433.8 659.6,433.9 659.7,434.1 659.8,434.3 659.9,434.4 660,434.6 660.1,434.8 660.2,434.9 660.3,435.1 660.4,435.3 660.5,435.4 660.6,435.6 660.7,435.8 660.8,435.9 660.9,436.1 661,436.3 661.1,436.4 661.2,436.6 661.3,436.8 661.4,436.9 661.5,437.1 661.6,437.3 661.7,437.4 661.8,437.6 661.9,437.8 662,437.9 662.1,438.1 662.2,438.2 662.3,438.4 662.3,438.6 662.4,438.7 662.5,438.9 662.6,439 662.7,439.2 662.8,439.4 662.9,439.5 663,439.7 663.1,439.8 663.2,440 663.3,440.2 663.4,440.3 663.4,440.5 663.5,440.6 663.6,440.8 663.7,440.9 663.8,441.1 663.9,441.2 664,441.4 664.1,441.5 664.2,441.7 664.2,441.9 664.3,442 664.4,442.2 664.5,442.3 664.6,442.5 664.7,442.6 664.8,442.8 664.9,442.9 664.9,443.1 665,443.2 665.1,443.3 665.2,443.5 665.3,443.6 665.4,443.8 665.5,443.9 665.5,444.1 665.6,444.2 665.7,444.4 665.8,444.5 665.9,444.7 666,444.8 666,444.9 666.1,445.1 666.2,445.2 666.3,445.4 666.4,445.5 666.5,445.7 666.5,445.8 666.6,445.9 666.7,446.1 666.8,446.2 666.9,446.4 666.9,446.5 667,446.6 667.1,446.8 667.2,446.9 667.3,447 667.3,447.2 667.4,447.3 667.5,447.5 667.6,447.6 667.7,447.7 667.7,447.9 667.8,448 667.9,448.1 668,448.3 668.1,448.4 668.1,448.5 668.2,448.7 668.3,448.8 668.4,448.9 668.4,449.1 668.5,449.2 668.6,449.3 668.7,449.5 668.8,449.6 668.8,449.7 668.9,449.9 669,450 669.1,450.1 669.1,450.3 669.2,450.4 669.3,450.5 669.4,450.6 669.4,450.8 669.5,450.9 669.6,451 669.7,451.2 669.7,451.3 669.8,451.4 669.9,451.5 670,451.7 670,451.8 670.1,451.9 670.2,452.1 670.3,452.2 670.3,452.3 670.4,452.4 670.5,452.6 670.5,452.7 670.6,452.8 670.7,452.9 670.8,453.1 670.8,453.2 670.9,453.3 671,453.4 671.1,453.6 671.1,453.7 671.2,453.8 671.3,453.9 671.3,454.1 671.4,454.2 671.5,454.3 671.5,454.4 671.6,454.6 671.7,454.7 671.8,454.8 671.8,454.9 671.9,455 672,455.2 672,455.3 672.1,455.4 672.2,455.5 672.2,455.7 672.3,455.8 672.4,455.9 672.5,456 672.5,456.1 672.6,456.3 672.7,456.4 672.7,456.5 672.8,456.6 672.9,456.8 672.9,456.9 673,457 673.1,457.1 673.1,457.2 673.2,457.4 673.3,457.5 673.3,457.6 673.4,457.7 673.5,457.8 673.5,458 673.6,458.1 673.7,458.2 673.7,458.3 673.8,458.4 673.9,458.6 673.9,458.7 674,458.8 674.1,458.9 674.1,459 674.2,459.2 674.3,459.3 674.3,459.4 674.4,459.5 674.5,459.6 674.5,459.7 674.6,459.9 674.6,460 674.7,460.1 674.8,460.2 674.8,460.3 674.9,460.5 675,460.6 675,460.7 675.1,460.8 675.2,460.9 675.2,461 675.3,461.2 675.3,461.3 675.4,461.4 675.5,461.5 675.5,461.6 675.6,461.7 675.7,461.9 675.7,462 675.8,462.1 675.8,462.2 675.9,462.3 676,462.5 676,462.6 676.1,462.7 676.2,462.8 676.2,462.9 676.3,463 676.3,463.2 676.4,463.3 676.5,463.4 676.5,463.5 676.6,463.6 676.6,463.8 676.7,463.9 676.8,464 676.8,464.1 676.9,464.2 676.9,464.4 677,464.5 677.1,464.6 677.1,464.7 677.2,464.8 677.2,465 677.3,465.1 677.4,465.2 677.4,465.3 677.5,465.4 677.5,465.6 677.6,465.7 677.7,465.8 677.7,465.9 677.8,466 677.8,466.2 677.9,466.3 678,466.4 678,466.5 678.1,466.6 678.1,466.8 678.2,466.9 678.2,467 678.3,467.1 678.4,467.2 678.4,467.4 678.5,467.5 678.5,467.6 678.6,467.7 678.6,467.9 678.7,468 678.8,468.1 678.8,468.2 678.9,468.3 678.9,468.5 679,468.6 679,468.7 679.1,468.8 679.2,469 679.2,469.1 679.3,469.2 679.3,469.3 679.4,469.4 679.4,469.6 679.5,469.7 679.5,469.8 679.6,469.9 679.7,470.1 679.7,470.2 679.8,470.3 679.8,470.4 679.9,470.6 679.9,470.7 680,470.8 680,470.9 680.1,471 680.1,471.2 680.2,471.3 680.3,471.4 680.3,471.5 680.4,471.7 680.4,471.8 680.5,471.9 680.5,472 680.6,472.1 680.6,472.3 680.7,472.4 680.7,472.5 680.8,472.6 680.9,472.8 680.9,472.9 681,473 681,473.1 681.1,473.2 681.1,473.4 681.2,473.5 681.2,473.6 681.3,473.7 681.3,473.8 681.4,474 681.4,474.1 681.5,474.2 681.5,474.3 681.6,474.4 681.6,474.6 681.7,474.7 681.7,474.8 681.8,474.9 681.9,475 681.9,475.1 682,475.3 682,475.4 682.1,475.5 682.1,475.6 682.2,475.7 682.2,475.8 682.3,476 682.3,476.1 682.4,476.2 682.4,476.3 682.5,476.4 682.5,476.5 682.6,476.6 682.6,476.8 682.7,476.9 682.7,477 682.8,477.1 682.8,477.2 682.9,477.3 682.9,477.4 683,477.6 683,477.7 683.1,477.8 683.1,477.9 683.2,478 683.2,478.1 683.3,478.2 683.3,478.3 683.4,478.4 683.4,478.5 683.5,478.7 683.5,478.8 683.6,478.9 683.6,479 683.7,479.1 683.7,479.2 683.8,479.3 683.8,479.4 683.9,479.5 683.9,479.6 684,479.7 684,479.8 684.1,479.9 684.1,480.1 684.2,480.2 684.2,480.3 684.3,480.4 684.3,480.5 684.3,480.6 684.4,480.7 684.4,480.8 684.5,480.9 684.5,481 684.6,481.1 684.6,481.2 684.7,481.3 684.7,481.4 684.8,481.5 684.8,481.6 684.9,481.8 684.9,481.9 685,482 685,482.1 685.1,482.2 685.1,482.3 685.2,482.4 685.2,482.5 685.2,482.6 685.3,482.7 685.3,482.8 685.4,482.9 685.4,483 685.5,483.1 685.5,483.2 685.6,483.3 685.6,483.4 685.7,483.5 685.7,483.6 685.8,483.7 685.8,483.8 685.9,483.9 685.9,484 685.9,484.1 686,484.2 686,484.3 686.1,484.4 686.1,484.5 686.2,484.6 686.2,484.7 686.3,484.8 686.3,484.9 686.4,485 686.4,485.1 686.4,485.2 686.5,485.3 686.5,485.4 686.6,485.5 686.6,485.6 686.7,485.7 686.7,485.8 686.8,485.9 686.8,486 686.8,486.1 686.9,486.2 686.9,486.3 687,486.4 687,486.5 687.1,486.5 687.1,486.6 687.2,486.7 687.2,486.8 687.2,486.9 687.3,487 687.3,487.1 687.4,487.2 687.4,487.3 687.5,487.4 687.5,487.5 687.6,487.6 687.6,487.7 687.6,487.8 687.7,487.8 687.7,487.9 687.8,488 687.8,488.1 687.9,488.2 687.9,488.3 687.9,488.4 688,488.5 688,488.6 688.1,488.7 688.1,488.7 688.2,488.8 688.2,488.9 688.2,489 688.3,489.1 688.3,489.2 688.4,489.3 688.4,489.4 688.5,489.5 688.5,489.5 688.5,489.6 688.6,489.7 688.6,489.8 688.7,489.9 688.7,490 688.8,490.1 688.8,490.1 688.8,490.2 688.9,490.3 688.9,490.4 689,490.5 689,490.6 689.1,490.7 689.1,490.7 689.1,490.8 689.2,490.9 689.2,491 689.3,491.1 689.3,491.2 689.3,491.2 689.4,491.3 689.4,491.4 689.5,491.5 689.5,491.6 689.5,491.7 689.6,491.7 689.6,491.8 689.7,491.9 689.7,492 689.8,492.1 689.8,492.2 689.8,492.2 689.9,492.3 689.9,492.4 690,492.5 690,492.6 690,492.6 690.1,492.7 690.1,492.8 690.2,492.9 690.2,493 690.2,493 690.3,493.1 690.3,493.2 690.4,493.3 690.4,493.4 690.4,493.4 690.5,493.5 690.5,493.6 690.6,493.7 690.6,493.8 690.6,493.8 690.7,493.9 690.7,494 690.8,494.1 690.8,494.2 690.8,494.2 690.9,494.3 690.9,494.4 691,494.5 691,494.5 691,494.6 691.1,494.7 691.1,494.8 691.2,494.9 691.2,494.9 691.2,495 691.3,495.1 691.3,495.2 691.4,495.2 691.4,495.3 691.4,495.4 691.5,495.5 691.5,495.6 691.5,495.6 691.6,495.7 691.6,495.8 691.7,495.9 691.7,495.9 691.7,496 691.8,496.1 691.8,496.2 691.9,496.2 691.9,496.3 691.9,496.4 692,496.5 692,496.5 692,496.6 692.1,496.7 692.1,496.8 692.2,496.8 692.2,496.9 692.2,497 692.3,497.1 692.3,497.1 692.4,497.2 692.4,497.3 692.4,497.4 692.5,497.4 692.5,497.5 692.5,497.6 692.6,497.7 692.6,497.7 692.7,497.8 692.7,497.9 692.7,498 692.8,498 692.8,498.1 692.8,498.2 692.9,498.3 692.9,498.3 693,498.4 693,498.5 693,498.6 693.1,498.6 693.1,498.7 693.1,498.8 693.2,498.9 693.2,498.9 693.2,499 693.3,499.1 693.3,499.1 693.4,499.2 693.4,499.3 693.4,499.4 693.5,499.4 693.5,499.5 693.5,499.6 693.6,499.7 693.6,499.7 693.7,499.8 693.7,499.9 693.7,499.9 693.8,500 693.8,500.1 693.8,500.2 693.9,500.2 693.9,500.3 693.9,500.4 694,500.4 694,500.5 694.1,500.6 694.1,500.6 694.1,500.7 694.2,500.8 694.2,500.9 694.2,500.9 694.3,501 694.3,501.1 694.3,501.1 694.4,501.2 694.4,501.3 694.4,501.3 694.5,501.4 694.5,501.5 694.6,501.5 694.6,501.6 694.6,501.7 694.7,501.7 694.7,501.8 694.7,501.9 694.8,501.9 694.8,502 694.8,502 694.9,502.1 694.9,502.2 694.9,502.2 695,502.3 695,502.4 695,502.4 695.1,502.5 695.1,502.6 695.1,502.6 695.2,502.7 695.2,502.8 695.3,502.8 695.3,502.9 695.3,503 695.4,503 695.4,503.1 695.4,503.2 695.5,503.2 695.5,503.3 695.5,503.4 695.6,503.4 695.6,503.5 695.6,503.6 695.7,503.6 695.7,503.7 695.7,503.8 695.8,503.8 695.8,503.9 695.8,504 695.9,504 695.9,504.1 695.9,504.2 696,504.3 696,504.3 696,504.4 696.1,504.5 696.1,504.6 696.1,504.6 696.2,504.7 696.2,504.8 696.2,504.9 696.3,504.9 696.3,505 696.3,505.1 696.4,505.2 696.4,505.3 696.4,505.4 696.5,505.4 696.5,505.5 696.5,505.6 696.6,505.7 696.6,505.8 696.6,505.9 696.7,506 696.7,506.1 696.7,506.2 696.8,506.3 696.8,506.4 696.8,506.5 696.9,506.6 696.9,506.8 696.9,506.9 697,507 697,507.1 697,507.2 697.1,507.4 697.1,507.5 697.1,507.6 697.2,507.7 697.2,507.9 697.2,508 697.3,508.1 697.3,508.3 697.3,508.4 697.4,508.5 697.4,508.7 697.4,508.8 697.5,509 697.5,509.1 697.5,509.3 697.6,509.4 697.6,509.6 697.6,509.7 697.7,509.9 697.7,510 697.7,510.2 697.8,510.3 697.8,510.5 697.8,510.6 697.9,510.8 697.9,510.9 697.9,511.1 698,511.2 698,511.3 698,511.4" fill="none" stroke="#666" stroke-width="0.6" stroke-linejoin="round" />
<polyline points="465.5,382.7 488.7,366.5 502.3,354.2 511.9,349.9 519.3,347.6 525.4,346.8 530.6,347.1 535.1,347.7 539,348.3 542.5,349.1 545.7,350.1 548.6,351.2 551.3,351.9 553.8,352.5 556.1,353.1 558.2,353.7 560.3,354.4 562.2,355.2 564,356 565.7,356.8 567.3,357.6 568.9,358.4 570.4,359.2 571.8,360 573.2,360.8 574.5,361.5 575.7,362.3 576.9,363.1 578.1,363.8 579.3,364.5 580.3,365.2 581.4,365.9 582.4,366.6 583.4,367.3 584.4,368 585.3,368.7 586.3,369.3 587.2,370 588,370.6 588.9,371.2 589.7,371.8 590.5,372.4 591.3,372.9 592.1,373.5 592.8,374 593.5,374.5 594.3,375.1 595,375.6 595.7,376.1 596.3,376.6 597,377 597.6,377.5 598.3,378 598.9,378.5 599.5,378.9 600.1,379.4 600.7,379.8 601.3,380.3 601.9,380.7 602.4,381.2 603,381.6 603.5,382 604.1,382.5 604.6,382.9 605.1,383.3 605.6,383.7 606.1,384.1 606.6,384.5 607.1,384.9 607.6,385.3 608.1,385.7 608.5,386.1 609,386.5 609.4,386.8 609.9,387.2 610.3,387.6 610.8,387.9 611.2,388.3 611.6,388.7 612.1,389 612.5,389.4 612.9,389.7 613.3,390.1 613.7,390.4 614.1,390.8 614.5,391.1 614.9,391.4 615.2,391.8 615.6,392.1 616,392.4 616.4,392.7 616.7,393.1 617.1,393.4 617.4,393.7 617.8,394 618.1,394.3 618.5,394.6 618.8,394.9 619.2,395.3 619.5,395.6 619.8,395.9 620.2,396.2 620.5,396.5 620.8,396.8 621.1,397.1 621.5,397.3 621.8,397.6 622.1,397.9 622.4,398.2 622.7,398.5 623,398.8 623.3,399.1 623.6,399.3 623.9,399.6 624.2,399.9 624.5,400.2 624.8,400.4 625,400.7 625.3,401 625.6,401.3 625.9,401.5 626.2,401.8 626.4,402.1 626.7,402.3 627,402.6 627.2,402.8 627.5,403.1 627.8,403.4 628,403.6 628.3,403.9 628.5,404.1 628.8,404.4 629.1,404.6 629.3,404.9 629.5,405.1 629.8,405.4 630,405.6 630.3,405.9 630.5,406.1 630.8,406.4 631,406.6 631.2,406.9 631.5,407.1 631.7,407.3 631.9,407.6 632.2,407.8 632.4,408 632.6,408.3 632.8,408.5 633.1,408.7 633.3,409 633.5,409.2 633.7,409.4 634,409.7 634.2,409.9 634.4,410.1 634.6,410.3 634.8,410.5 635,410.8 635.2,411 635.4,411.2 635.6,411.4 635.9,411.7 636.1,411.9 636.3,412.1 636.5,412.3 636.7,412.5 636.9,412.7 637.1,413 637.3,413.2 637.5,413.4 637.6,413.6 637.8,413.8 638,414 638.2,414.2 638.4,414.5 638.6,414.7 638.8,414.9 639,415.1 639.2,415.3 639.4,415.5 639.5,415.8 639.7,416 639.9,416.2 640.1,416.4 640.3,416.6 640.4,416.8 640.6,417.1 640.8,417.3 641,417.5 641.2,417.7 641.3,417.9 641.5,418.2 641.7,418.4 641.8,418.6 642,418.8 642.2,419.1 642.4,419.3 642.5,419.5 642.7,419.8 642.9,420 643,420.2 643.2,420.4 643.4,420.7 643.5,420.9 643.7,421.1 643.8,421.4 644,421.6 644.2,421.8 644.3,422.1 644.5,422.3 644.6,422.5 644.8,422.8 645,423 645.1,423.2 645.3,423.4 645.4,423.7 645.6,423.9 645.7,424.1 645.9,424.4 646,424.6 646.2,424.8 646.3,425 646.5,425.2 646.6,425.5 646.8,425.7 646.9,425.9 647.1,426.1 647.2,426.3 647.4,426.5 647.5,426.8 647.7,427 647.8,427.2 647.9,427.4 648.1,427.6 648.2,427.8 648.4,428 648.5,428.3 648.7,428.5 648.8,428.7 648.9,428.9 649.1,429.1 649.2,429.3 649.3,429.5 649.5,429.8 649.6,430 649.8,430.2 649.9,430.4 650,430.6 650.2,430.8 650.3,431 650.4,431.2 650.6,431.4 650.7,431.6 650.8,431.9 650.9,432.1 651.1,432.3 651.2,432.5 651.3,432.7 651.5,432.9 651.6,433.1 651.7,433.3 651.9,433.5 652,433.7 652.1,433.9 652.2,434.1 652.4,434.3 652.5,434.4 652.6,434.6 652.7,434.8 652.9,435 653,435.2 653.1,435.4 653.2,435.6 653.3,435.8 653.5,435.9 653.6,436.1 653.7,436.3 653.8,436.5 653.9,436.7 654.1,436.8 654.2,437 654.3,437.2 654.4,437.4 654.5,437.5 654.7,437.7 654.8,437.9 654.9,438.1 655,438.2 655.1,438.4 655.2,438.6 655.3,438.7 655.5,438.9 655.6,439.1 655.7,439.2 655.8,439.4 655.9,439.6 656,439.7 656.1,439.9 656.3,440.1 656.4,440.2 656.5,440.4 656.6,440.5 656.7,440.7 656.8,440.9 656.9,441 657,441.2 657.1,441.3 657.2,441.5 657.3,441.7 657.5,441.8 657.6,442 657.7,442.1 657.8,442.3 657.9,442.4 658,442.6 658.1,442.7 658.2,442.9 658.3,443 658.4,443.2 658.5,443.3 658.6,443.5 658.7,443.6 658.8,443.8 658.9,443.9 659,444.1 659.1,444.2 659.2,444.4 659.3,444.5 659.4,444.7 659.5,444.8 659.6,445 659.7,445.1 659.8,445.3 659.9,445.4 660,445.6 660.1,445.7 660.2,445.9 660.3,446 660.4,446.1 660.5,446.3 660.6,446.4 660.7,446.6 660.8,446.7 660.9,446.9 661,447 661.1,447.2 661.2,447.3 661.3,447.4 661.4,447.6 661.5,447.7 661.6,447.9 661.7,448 661.8,448.2 661.9,448.3 662,448.4 662.1,448.6 662.2,448.7 662.3,448.9 662.3,449 662.4,449.1 662.5,449.3 662.6,449.4 662.7,449.6 662.8,449.7 662.9,449.8 663,450 663.1,450.1 663.2,450.2 663.3,450.4 663.4,450.5 663.4,450.6 663.5,450.8 663.6,450.9 663.7,451 663.8,451.2 663.9,451.3 664,451.4 664.1,451.6 664.2,451.7 664.2,451.8 664.3,451.9 664.4,452.1 664.5,452.2 664.6,452.3 664.7,452.5 664.8,452.6 664.9,452.7 664.9,452.8 665,452.9 665.1,453.1 665.2,453.2 665.3,453.3 665.4,453.4 665.5,453.6 665.5,453.7 665.6,453.8 665.7,453.9 665.8,454 665.9,454.1 666,454.3 666,454.4 666.1,454.5 666.2,454.6 666.3,454.7 666.4,454.8 666.5,454.9 666.5,455 666.6,455.2 666.7,455.3 666.8,455.4 666.9,455.5 666.9,455.6 667,455.7 667.1,455.8 667.2,455.9 667.3,456 667.3,456.1 667.4,456.2 667.5,456.3 667.6,456.4 667.7,456.5 667.7,456.6 667.8,456.7 667.9,456.8 668,456.9 668.1,457 668.1,457.1 668.2,457.2 668.3,457.3 668.4,457.3 668.4,457.4 668.5,457.5 668.6,457.6 668.7,457.7 668.8,457.8 668.8,457.9 668.9,458 669,458.1 669.1,458.2 669.1,458.2 669.2,458.3 669.3,458.4 669.4,458.5 669.4,458.6 669.5,458.7 669.6,458.8 669.7,458.9 669.7,458.9 669.8,459 669.9,459.1 670,459.2 670,459.3 670.1,459.4 670.2,459.5 670.3,459.5 670.3,459.6 670.4,459.7 670.5,459.8 670.5,459.9 670.6,460 670.7,460.1 670.8,460.1 670.8,460.2 670.9,460.3 671,460.4 671.1,460.5 671.1,460.6 671.2,460.7 671.3,460.7 671.3,460.8 671.4,460.9 671.5,461 671.5,461.1 671.6,461.2 671.7,461.3 671.8,461.3 671.8,461.4 671.9,461.5 672,461.6 672,461.7 672.1,461.8 672.2,461.9 672.2,462 672.3,462.1 672.4,462.2 672.5,462.2 672.5,462.3 672.6,462.4 672.7,462.5 672.7,462.6 672.8,462.7 672.9,462.8 672.9,462.9 673,463 673.1,463.1 673.1,463.2 673.2,463.3 673.3,463.4 673.3,463.5 673.4,463.6 673.5,463.7 673.5,463.8 673.6,463.9 673.7,464 673.7,464.1 673.8,464.2 673.9,464.3 673.9,464.4 674,464.5 674.1,464.6 674.1,464.7 674.2,464.8 674.3,464.9 674.3,465 674.4,465.1 674.5,465.3 674.5,465.4 674.6,465.5 674.6,465.6 674.7,465.7 674.8,465.8 674.8,465.9 674.9,466 675,466.1 675,466.2 675.1,466.3 675.2,466.5 675.2,466.6 675.3,466.7 675.3,466.8 675.4,466.9 675.5,467 675.5,467.1 675.6,467.2 675.7,467.4 675.7,467.5 675.8,467.6 675.8,467.7 675.9,467.8 676,467.9 676,468 676.1,468.1 676.2,468.2 676.2,468.4 676.3,468.5 676.3,468.6 676.4,468.7 676.5,468.8 676.5,468.9 676.6,469 676.6,469.1 676.7,469.2 676.8,469.3 676.8,469.4 676.9,469.6 676.9,469.7 677,469.8 677.1,469.9 677.1,470 677.2,470.1 677.2,470.2 677.3,470.3 677.4,470.4 677.4,470.5 677.5,470.6 677.5,470.7 677.6,470.8 677.7,470.9 677.7,471 677.8,471.1 677.8,471.2 677.9,471.3 678,471.4 678,471.5 678.1,471.6 678.1,471.7 678.2,471.8 678.2,471.9 678.3,472 678.4,472.1 678.4,472.2 678.5,472.3 678.5,472.4 678.6,472.5 678.6,472.6 678.7,472.7 678.8,472.8 678.8,472.9 678.9,472.9 678.9,473 679,473.1 679,473.2 679.1,473.3 679.2,473.4 679.2,473.5 679.3,473.6 679.3,473.7 679.4,473.8 679.4,473.9 679.5,474 679.5,474 679.6,474.1 679.7,474.2 679.7,474.3 679.8,474.4 679.8,474.5 679.9,474.6 679.9,474.7 680,474.8 680,474.9 680.1,474.9 680.1,475 680.2,475.1 680.3,475.2 680.3,475.3 680.4,475.4 680.4,475.5 680.5,475.6 680.5,475.6 680.6,475.7 680.6,475.8 680.7,475.9 680.7,476 680.8,476.1 680.9,476.2 680.9,476.3 681,476.3 681,476.4 681.1,476.5 681.1,476.6 681.2,476.7 681.2,476.8 681.3,476.9 681.3,477 681.4,477 681.4,477.1 681.5,477.2 681.5,477.3 681.6,477.4 681.6,477.5 681.7,477.6 681.7,477.7 681.8,477.7 681.9,477.8 681.9,477.9 682,478 682,478.1 682.1,478.2 682.1,478.3 682.2,478.3 682.2,478.4 682.3,478.5 682.3,478.6 682.4,478.7 682.4,478.8 682.5,478.9 682.5,479 682.6,479 682.6,479.1 682.7,479.2 682.7,479.3 682.8,479.4 682.8,479.5 682.9,479.6 682.9,479.7 683,479.7 683,479.8 683.1,479.9 683.1,480 683.2,480.1 683.2,480.2 683.3,480.3 683.3,480.4 683.4,480.4 683.4,480.5 683.5,480.6 683.5,480.7 683.6,480.8 683.6,480.9 683.7,481 683.7,481.1 683.8,481.2 683.8,481.3 683.9,481.3 683.9,481.4 684,481.5 684,481.6 684.1,481.7 684.1,481.8 684.2,481.9 684.2,482 684.3,482.1 684.3,482.2 684.3,482.3 684.4,482.3 684.4,482.4 684.5,482.5 684.5,482.6 684.6,482.7 684.6,482.8 684.7,482.9 684.7,483 684.8,483.1 684.8,483.2 684.9,483.3 684.9,483.4 685,483.5 685,483.6 685.1,483.6 685.1,483.7 685.2,483.8 685.2,483.9 685.2,484 685.3,484.1 685.3,484.2 685.4,484.3 685.4,484.4 685.5,484.5 685.5,484.6 685.6,484.7 685.6,484.8 685.7,484.9 685.7,484.9 685.8,485 685.8,485.1 685.9,485.2 685.9,485.3 685.9,485.4 686,485.5 686,485.6 686.1,485.7 686.1,485.8 686.2,485.9 686.2,486 686.3,486.1 686.3,486.1 686.4,486.2 686.4,486.3 686.4,486.4 686.5,486.5 686.5,486.6 686.6,486.7 686.6,486.8 686.7,486.9 686.7,487 686.8,487.1 686.8,487.1 686.8,487.2 686.9,487.3 686.9,487.4 687,487.5 687,487.6 687.1,487.7 687.1,487.8 687.2,487.9 687.2,487.9 687.2,488 687.3,488.1 687.3,488.2 687.4,488.3 687.4,488.4 687.5,488.5 687.5,488.5 687.6,488.6 687.6,488.7 687.6,488.8 687.7,488.9 687.7,489 687.8,489.1 687.8,489.1 687.9,489.2 687.9,489.3 687.9,489.4 688,489.5 688,489.6 688.1,489.6 688.1,489.7 688.2,489.8 688.2,489.9 688.2,490 688.3,490.1 688.3,490.1 688.4,490.2 688.4,490.3 688.5,490.4 688.5,490.5 688.5,490.6 688.6,490.6 688.6,490.7 688.7,490.8 688.7,490.9 688.8,491 688.8,491.1 688.8,491.1 688.9,491.2 688.9,491.3 689,491.4 689,491.5 689.1,491.5 689.1,491.6 689.1,491.7 689.2,491.8 689.2,491.9 689.3,492 689.3,492 689.3,492.1 689.4,492.2 689.4,492.3 689.5,492.4 689.5,492.4 689.5,492.5 689.6,492.6 689.6,492.7 689.7,492.8 689.7,492.8 689.8,492.9 689.8,493 689.8,493.1 689.9,493.2 689.9,493.2 690,493.3 690,493.4 690,493.5 690.1,493.6 690.1,493.6 690.2,493.7 690.2,493.8 690.2,493.9 690.3,494 690.3,494 690.4,494.1 690.4,494.2 690.4,494.3 690.5,494.4 690.5,494.4 690.6,494.5 690.6,494.6 690.6,494.7 690.7,494.7 690.7,494.8 690.8,494.9 690.8,495 690.8,495 690.9,495.1 690.9,495.2 691,495.3 691,495.4 691,495.4 691.1,495.5 691.1,495.6 691.2,495.7 691.2,495.7 691.2,495.8 691.3,495.9 691.3,496 691.4,496 691.4,496.1 691.4,496.2 691.5,496.3 691.5,496.3 691.5,496.4 691.6,496.5 691.6,496.6 691.7,496.6 691.7,496.7 691.7,496.8 691.8,496.9 691.8,496.9 691.9,497 691.9,497.1 691.9,497.1 692,497.2 692,497.3 692,497.4 692.1,497.4 692.1,497.5 692.2,497.6 692.2,497.6 692.2,497.7 692.3,497.8 692.3,497.9 692.4,497.9 692.4,498 692.4,498.1 692.5,498.1 692.5,498.2 692.5,498.3 692.6,498.4 692.6,498.4 692.7,498.5 692.7,498.6 692.7,498.6 692.8,498.7 692.8,498.8 692.8,498.8 692.9,498.9 692.9,499 693,499 693,499.1 693,499.2 693.1,499.2 693.1,499.3 693.1,499.4 693.2,499.4 693.2,499.5 693.2,499.6 693.3,499.6 693.3,499.7 693.4,499.8 693.4,499.8 693.4,499.9 693.5,499.9 693.5,500 693.5,500.1 693.6,500.1 693.6,500.2 693.7,500.3 693.7,500.3 693.7,500.4 693.8,500.4 693.8,500.5 693.8,500.6 693.9,500.6 693.9,500.7 693.9,500.7 694,500.8 694,500.8 694.1,500.9 694.1,500.9 694.1,501 694.2,501.1 694.2,501.1 694.2,501.2 694.3,501.2 694.3,501.3 694.3,501.3 694.4,501.4 694.4,501.4 694.4,501.5 694.5,501.5 694.5,501.6 694.6,501.6 694.6,501.7 694.6,501.7 694.7,501.8 694.7,501.8 694.7,501.9 694.8,501.9 694.8,502 694.8,502 694.9,502 694.9,502.1 694.9,502.1 695,502.2 695,502.2 695,502.3 695.1,502.3 695.1,502.3 695.1,502.4 695.2,502.4 695.2,502.5 695.3,502.5 695.3,502.6 695.3,502.6 695.4,502.6 695.4,502.7 695.4,502.7 695.5,502.8 695.5,502.8 695.5,502.8 695.6,502.9 695.6,502.9 695.6,503 695.7,503 695.7,503 695.7,503.1 695.8,503.1 695.8,503.1 695.8,503.2 695.9,503.2 695.9,503.3 695.9,503.3 696,503.3 696,503.4 696,503.4 696.1,503.5 696.1,503.5 696.1,503.5 696.2,503.6 696.2,503.6 696.2,503.7 696.3,503.7 696.3,503.8 696.3,503.8 696.4,503.8 696.4,503.9 696.4,503.9 696.5,504 696.5,504 696.5,504.1 696.6,504.1 696.6,504.2 696.6,504.2 696.7,504.3 696.7,504.3 696.7,504.4 696.8,504.4 696.8,504.4 696.8,504.5 696.9,504.5 696.9,504.6 696.9,504.6 697,504.7 697,504.7 697,504.8 697.1,504.8 697.1,504.9 697.1,504.9 697.2,505 697.2,505 697.2,505.1 697.3,505.1 697.3,505.2 697.3,505.2 697.4,505.3 697.4,505.3 697.4,505.4 697.5,505.5 697.5,505.5 697.5,505.6 697.6,505.6 697.6,505.7 697.6,505.7 697.7,505.8 697.7,505.8 697.7,505.9 697.8,505.9 697.8,506 697.8,506 697.9,506.1 697.9,506.1 697.9,506.2 698,506.2 698,506.3 698,506.3" fill="none" stroke="#666" stroke-width="0.6" stroke-linejoin="round" />
<use href="#bcd" x="465.5" y="380.1"/>
<use href="#bcd" x="488.7" y="362.4"/>
<use href="#bcd" x="502.3" y="348.3"/>
<use href="#bcd" x="511.9" y="342.6"/>
<use href="#bcd" x="519.3" y="339.8"/>
<use href="#bcd" x="525.4" y="338.3"/>
<use href="#bcd" x="530.6" y="337.7"/>
<use href="#bcd" x="535.1" y="337.7"/>
<use href="#bcd" x="539" y="338.1"/>
<use href="#bcd" x="542.5" y="338.6"/>
<use href="#bcd" x="545.7" y="339.2"/>
<use href="#bcd" x="548.6" y="340"/>
<use href="#bcd" x="551.3" y="340.7"/>
<use href="#bcd" x="553.8" y="341.3"/>
<use href="#bcd" x="556.1" y="341.9"/>
<use href="#bcd" x="558.2" y="342.4"/>
<use href="#bcd" x="560.3" y="343.1"/>
<use href="#bcd" x="562.2" y="343.8"/>
<use href="#bcd" x="564" y="344.5"/>
<use href="#bcd" x="565.7" y="345.2"/>
<use href="#bcd" x="567.3" y="346"/>
<use href="#bcd" x="568.9" y="346.7"/>
<use href="#bcd" x="570.4" y="347.4"/>
<use href="#bcd" x="571.8" y="348.1"/>
<use href="#bcd" x="573.2" y="348.7"/>
<use href="#bcd" x="574.5" y="349.4"/>
<use href="#bcd" x="575.7" y="350"/>
<use href="#bcd" x="576.9" y="350.7"/>
<use href="#bcd" x="578.1" y="351.3"/>
<use href="#bcd" x="579.3" y="352"/>
<use href="#bcd" x="580.3" y="352.6"/>
<use href="#bcd" x="581.4" y="353.2"/>
<use href="#bcd" x="582.4" y="353.9"/>
<use href="#bcd" x="583.4" y="354.5"/>
<use href="#bcd" x="584.4" y="355.1"/>
<use href="#bcd" x="585.3" y="355.7"/>
<use href="#bcd" x="586.3" y="356.3"/>
<use href="#bcd" x="587.2" y="356.9"/>
<use href="#bcd" x="588" y="357.5"/>
<use href="#bcd" x="588.9" y="358"/>
<use href="#bcd" x="589.7" y="358.6"/>
<use href="#bcd" x="590.5" y="359.1"/>
<use href="#bcd" x="591.3" y="359.7"/>
<use href="#bcd" x="592.1" y="360.2"/>
<use href="#bcd" x="592.8" y="360.7"/>
<use href="#bcd" x="593.5" y="361.3"/>
<use href="#bcd" x="594.3" y="361.8"/>
<use href="#bcd" x="595" y="362.3"/>
<use href="#bcd" x="595.7" y="362.8"/>
<use href="#bcd" x="596.3" y="363.3"/>
<use href="#bcd" x="597" y="363.8"/>
<use href="#bcd" x="597.6" y="364.2"/>
<use href="#bcd" x="598.3" y="364.7"/>
<use href="#bcd" x="598.9" y="365.2"/>
<use href="#bcd" x="599.5" y="365.6"/>
<use href="#bcd" x="600.1" y="366.1"/>
<use href="#bcd" x="600.7" y="366.5"/>
<use href="#bcd" x="601.3" y="367"/>
<use href="#bcd" x="601.9" y="367.4"/>
<use href="#bcd" x="602.4" y="367.9"/>
<use href="#bcd" x="603" y="368.3"/>
<use href="#bcd" x="603.5" y="368.7"/>
<use href="#bcd" x="604.1" y="369.2"/>
<use href="#bcd" x="604.6" y="369.6"/>
<use href="#bcd" x="605.1" y="370"/>
<use href="#bcd" x="605.6" y="370.4"/>
<use href="#bcd" x="606.1" y="370.8"/>
<use href="#bcd" x="606.6" y="371.2"/>
<use href="#bcd" x="607.1" y="371.6"/>
<use href="#bcd" x="607.6" y="372"/>
<use href="#bcd" x="608.1" y="372.4"/>
<use href="#bcd" x="608.5" y="372.8"/>
<use href="#bcd" x="609" y="373.2"/>
<use href="#bcd" x="609.4" y="373.5"/>
<use href="#bcd" x="609.9" y="373.9"/>
<use href="#bcd" x="610.3" y="374.3"/>
<use href="#bcd" x="610.8" y="374.7"/>
<use href="#bcd" x="611.2" y="375"/>
<use href="#bcd" x="611.6" y="375.4"/>
<use href="#bcd" x="612.1" y="375.7"/>
<use href="#bcd" x="612.5" y="376.1"/>
<use href="#bcd" x="612.9" y="376.4"/>
<use href="#bcd" x="613.3" y="376.8"/>
<use href="#bcd" x="613.7" y="377.1"/>
<use href="#bcd" x="614.1" y="377.5"/>
<use href="#bcd" x="614.5" y="377.8"/>
<use href="#bcd" x="614.9" y="378.2"/>
<use href="#bcd" x="615.2" y="378.5"/>
<use href="#bcd" x="615.6" y="378.8"/>
<use href="#bcd" x="616" y="379.2"/>
<use href="#bcd" x="616.4" y="379.5"/>
<use href="#bcd" x="616.7" y="379.8"/>
<use href="#bcd" x="617.1" y="380.1"/>
<use href="#bcd" x="617.4" y="380.5"/>
<use href="#bcd" x="617.8" y="380.8"/>
<use href="#bcd" x="618.1" y="381.1"/>
<use href="#bcd" x="618.5" y="381.4"/>
<use href="#bcd" x="618.8" y="381.7"/>
<use href="#bcd" x="619.2" y="382"/>
<use href="#bcd" x="619.5" y="382.3"/>
<use href="#bcd" x="619.8" y="382.7"/>
<use href="#bcd" x="620.2" y="383"/>
<use href="#bcd" x="620.5" y="383.3"/>
<use href="#bcd" x="620.8" y="383.6"/>
<use href="#bcd" x="621.1" y="383.9"/>
<use href="#bcd" x="621.5" y="384.2"/>
<use href="#bcd" x="621.8" y="384.5"/>
<use href="#bcd" x="622.1" y="384.8"/>
<use href="#bcd" x="622.4" y="385.1"/>
<use href="#bcd" x="622.7" y="385.3"/>
<use href="#bcd" x="623" y="385.6"/>
<use href="#bcd" x="623.3" y="385.9"/>
<use href="#bcd" x="623.6" y="386.2"/>
<use href="#bcd" x="623.9" y="386.5"/>
<use href="#bcd" x="624.2" y="386.8"/>
<use href="#bcd" x="624.5" y="387.1"/>
<use href="#bcd" x="624.8" y="387.3"/>
<use href="#bcd" x="625" y="387.6"/>
<use href="#bcd" x="625.3" y="387.9"/>
<use href="#bcd" x="625.6" y="388.2"/>
<use href="#bcd" x="625.9" y="388.4"/>
<use href="#bcd" x="626.2" y="388.7"/>
<use href="#bcd" x="626.4" y="389"/>
<use href="#bcd" x="626.7" y="389.2"/>
<use href="#bcd" x="627" y="389.5"/>
<use href="#bcd" x="627.2" y="389.8"/>
<use href="#bcd" x="627.5" y="390"/>
<use href="#bcd" x="627.8" y="390.3"/>
<use href="#bcd" x="628" y="390.6"/>
<use href="#bcd" x="628.3" y="390.8"/>
<use href="#bcd" x="628.5" y="391.1"/>
<use href="#bcd" x="628.8" y="391.4"/>
<use href="#bcd" x="629.1" y="391.6"/>
<use href="#bcd" x="629.3" y="391.9"/>
<use href="#bcd" x="629.5" y="392.1"/>
<use href="#bcd" x="629.8" y="392.4"/>
<use href="#bcd" x="630" y="392.6"/>
<use href="#bcd" x="630.3" y="392.9"/>
<use href="#bcd" x="630.5" y="393.1"/>
<use href="#bcd" x="630.8" y="393.4"/>
<use href="#bcd" x="631" y="393.6"/>
<use href="#bcd" x="631.2" y="393.9"/>
<use href="#bcd" x="631.5" y="394.1"/>
<use href="#bcd" x="631.7" y="394.4"/>
<use href="#bcd" x="631.9" y="394.6"/>
<use href="#bcd" x="632.2" y="394.9"/>
<use href="#bcd" x="632.4" y="395.1"/>
<use href="#bcd" x="632.6" y="395.3"/>
<use href="#bcd" x="632.8" y="395.6"/>
<use href="#bcd" x="633.1" y="395.8"/>
<use href="#bcd" x="633.3" y="396"/>
<use href="#bcd" x="633.5" y="396.3"/>
<use href="#bcd" x="633.7" y="396.5"/>
<use href="#bcd" x="634" y="396.7"/>
<use href="#bcd" x="634.2" y="397"/>
<use href="#bcd" x="634.4" y="397.2"/>
<use href="#bcd" x="634.6" y="397.4"/>
<use href="#bcd" x="634.8" y="397.6"/>
<use href="#bcd" x="635" y="397.9"/>
<use href="#bcd" x="635.2" y="398.1"/>
<use href="#bcd" x="635.4" y="398.3"/>
<use href="#bcd" x="635.6" y="398.5"/>
<use href="#bcd" x="635.9" y="398.8"/>
<use href="#bcd" x="636.1" y="399"/>
<use href="#bcd" x="636.3" y="399.2"/>
<use href="#bcd" x="636.5" y="399.4"/>
<use href="#bcd" x="636.7" y="399.7"/>
<use href="#bcd" x="636.9" y="399.9"/>
<use href="#bcd" x="637.1" y="400.1"/>
<use href="#bcd" x="637.3" y="400.3"/>
<use href="#bcd" x="637.5" y="400.6"/>
<use href="#bcd" x="637.6" y="400.8"/>
<use href="#bcd" x="637.8" y="401"/>
<use href="#bcd" x="638" y="401.2"/>
<use href="#bcd" x="638.2" y="401.5"/>
<use href="#bcd" x="638.4" y="401.7"/>
<use href="#bcd" x="638.6" y="401.9"/>
<use href="#bcd" x="638.8" y="402.1"/>
<use href="#bcd" x="639" y="402.3"/>
<use href="#bcd" x="639.2" y="402.6"/>
<use href="#bcd" x="639.4" y="402.8"/>
<use href="#bcd" x="639.5" y="403"/>
<use href="#bcd" x="639.7" y="403.3"/>
<use href="#bcd" x="639.9" y="403.5"/>
<use href="#bcd" x="640.1" y="403.7"/>
<use href="#bcd" x="640.3" y="403.9"/>
<use href="#bcd" x="640.4" y="404.2"/>
<use href="#bcd" x="640.6" y="404.4"/>
<use href="#bcd" x="640.8" y="404.6"/>
<use href="#bcd" x="641" y="404.9"/>
<use href="#bcd" x="641.2" y="405.1"/>
<use href="#bcd" x="641.3" y="405.3"/>
<use href="#bcd" x="641.5" y="405.5"/>
<use href="#bcd" x="641.7" y="405.8"/>
<use href="#bcd" x="641.8" y="406"/>
<use href="#bcd" x="642" y="406.2"/>
<use href="#bcd" x="642.2" y="406.5"/>
<use href="#bcd" x="642.4" y="406.7"/>
<use href="#bcd" x="642.5" y="406.9"/>
<use href="#bcd" x="642.7" y="407.2"/>
<use href="#bcd" x="642.9" y="407.4"/>
<use href="#bcd" x="643" y="407.6"/>
<use href="#bcd" x="643.2" y="407.9"/>
<use href="#bcd" x="643.4" y="408.1"/>
<use href="#bcd" x="643.5" y="408.3"/>
<use href="#bcd" x="643.7" y="408.6"/>
<use href="#bcd" x="643.8" y="408.8"/>
<use href="#bcd" x="644" y="409"/>
<use href="#bcd" x="644.2" y="409.2"/>
<use href="#bcd" x="644.3" y="409.5"/>
<use href="#bcd" x="644.5" y="409.7"/>
<use href="#bcd" x="644.6" y="409.9"/>
<use href="#bcd" x="644.8" y="410.2"/>
<use href="#bcd" x="645" y="410.4"/>
<use href="#bcd" x="645.1" y="410.6"/>
<use href="#bcd" x="645.3" y="410.9"/>
<use href="#bcd" x="645.4" y="411.1"/>
<use href="#bcd" x="645.6" y="411.3"/>
<use href="#bcd" x="645.7" y="411.5"/>
<use href="#bcd" x="645.9" y="411.8"/>
<use href="#bcd" x="646" y="412"/>
<use href="#bcd" x="646.2" y="412.2"/>
<use href="#bcd" x="646.3" y="412.4"/>
<use href="#bcd" x="646.5" y="412.7"/>
<use href="#bcd" x="646.6" y="412.9"/>
<use href="#bcd" x="646.8" y="413.1"/>
<use href="#bcd" x="646.9" y="413.3"/>
<use href="#bcd" x="647.1" y="413.6"/>
<use href="#bcd" x="647.2" y="413.8"/>
<use href="#bcd" x="647.4" y="414"/>
<use href="#bcd" x="647.5" y="414.2"/>
<use href="#bcd" x="647.7" y="414.4"/>
<use href="#bcd" x="647.8" y="414.7"/>
<use href="#bcd" x="647.9" y="414.9"/>
<use href="#bcd" x="648.1" y="415.1"/>
<use href="#bcd" x="648.2" y="415.3"/>
<use href="#bcd" x="648.4" y="415.5"/>
<use href="#bcd" x="648.5" y="415.8"/>
<use href="#bcd" x="648.7" y="416"/>
<use href="#bcd" x="648.8" y="416.2"/>
<use href="#bcd" x="648.9" y="416.4"/>
<use href="#bcd" x="649.1" y="416.6"/>
<use href="#bcd" x="649.2" y="416.8"/>
<use href="#bcd" x="649.3" y="417"/>
<use href="#bcd" x="649.5" y="417.2"/>
<use href="#bcd" x="649.6" y="417.5"/>
<use href="#bcd" x="649.8" y="417.7"/>
<use href="#bcd" x="649.9" y="417.9"/>
<use href="#bcd" x="650" y="418.1"/>
<use href="#bcd" x="650.2" y="418.3"/>
<use href="#bcd" x="650.3" y="418.5"/>
<use href="#bcd" x="650.4" y="418.7"/>
<use href="#bcd" x="650.6" y="418.9"/>
<use href="#bcd" x="650.7" y="419.1"/>
<use href="#bcd" x="650.8" y="419.3"/>
<use href="#bcd" x="650.9" y="419.6"/>
<use href="#bcd" x="651.1" y="419.8"/>
<use href="#bcd" x="651.2" y="420"/>
<use href="#bcd" x="651.3" y="420.2"/>
<use href="#bcd" x="651.5" y="420.4"/>
<use href="#bcd" x="651.6" y="420.6"/>
<use href="#bcd" x="651.7" y="420.8"/>
<use href="#bcd" x="651.9" y="421"/>
<use href="#bcd" x="652" y="421.2"/>
<use href="#bcd" x="652.1" y="421.4"/>
<use href="#bcd" x="652.2" y="421.6"/>
<use href="#bcd" x="652.4" y="421.8"/>
<use href="#bcd" x="652.5" y="422"/>
<use href="#bcd" x="652.6" y="422.2"/>
<use href="#bcd" x="652.7" y="422.4"/>
<use href="#bcd" x="652.9" y="422.6"/>
<use href="#bcd" x="653" y="422.8"/>
<use href="#bcd" x="653.1" y="423"/>
<use href="#bcd" x="653.2" y="423.2"/>
<use href="#bcd" x="653.3" y="423.4"/>
<use href="#bcd" x="653.5" y="423.6"/>
<use href="#bcd" x="653.6" y="423.8"/>
<use href="#bcd" x="653.7" y="424"/>
<use href="#bcd" x="653.8" y="424.2"/>
<use href="#bcd" x="653.9" y="424.4"/>
<use href="#bcd" x="654.1" y="424.6"/>
<use href="#bcd" x="654.2" y="424.8"/>
<use href="#bcd" x="654.3" y="425"/>
<use href="#bcd" x="654.4" y="425.2"/>
<use href="#bcd" x="654.5" y="425.4"/>
<use href="#bcd" x="654.7" y="425.6"/>
<use href="#bcd" x="654.8" y="425.8"/>
<use href="#bcd" x="654.9" y="426"/>
<use href="#bcd" x="655" y="426.2"/>
<use href="#bcd" x="655.1" y="426.4"/>
<use href="#bcd" x="655.2" y="426.6"/>
<use href="#bcd" x="655.3" y="426.7"/>
<use href="#bcd" x="655.5" y="426.9"/>
<use href="#bcd" x="655.6" y="427.1"/>
<use href="#bcd" x="655.7" y="427.3"/>
<use href="#bcd" x="655.8" y="427.5"/>
<use href="#bcd" x="655.9" y="427.7"/>
<use href="#bcd" x="656" y="427.9"/>
<use href="#bcd" x="656.1" y="428.1"/>
<use href="#bcd" x="656.3" y="428.2"/>
<use href="#bcd" x="656.4" y="428.4"/>
<use href="#bcd" x="656.5" y="428.6"/>
<use href="#bcd" x="656.6" y="428.8"/>
<use href="#bcd" x="656.7" y="429"/>
<use href="#bcd" x="656.8" y="429.2"/>
<use href="#bcd" x="656.9" y="429.4"/>
<use href="#bcd" x="657" y="429.5"/>
<use href="#bcd" x="657.1" y="429.7"/>
<use href="#bcd" x="657.2" y="429.9"/>
<use href="#bcd" x="657.3" y="430.1"/>
<use href="#bcd" x="657.5" y="430.3"/>
<use href="#bcd" x="657.6" y="430.4"/>
<use href="#bcd" x="657.7" y="430.6"/>
<use href="#bcd" x="657.8" y="430.8"/>
<use href="#bcd" x="657.9" y="431"/>
<use href="#bcd" x="658" y="431.1"/>
<use href="#bcd" x="658.1" y="431.3"/>
<use href="#bcd" x="658.2" y="431.5"/>
<use href="#bcd" x="658.3" y="431.7"/>
<use href="#bcd" x="658.4" y="431.9"/>
<use href="#bcd" x="658.5" y="432"/>
<use href="#bcd" x="658.6" y="432.2"/>
<use href="#bcd" x="658.7" y="432.4"/>
<use href="#bcd" x="658.8" y="432.5"/>
<use href="#bcd" x="658.9" y="432.7"/>
<use href="#bcd" x="659" y="432.9"/>
<use href="#bcd" x="659.1" y="433.1"/>
<use href="#bcd" x="659.2" y="433.2"/>
<use href="#bcd" x="659.3" y="433.4"/>
<use href="#bcd" x="659.4" y="433.6"/>
<use href="#bcd" x="659.5" y="433.8"/>
<use href="#bcd" x="659.6" y="433.9"/>
<use href="#bcd" x="659.7" y="434.1"/>
<use href="#bcd" x="659.8" y="434.3"/>
<use href="#bcd" x="659.9" y="434.4"/>
<use href="#bcd" x="660" y="434.6"/>
<use href="#bcd" x="660.1" y="434.8"/>
<use href="#bcd" x="660.2" y="434.9"/>
<use href="#bcd" x="660.3" y="435.1"/>
<use href="#bcd" x="660.4" y="435.3"/>
<use href="#bcd" x="660.5" y="435.4"/>
<use href="#bcd" x="660.6" y="435.6"/>
<use href="#bcd" x="660.7" y="435.8"/>
<use href="#bcd" x="660.8" y="435.9"/>
<use href="#bcd" x="660.9" y="436.1"/>
<use href="#bcd" x="661" y="436.3"/>
<use href="#bcd" x="661.1" y="436.4"/>
<use href="#bcd" x="661.2" y="436.6"/>
<use href="#bcd" x="661.3" y="436.8"/>
<use href="#bcd" x="661.4" y="436.9"/>
<use href="#bcd" x="661.5" y="437.1"/>
<use href="#bcd" x="661.6" y="437.3"/>
<use href="#bcd" x="661.7" y="437.4"/>
<use href="#bcd" x="661.8" y="437.6"/>
<use href="#bcd" x="661.9" y="437.8"/>
<use href="#bcd" x="662" y="437.9"/>
<use href="#bcd" x="662.1" y="438.1"/>
<use href="#bcd" x="662.2" y="438.2"/>
<use href="#bcd" x="662.3" y="438.4"/>
<use href="#bcd" x="662.3" y="438.6"/>
<use href="#bcd" x="662.4" y="438.7"/>
<use href="#bcd" x="662.5" y="438.9"/>
<use href="#bcd" x="662.6" y="439"/>
<use href="#bcd" x="662.7" y="439.2"/>
<use href="#bcd" x="662.8" y="439.4"/>
<use href="#bcd" x="662.9" y="439.5"/>
<use href="#bcd" x="663" y="439.7"/>
<use href="#bcd" x="663.1" y="439.8"/>
<use href="#bcd" x="663.2" y="440"/>
<use href="#bcd" x="663.3" y="440.2"/>
<use href="#bcd" x="663.4" y="440.3"/>
<use href="#bcd" x="663.4" y="440.5"/>
<use href="#bcd" x="663.5" y="440.6"/>
<use href="#bcd" x="663.6" y="440.8"/>
<use href="#bcd" x="663.7" y="440.9"/>
<use href="#bcd" x="663.8" y="441.1"/>
<use href="#bcd" x="663.9" y="441.2"/>
<use href="#bcd" x="664" y="441.4"/>
<use href="#bcd" x="664.1" y="441.5"/>
<use href="#bcd" x="664.2" y="441.7"/>
<use href="#bcd" x="664.2" y="441.9"/>
<use href="#bcd" x="664.3" y="442"/>
<use href="#bcd" x="664.4" y="442.2"/>
<use href="#bcd" x="664.5" y="442.3"/>
<use href="#bcd" x="664.6" y="442.5"/>
<use href="#bcd" x="664.7" y="442.6"/>
<use href="#bcd" x="664.8" y="442.8"/>
<use href="#bcd" x="664.9" y="442.9"/>
<use href="#bcd" x="664.9" y="443.1"/>
<use href="#bcd" x="665" y="443.2"/>
<use href="#bcd" x="665.1" y="443.3"/>
<use href="#bcd" x="665.2" y="443.5"/>
<use href="#bcd" x="665.3" y="443.6"/>
<use href="#bcd" x="665.4" y="443.8"/>
<use href="#bcd" x="665.5" y="443.9"/>
<use href="#bcd" x="665.5" y="444.1"/>
<use href="#bcd" x="665.6" y="444.2"/>
<use href="#bcd" x="665.7" y="444.4"/>
<use href="#bcd" x="665.8" y="444.5"/>
<use href="#bcd" x="665.9" y="444.7"/>
<use href="#bcd" x="666" y="444.8"/>
<use href="#bcd" x="666" y="444.9"/>
<use href="#bcd" x="666.1" y="445.1"/>
<use href="#bcd" x="666.2" y="445.2"/>
<use href="#bcd" x="666.3" y="445.4"/>
<use href="#bcd" x="666.4" y="445.5"/>
<use href="#bcd" x="666.5" y="445.7"/>
<use href="#bcd" x="666.5" y="445.8"/>
<use href="#bcd" x="666.6" y="445.9"/>
<use href="#bcd" x="666.7" y="446.1"/>
<use href="#bcd" x="666.8" y="446.2"/>
<use href="#bcd" x="666.9" y="446.4"/>
<use href="#bcd" x="666.9" y="446.5"/>
<use href="#bcd" x="667" y="446.6"/>
<use href="#bcd" x="667.1" y="446.8"/>
<use href="#bcd" x="667.2" y="446.9"/>
<use href="#bcd" x="667.3" y="447"/>
<use href="#bcd" x="667.3" y="447.2"/>
<use href="#bcd" x="667.4" y="447.3"/>
<use href="#bcd" x="667.5" y="447.5"/>
<use href="#bcd" x="667.6" y="447.6"/>
<use href="#bcd" x="667.7" y="447.7"/>
<use href="#bcd" x="667.7" y="447.9"/>
<use href="#bcd" x="667.8" y="448"/>
<use href="#bcd" x="667.9" y="448.1"/>
<use href="#bcd" x="668" y="448.3"/>
<use href="#bcd" x="668.1" y="448.4"/>
<use href="#bcd" x="668.1" y="448.5"/>
<use href="#bcd" x="668.2" y="448.7"/>
<use href="#bcd" x="668.3" y="448.8"/>
<use href="#bcd" x="668.4" y="448.9"/>
<use href="#bcd" x="668.4" y="449.1"/>
<use href="#bcd" x="668.5" y="449.2"/>
<use href="#bcd" x="668.6" y="449.3"/>
<use href="#bcd" x="668.7" y="449.5"/>
<use href="#bcd" x="668.8" y="449.6"/>
<use href="#bcd" x="668.8" y="449.7"/>
<use href="#bcd" x="668.9" y="449.9"/>
<use href="#bcd" x="669" y="450"/>
<use href="#bcd" x="669.1" y="450.1"/>
<use href="#bcd" x="669.1" y="450.3"/>
<use href="#bcd" x="669.2" y="450.4"/>
<use href="#bcd" x="669.3" y="450.5"/>
<use href="#bcd" x="669.4" y="450.6"/>
<use href="#bcd" x="669.4" y="450.8"/>
<use href="#bcd" x="669.5" y="450.9"/>
<use href="#bcd" x="669.6" y="451"/>
<use href="#bcd" x="669.7" y="451.2"/>
<use href="#bcd" x="669.7" y="451.3"/>
<use href="#bcd" x="669.8" y="451.4"/>
<use href="#bcd" x="669.9" y="451.5"/>
<use href="#bcd" x="670" y="451.7"/>
<use href="#bcd" x="670" y="451.8"/>
<use href="#bcd" x="670.1" y="451.9"/>
<use href="#bcd" x="670.2" y="452.1"/>
<use href="#bcd" x="670.3" y="452.2"/>
<use href="#bcd" x="670.3" y="452.3"/>
<use href="#bcd" x="670.4" y="452.4"/>
<use href="#bcd" x="670.5" y="452.6"/>
<use href="#bcd" x="670.5" y="452.7"/>
<use href="#bcd" x="670.6" y="452.8"/>
<use href="#bcd" x="670.7" y="452.9"/>
<use href="#bcd" x="670.8" y="453.1"/>
<use href="#bcd" x="670.8" y="453.2"/>
<use href="#bcd" x="670.9" y="453.3"/>
<use href="#bcd" x="671" y="453.4"/>
<use href="#bcd" x="671.1" y="453.6"/>
<use href="#bcd" x="671.1" y="453.7"/>
<use href="#bcd" x="671.2" y="453.8"/>
<use href="#bcd" x="671.3" y="453.9"/>
<use href="#bcd" x="671.3" y="454.1"/>
<use href="#bcd" x="671.4" y="454.2"/>
<use href="#bcd" x="671.5" y="454.3"/>
<use href="#bcd" x="671.5" y="454.4"/>
<use href="#bcd" x="671.6" y="454.6"/>
<use href="#bcd" x="671.7" y="454.7"/>
<use href="#bcd" x="671.8" y="454.8"/>
<use href="#bcd" x="671.8" y="454.9"/>
<use href="#bcd" x="671.9" y="455"/>
<use href="#bcd" x="672" y="455.2"/>
<use href="#bcd" x="672" y="455.3"/>
<use href="#bcd" x="672.1" y="455.4"/>
<use href="#bcd" x="672.2" y="455.5"/>
<use href="#bcd" x="672.2" y="455.7"/>
<use href="#bcd" x="672.3" y="455.8"/>
<use href="#bcd" x="672.4" y="455.9"/>
<use href="#bcd" x="672.5" y="456"/>
<use href="#bcd" x="672.5" y="456.1"/>
<use href="#bcd" x="672.6" y="456.3"/>
<use href="#bcd" x="672.7" y="456.4"/>
<use href="#bcd" x="672.7" y="456.5"/>
<use href="#bcd" x="672.8" y="456.6"/>
<use href="#bcd" x="672.9" y="456.8"/>
<use href="#bcd" x="672.9" y="456.9"/>
<use href="#bcd" x="673" y="457"/>
<use href="#bcd" x="673.1" y="457.1"/>
<use href="#bcd" x="673.1" y="457.2"/>
<use href="#bcd" x="673.2" y="457.4"/>
<use href="#bcd" x="673.3" y="457.5"/>
<use href="#bcd" x="673.3" y="457.6"/>
<use href="#bcd" x="673.4" y="457.7"/>
<use href="#bcd" x="673.5" y="457.8"/>
<use href="#bcd" x="673.5" y="458"/>
<use href="#bcd" x="673.6" y="458.1"/>
<use href="#bcd" x="673.7" y="458.2"/>
<use href="#bcd" x="673.7" y="458.3"/>
<use href="#bcd" x="673.8" y="458.4"/>
<use href="#bcd" x="673.9" y="458.6"/>
<use href="#bcd" x="673.9" y="458.7"/>
<use href="#bcd" x="674" y="458.8"/>
<use href="#bcd" x="674.1" y="458.9"/>
<use href="#bcd" x="674.1" y="459"/>
<use href="#bcd" x="674.2" y="459.2"/>
<use href="#bcd" x="674.3" y="459.3"/>
<use href="#bcd" x="674.3" y="459.4"/>
<use href="#bcd" x="674.4" y="459.5"/>
<use href="#bcd" x="674.5" y="459.6"/>
<use href="#bcd" x="674.5" y="459.7"/>
<use href="#bcd" x="674.6" y="459.9"/>
<use href="#bcd" x="674.6" y="460"/>
<use href="#bcd" x="674.7" y="460.1"/>
<use href="#bcd" x="674.8" y="460.2"/>
<use href="#bcd" x="674.8" y="460.3"/>
<use href="#bcd" x="674.9" y="460.5"/>
<use href="#bcd" x="675" y="460.6"/>
<use href="#bcd" x="675" y="460.7"/>
<use href="#bcd" x="675.1" y="460.8"/>
<use href="#bcd" x="675.2" y="460.9"/>
<use href="#bcd" x="675.2" y="461"/>
<use href="#bcd" x="675.3" y="461.2"/>
<use href="#bcd" x="675.3" y="461.3"/>
<use href="#bcd" x="675.4" y="461.4"/>
<use href="#bcd" x="675.5" y="461.5"/>
<use href="#bcd" x="675.5" y="461.6"/>
<use href="#bcd" x="675.6" y="461.7"/>
<use href="#bcd" x="675.7" y="461.9"/>
<use href="#bcd" x="675.7" y="462"/>
<use href="#bcd" x="675.8" y="462.1"/>
<use href="#bcd" x="675.8" y="462.2"/>
<use href="#bcd" x="675.9" y="462.3"/>
<use href="#bcd" x="676" y="462.5"/>
<use href="#bcd" x="676" y="462.6"/>
<use href="#bcd" x="676.1" y="462.7"/>
<use href="#bcd" x="676.2" y="462.8"/>
<use href="#bcd" x="676.2" y="462.9"/>
<use href="#bcd" x="676.3" y="463"/>
<use href="#bcd" x="676.3" y="463.2"/>
<use href="#bcd" x="676.4" y="463.3"/>
<use href="#bcd" x="676.5" y="463.4"/>
<use href="#bcd" x="676.5" y="463.5"/>
<use href="#bcd" x="676.6" y="463.6"/>
<use href="#bcd" x="676.6" y="463.8"/>
<use href="#bcd" x="676.7" y="463.9"/>
<use href="#bcd" x="676.8" y="464"/>
<use href="#bcd" x="676.8" y="464.1"/>
<use href="#bcd" x="676.9" y="464.2"/>
<use href="#bcd" x="676.9" y="464.4"/>
<use href="#bcd" x="677" y="464.5"/>
<use href="#bcd" x="677.1" y="464.6"/>
<use href="#bcd" x="677.1" y="464.7"/>
<use href="#bcd" x="677.2" y="464.8"/>
<use href="#bcd" x="677.2" y="465"/>
<use href="#bcd" x="677.3" y="465.1"/>
<use href="#bcd" x="677.4" y="465.2"/>
<use href="#bcd" x="677.4" y="465.3"/>
<use href="#bcd" x="677.5" y="465.4"/>
<use href="#bcd" x="677.5" y="465.6"/>
<use href="#bcd" x="677.6" y="465.7"/>
<use href="#bcd" x="677.7" y="465.8"/>
<use href="#bcd" x="677.7" y="465.9"/>
<use href="#bcd" x="677.8" y="466"/>
<use href="#bcd" x="677.8" y="466.2"/>
<use href="#bcd" x="677.9" y="466.3"/>
<use href="#bcd" x="678" y="466.4"/>
<use href="#bcd" x="678" y="466.5"/>
<use href="#bcd" x="678.1" y="466.6"/>
<use href="#bcd" x="678.1" y="466.8"/>
<use href="#bcd" x="678.2" y="466.9"/>
<use href="#bcd" x="678.2" y="467"/>
<use href="#bcd" x="678.3" y="467.1"/>
<use href="#bcd" x="678.4" y="467.2"/>
<use href="#bcd" x="678.4" y="467.4"/>
<use href="#bcd" x="678.5" y="467.5"/>
<use href="#bcd" x="678.5" y="467.6"/>
<use href="#bcd" x="678.6" y="467.7"/>
<use href="#bcd" x="678.6" y="467.9"/>
<use href="#bcd" x="678.7" y="468"/>
<use href="#bcd" x="678.8" y="468.1"/>
<use href="#bcd" x="678.8" y="468.2"/>
<use href="#bcd" x="678.9" y="468.3"/>
<use href="#bcd" x="678.9" y="468.5"/>
<use href="#bcd" x="679" y="468.6"/>
<use href="#bcd" x="679" y="468.7"/>
<use href="#bcd" x="679.1" y="468.8"/>
<use href="#bcd" x="679.2" y="469"/>
<use href="#bcd" x="679.2" y="469.1"/>
<use href="#bcd" x="679.3" y="469.2"/>
<use href="#bcd" x="679.3" y="469.3"/>
<use href="#bcd" x="679.4" y="469.4"/>
<use href="#bcd" x="679.4" y="469.6"/>
<use href="#bcd" x="679.5" y="469.7"/>
<use href="#bcd" x="679.5" y="469.8"/>
<use href="#bcd" x="679.6" y="469.9"/>
<use href="#bcd" x="679.7" y="470.1"/>
<use href="#bcd" x="679.7" y="470.2"/>
<use href="#bcd" x="679.8" y="470.3"/>
<use href="#bcd" x="679.8" y="470.4"/>
<use href="#bcd" x="679.9" y="470.6"/>
<use href="#bcd" x="679.9" y="470.7"/>
<use href="#bcd" x="680" y="470.8"/>
<use href="#bcd" x="680" y="470.9"/>
<use href="#bcd" x="680.1" y="471"/>
<use href="#bcd" x="680.1" y="471.2"/>
<use href="#bcd" x="680.2" y="471.3"/>
<use href="#bcd" x="680.3" y="471.4"/>
<use href="#bcd" x="680.3" y="471.5"/>
<use href="#bcd" x="680.4" y="471.7"/>
<use href="#bcd" x="680.4" y="471.8"/>
<use href="#bcd" x="680.5" y="471.9"/>
<use href="#bcd" x="680.5" y="472"/>
<use href="#bcd" x="680.6" y="472.1"/>
<use href="#bcd" x="680.6" y="472.3"/>
<use href="#bcd" x="680.7" y="472.4"/>
<use href="#bcd" x="680.7" y="472.5"/>
<use href="#bcd" x="680.8" y="472.6"/>
<use href="#bcd" x="680.9" y="472.8"/>
<use href="#bcd" x="680.9" y="472.9"/>
<use href="#bcd" x="681" y="473"/>
<use href="#bcd" x="681" y="473.1"/>
<use href="#bcd" x="681.1" y="473.2"/>
<use href="#bcd" x="681.1" y="473.4"/>
<use href="#bcd" x="681.2" y="473.5"/>
<use href="#bcd" x="681.2" y="473.6"/>
<use href="#bcd" x="681.3" y="473.7"/>
<use href="#bcd" x="681.3" y="473.8"/>
<use href="#bcd" x="681.4" y="474"/>
<use href="#bcd" x="681.4" y="474.1"/>
<use href="#bcd" x="681.5" y="474.2"/>
<use href="#bcd" x="681.5" y="474.3"/>
<use href="#bcd" x="681.6" y="474.4"/>
<use href="#bcd" x="681.6" y="474.6"/>
<use href="#bcd" x="681.7" y="474.7"/>
<use href="#bcd" x="681.7" y="474.8"/>
<use href="#bcd" x="681.8" y="474.9"/>
<use href="#bcd" x="681.9" y="475"/>
<use href="#bcd" x="681.9" y="475.1"/>
<use href="#bcd" x="682" y="475.3"/>
<use href="#bcd" x="682" y="475.4"/>
<use href="#bcd" x="682.1" y="475.5"/>
<use href="#bcd" x="682.1" y="475.6"/>
<use href="#bcd" x="682.2" y="475.7"/>
<use href="#bcd" x="682.2" y="475.8"/>
<use href="#bcd" x="682.3" y="476"/>
<use href="#bcd" x="682.3" y="476.1"/>
<use href="#bcd" x="682.4" y="476.2"/>
<use href="#bcd" x="682.4" y="476.3"/>
<use href="#bcd" x="682.5" y="476.4"/>
<use href="#bcd" x="682.5" y="476.5"/>
<use href="#bcd" x="682.6" y="476.6"/>
<use href="#bcd" x="682.6" y="476.8"/>
<use href="#bcd" x="682.7" y="476.9"/>
<use href="#bcd" x="682.7" y="477"/>
<use href="#bcd" x="682.8" y="477.1"/>
<use href="#bcd" x="682.8" y="477.2"/>
<use href="#bcd" x="682.9" y="477.3"/>
<use href="#bcd" x="682.9" y="477.4"/>
<use href="#bcd" x="683" y="477.6"/>
<use href="#bcd" x="683" y="477.7"/>
<use href="#bcd" x="683.1" y="477.8"/>
<use href="#bcd" x="683.1" y="477.9"/>
<use href="#bcd" x="683.2" y="478"/>
<use href="#bcd" x="683.2" y="478.1"/>
<use href="#bcd" x="683.3" y="478.2"/>
<use href="#bcd" x="683.3" y="478.3"/>
<use href="#bcd" x="683.4" y="478.4"/>
<use href="#bcd" x="683.4" y="478.5"/>
<use href="#bcd" x="683.5" y="478.7"/>
<use href="#bcd" x="683.5" y="478.8"/>
<use href="#bcd" x="683.6" y="478.9"/>
<use href="#bcd" x="683.6" y="479"/>
<use href="#bcd" x="683.7" y="479.1"/>
<use href="#bcd" x="683.7" y="479.2"/>
<use href="#bcd" x="683.8" y="479.3"/>
<use href="#bcd" x="683.8" y="479.4"/>
<use href="#bcd" x="683.9" y="479.5"/>
<use href="#bcd" x="683.9" y="479.6"/>
<use href="#bcd" x="684" y="479.7"/>
<use href="#bcd" x="684" y="479.8"/>
<use href="#bcd" x="684.1" y="479.9"/>
<use href="#bcd" x="684.1" y="480.1"/>
<use href="#bcd" x="684.2" y="480.2"/>
<use href="#bcd" x="684.2" y="480.3"/>
<use href="#bcd" x="684.3" y="480.4"/>
<use href="#bcd" x="684.3" y="480.5"/>
<use href="#bcd" x="684.3" y="480.6"/>
<use href="#bcd" x="684.4" y="480.7"/>
<use href="#bcd" x="684.4" y="480.8"/>
<use href="#bcd" x="684.5" y="480.9"/>
<use href="#bcd" x="684.5" y="481"/>
<use href="#bcd" x="684.6" y="481.1"/>
<use href="#bcd" x="684.6" y="481.2"/>
<use href="#bcd" x="684.7" y="481.3"/>
<use href="#bcd" x="684.7" y="481.4"/>
<use href="#bcd" x="684.8" y="481.5"/>
<use href="#bcd" x="684.8" y="481.6"/>
<use href="#bcd" x="684.9" y="481.8"/>
<use href="#bcd" x="684.9" y="481.9"/>
<use href="#bcd" x="685" y="482"/>
<use href="#bcd" x="685" y="482.1"/>
<use href="#bcd" x="685.1" y="482.2"/>
<use href="#bcd" x="685.1" y="482.3"/>
<use href="#bcd" x="685.2" y="482.4"/>
<use href="#bcd" x="685.2" y="482.5"/>
<use href="#bcd" x="685.2" y="482.6"/>
<use href="#bcd" x="685.3" y="482.7"/>
<use href="#bcd" x="685.3" y="482.8"/>
<use href="#bcd" x="685.4" y="482.9"/>
<use href="#bcd" x="685.4" y="483"/>
<use href="#bcd" x="685.5" y="483.1"/>
<use href="#bcd" x="685.5" y="483.2"/>
<use href="#bcd" x="685.6" y="483.3"/>
<use href="#bcd" x="685.6" y="483.4"/>
<use href="#bcd" x="685.7" y="483.5"/>
<use href="#bcd" x="685.7" y="483.6"/>
<use href="#bcd" x="685.8" y="483.7"/>
<use href="#bcd" x="685.8" y="483.8"/>
<use href="#bcd" x="685.9" y="483.9"/>
<use href="#bcd" x="685.9" y="484"/>
<use href="#bcd" x="685.9" y="484.1"/>
<use href="#bcd" x="686" y="484.2"/>
<use href="#bcd" x="686" y="484.3"/>
<use href="#bcd" x="686.1" y="484.4"/>
<use href="#bcd" x="686.1" y="484.5"/>
<use href="#bcd" x="686.2" y="484.6"/>
<use href="#bcd" x="686.2" y="484.7"/>
<use href="#bcd" x="686.3" y="484.8"/>
<use href="#bcd" x="686.3" y="484.9"/>
<use href="#bcd" x="686.4" y="485"/>
<use href="#bcd" x="686.4" y="485.1"/>
<use href="#bcd" x="686.4" y="485.2"/>
<use href="#bcd" x="686.5" y="485.3"/>
<use href="#bcd" x="686.5" y="485.4"/>
<use href="#bcd" x="686.6" y="485.5"/>
<use href="#bcd" x="686.6" y="485.6"/>
<use href="#bcd" x="686.7" y="485.7"/>
<use href="#bcd" x="686.7" y="485.8"/>
<use href="#bcd" x="686.8" y="485.9"/>
<use href="#bcd" x="686.8" y="486"/>
<use href="#bcd" x="686.8" y="486.1"/>
<use href="#bcd" x="686.9" y="486.2"/>
<use href="#bcd" x="686.9" y="486.3"/>
<use href="#bcd" x="687" y="486.4"/>
<use href="#bcd" x="687" y="486.5"/>
<use href="#bcd" x="687.1" y="486.5"/>
<use href="#bcd" x="687.1" y="486.6"/>
<use href="#bcd" x="687.2" y="486.7"/>
<use href="#bcd" x="687.2" y="486.8"/>
<use href="#bcd" x="687.2" y="486.9"/>
<use href="#bcd" x="687.3" y="487"/>
<use href="#bcd" x="687.3" y="487.1"/>
<use href="#bcd" x="687.4" y="487.2"/>
<use href="#bcd" x="687.4" y="487.3"/>
<use href="#bcd" x="687.5" y="487.4"/>
<use href="#bcd" x="687.5" y="487.5"/>
<use href="#bcd" x="687.6" y="487.6"/>
<use href="#bcd" x="687.6" y="487.7"/>
<use href="#bcd" x="687.6" y="487.8"/>
<use href="#bcd" x="687.7" y="487.8"/>
<use href="#bcd" x="687.7" y="487.9"/>
<use href="#bcd" x="687.8" y="488"/>
<use href="#bcd" x="687.8" y="488.1"/>
<use href="#bcd" x="687.9" y="488.2"/>
<use href="#bcd" x="687.9" y="488.3"/>
<use href="#bcd" x="687.9" y="488.4"/>
<use href="#bcd" x="688" y="488.5"/>
<use href="#bcd" x="688" y="488.6"/>
<use href="#bcd" x="688.1" y="488.7"/>
<use href="#bcd" x="688.1" y="488.7"/>
<use href="#bcd" x="688.2" y="488.8"/>
<use href="#bcd" x="688.2" y="488.9"/>
<use href="#bcd" x="688.2" y="489"/>
<use href="#bcd" x="688.3" y="489.1"/>
<use href="#bcd" x="688.3" y="489.2"/>
<use href="#bcd" x="688.4" y="489.3"/>
<use href="#bcd" x="688.4" y="489.4"/>
<use href="#bcd" x="688.5" y="489.5"/>
<use href="#bcd" x="688.5" y="489.5"/>
<use href="#bcd" x="688.5" y="489.6"/>
<use href="#bcd" x="688.6" y="489.7"/>
<use href="#bcd" x="688.6" y="489.8"/>
<use href="#bcd" x="688.7" y="489.9"/>
<use href="#bcd" x="688.7" y="490"/>
<use href="#bcd" x="688.8" y="490.1"/>
<use href="#bcd" x="688.8" y="490.1"/>
<use href="#bcd" x="688.8" y="490.2"/>
<use href="#bcd" x="688.9" y="490.3"/>
<use href="#bcd" x="688.9" y="490.4"/>
<use href="#bcd" x="689" y="490.5"/>
<use href="#bcd" x="689" y="490.6"/>
<use href="#bcd" x="689.1" y="490.7"/>
<use href="#bcd" x="689.1" y="490.7"/>
<use href="#bcd" x="689.1" y="490.8"/>
<use href="#bcd" x="689.2" y="490.9"/>
<use href="#bcd" x="689.2" y="491"/>
<use href="#bcd" x="689.3" y="491.1"/>
<use href="#bcd" x="689.3" y="491.2"/>
<use href="#bcd" x="689.3" y="491.2"/>
<use href="#bcd" x="689.4" y="491.3"/>
<use href="#bcd" x="689.4" y="491.4"/>
<use href="#bcd" x="689.5" y="491.5"/>
<use href="#bcd" x="689.5" y="491.6"/>
<use href="#bcd" x="689.5" y="491.7"/>
<use href="#bcd" x="689.6" y="491.7"/>
<use href="#bcd" x="689.6" y="491.8"/>
<use href="#bcd" x="689.7" y="491.9"/>
<use href="#bcd" x="689.7" y="492"/>
<use href="#bcd" x="689.8" y="492.1"/>
<use href="#bcd" x="689.8" y="492.2"/>
<use href="#bcd" x="689.8" y="492.2"/>
<use href="#bcd" x="689.9" y="492.3"/>
<use href="#bcd" x="689.9" y="492.4"/>
<use href="#bcd" x="690" y="492.5"/>
<use href="#bcd" x="690" y="492.6"/>
<use href="#bcd" x="690" y="492.6"/>
<use href="#bcd" x="690.1" y="492.7"/>
<use href="#bcd" x="690.1" y="492.8"/>
<use href="#bcd" x="690.2" y="492.9"/>
<use href="#bcd" x="690.2" y="493"/>
<use href="#bcd" x="690.2" y="493"/>
<use href="#bcd" x="690.3" y="493.1"/>
<use href="#bcd" x="690.3" y="493.2"/>
<use href="#bcd" x="690.4" y="493.3"/>
<use href="#bcd" x="690.4" y="493.4"/>
<use href="#bcd" x="690.4" y="493.4"/>
<use href="#bcd" x="690.5" y="493.5"/>
<use href="#bcd" x="690.5" y="493.6"/>
<use href="#bcd" x="690.6" y="493.7"/>
<use href="#bcd" x="690.6" y="493.8"/>
<use href="#bcd" x="690.6" y="493.8"/>
<use href="#bcd" x="690.7" y="493.9"/>
<use href="#bcd" x="690.7" y="494"/>
<use href="#bcd" x="690.8" y="494.1"/>
<use href="#bcd" x="690.8" y="494.2"/>
<use href="#bcd" x="690.8" y="494.2"/>
<use href="#bcd" x="690.9" y="494.3"/>
<use href="#bcd" x="690.9" y="494.4"/>
<use href="#bcd" x="691" y="494.5"/>
<use href="#bcd" x="691" y="494.5"/>
<use href="#bcd" x="691" y="494.6"/>
<use href="#bcd" x="691.1" y="494.7"/>
<use href="#bcd" x="691.1" y="494.8"/>
<use href="#bcd" x="691.2" y="494.9"/>
<use href="#bcd" x="691.2" y="494.9"/>
<use href="#bcd" x="691.2" y="495"/>
<use href="#bcd" x="691.3" y="495.1"/>
<use href="#bcd" x="691.3" y="495.2"/>
<use href="#bcd" x="691.4" y="495.2"/>
<use href="#bcd" x="691.4" y="495.3"/>
<use href="#bcd" x="691.4" y="495.4"/>
<use href="#bcd" x="691.5" y="495.5"/>
<use href="#bcd" x="691.5" y="495.6"/>
<use href="#bcd" x="691.5" y="495.6"/>
<use href="#bcd" x="691.6" y="495.7"/>
<use href="#bcd" x="691.6" y="495.8"/>
<use href="#bcd" x="691.7" y="495.9"/>
<use href="#bcd" x="691.7" y="495.9"/>
<use href="#bcd" x="691.7" y="496"/>
<use href="#bcd" x="691.8" y="496.1"/>
<use href="#bcd" x="691.8" y="496.2"/>
<use href="#bcd" x="691.9" y="496.2"/>
<use href="#bcd" x="691.9" y="496.3"/>
<use href="#bcd" x="691.9" y="496.4"/>
<use href="#bcd" x="692" y="496.5"/>
<use href="#bcd" x="692" y="496.5"/>
<use href="#bcd" x="692" y="496.6"/>
<use href="#bcd" x="692.1" y="496.7"/>
<use href="#bcd" x="692.1" y="496.8"/>
<use href="#bcd" x="692.2" y="496.8"/>
<use href="#bcd" x="692.2" y="496.9"/>
<use href="#bcd" x="692.2" y="497"/>
<use href="#bcd" x="692.3" y="497.1"/>
<use href="#bcd" x="692.3" y="497.1"/>
<use href="#bcd" x="692.4" y="497.2"/>
<use href="#bcd" x="692.4" y="497.3"/>
<use href="#bcd" x="692.4" y="497.4"/>
<use href="#bcd" x="692.5" y="497.4"/>
<use href="#bcd" x="692.5" y="497.5"/>
<use href="#bcd" x="692.5" y="497.6"/>
<use href="#bcd" x="692.6" y="497.7"/>
<use href="#bcd" x="692.6" y="497.7"/>
<use href="#bcd" x="692.7" y="497.8"/>
<use href="#bcd" x="692.7" y="497.9"/>
<use href="#bcd" x="692.7" y="498"/>
<use href="#bcd" x="692.8" y="498"/>
<use href="#bcd" x="692.8" y="498.1"/>
<use href="#bcd" x="692.8" y="498.2"/>
<use href="#bcd" x="692.9" y="498.3"/>
<use href="#bcd" x="692.9" y="498.3"/>
<use href="#bcd" x="693" y="498.4"/>
<use href="#bcd" x="693" y="498.5"/>
<use href="#bcd" x="693" y="498.6"/>
<use href="#bcd" x="693.1" y="498.6"/>
<use href="#bcd" x="693.1" y="498.7"/>
<use href="#bcd" x="693.1" y="498.8"/>
<use href="#bcd" x="693.2" y="498.9"/>
<use href="#bcd" x="693.2" y="498.9"/>
<use href="#bcd" x="693.2" y="499"/>
<use href="#bcd" x="693.3" y="499.1"/>
<use href="#bcd" x="693.3" y="499.1"/>
<use href="#bcd" x="693.4" y="499.2"/>
<use href="#bcd" x="693.4" y="499.3"/>
<use href="#bcd" x="693.4" y="499.4"/>
<use href="#bcd" x="693.5" y="499.4"/>
<use href="#bcd" x="693.5" y="499.5"/>
<use href="#bcd" x="693.5" y="499.6"/>
<use href="#bcd" x="693.6" y="499.7"/>
<use href="#bcd" x="693.6" y="499.7"/>
<use href="#bcd" x="693.7" y="499.8"/>
<use href="#bcd" x="693.7" y="499.9"/>
<use href="#bcd" x="693.7" y="499.9"/>
<use href="#bcd" x="693.8" y="500"/>
<use href="#bcd" x="693.8" y="500.1"/>
<use href="#bcd" x="693.8" y="500.2"/>
<use href="#bcd" x="693.9" y="500.2"/>
<use href="#bcd" x="693.9" y="500.3"/>
<use href="#bcd" x="693.9" y="500.4"/>
<use href="#bcd" x="694" y="500.4"/>
<use href="#bcd" x="694" y="500.5"/>
<use href="#bcd" x="694.1" y="500.6"/>
<use href="#bcd" x="694.1" y="500.6"/>
<use href="#bcd" x="694.1" y="500.7"/>
<use href="#bcd" x="694.2" y="500.8"/>
<use href="#bcd" x="694.2" y="500.9"/>
<use href="#bcd" x="694.2" y="500.9"/>
<use href="#bcd" x="694.3" y="501"/>
<use href="#bcd" x="694.3" y="501.1"/>
<use href="#bcd" x="694.3" y="501.1"/>
<use href="#bcd" x="694.4" y="501.2"/>
<use href="#bcd" x="694.4" y="501.3"/>
<use href="#bcd" x="694.4" y="501.3"/>
<use href="#bcd" x="694.5" y="501.4"/>
<use href="#bcd" x="694.5" y="501.5"/>
<use href="#bcd" x="694.6" y="501.5"/>
<use href="#bcd" x="694.6" y="501.6"/>
<use href="#bcd" x="694.6" y="501.7"/>
<use href="#bcd" x="694.7" y="501.7"/>
<use href="#bcd" x="694.7" y="501.8"/>
<use href="#bcd" x="694.7" y="501.9"/>
<use href="#bcd" x="694.8" y="501.9"/>
<use href="#bcd" x="694.8" y="502"/>
<use href="#bcd" x="694.8" y="502"/>
<use href="#bcd" x="694.9" y="502.1"/>
<use href="#bcd" x="694.9" y="502.2"/>
<use href="#bcd" x="694.9" y="502.2"/>
<use href="#bcd" x="695" y="502.3"/>
<use href="#bcd" x="695" y="502.4"/>
<use href="#bcd" x="695" y="502.4"/>
<use href="#bcd" x="695.1" y="502.5"/>
<use href="#bcd" x="695.1" y="502.6"/>
<use href="#bcd" x="695.1" y="502.6"/>
<use href="#bcd" x="695.2" y="502.7"/>
<use href="#bcd" x="695.2" y="502.8"/>
<use href="#bcd" x="695.3" y="502.8"/>
<use href="#bcd" x="695.3" y="502.9"/>
<use href="#bcd" x="695.3" y="503"/>
<use href="#bcd" x="695.4" y="503"/>
<use href="#bcd" x="695.4" y="503.1"/>
<use href="#bcd" x="695.4" y="503.2"/>
<use href="#bcd" x="695.5" y="503.2"/>
<use href="#bcd" x="695.5" y="503.3"/>
<use href="#bcd" x="695.5" y="503.4"/>
<use href="#bcd" x="695.6" y="503.4"/>
<use href="#bcd" x="695.6" y="503.5"/>
<use href="#bcd" x="695.6" y="503.6"/>
<use href="#bcd" x="695.7" y="503.6"/>
<use href="#bcd" x="695.7" y="503.7"/>
<use href="#bcd" x="695.7" y="503.8"/>
<use href="#bcd" x="695.8" y="503.8"/>
<use href="#bcd" x="695.8" y="503.9"/>
<use href="#bcd" x="695.8" y="504"/>
<use href="#bcd" x="695.9" y="504"/>
<use href="#bcd" x="695.9" y="504.1"/>
<use href="#bcd" x="695.9" y="504.2"/>
<use href="#bcd" x="696" y="504.3"/>
<use href="#bcd" x="696" y="504.3"/>
<use href="#bcd" x="696" y="504.4"/>
<use href="#bcd" x="696.1" y="504.5"/>
<use href="#bcd" x="696.1" y="504.6"/>
<use href="#bcd" x="696.1" y="504.6"/>
<use href="#bcd" x="696.2" y="504.7"/>
<use href="#bcd" x="696.2" y="504.8"/>
<use href="#bcd" x="696.2" y="504.9"/>
<use href="#bcd" x="696.3" y="504.9"/>
<use href="#bcd" x="696.3" y="505"/>
<use href="#bcd" x="696.3" y="505.1"/>
<use href="#bcd" x="696.4" y="505.2"/>
<use href="#bcd" x="696.4" y="505.3"/>
<use href="#bcd" x="696.4" y="505.4"/>
<use href="#bcd" x="696.5" y="505.4"/>
<use href="#bcd" x="696.5" y="505.5"/>
<use href="#bcd" x="696.5" y="505.6"/>
<use href="#bcd" x="696.6" y="505.7"/>
<use href="#bcd" x="696.6" y="505.8"/>
<use href="#bcd" x="696.6" y="505.9"/>
<use href="#bcd" x="696.7" y="506"/>
<use href="#bcd" x="696.7" y="506.1"/>
<use href="#bcd" x="696.7" y="506.2"/>
<use href="#bcd" x="696.8" y="506.3"/>
<use href="#bcd" x="696.8" y="506.4"/>
<use href="#bcd" x="696.8" y="506.5"/>
<use href="#bcd" x="696.9" y="506.6"/>
<use href="#bcd" x="696.9" y="506.8"/>
<use href="#bcd" x="696.9" y="506.9"/>
<use href="#bcd" x="697" y="507"/>
<use href="#bcd" x="697" y="507.1"/>
<use href="#bcd" x="697" y="507.2"/>
<use href="#bcd" x="697.1" y="507.4"/>
<use href="#bcd" x="697.1" y="507.5"/>
<use href="#bcd" x="697.1" y="507.6"/>
<use href="#bcd" x="697.2" y="507.7"/>
<use href="#bcd" x="697.2" y="507.9"/>
<use href="#bcd" x="697.2" y="508"/>
<use href="#bcd" x="697.3" y="508.1"/>
<use href="#bcd" x="697.3" y="508.3"/>
<use href="#bcd" x="697.3" y="508.4"/>
<use href="#bcd" x="697.4" y="508.5"/>
<use href="#bcd" x="697.4" y="508.7"/>
<use href="#bcd" x="697.4" y="508.8"/>
<use href="#bcd" x="697.5" y="509"/>
<use href="#bcd" x="697.5" y="509.1"/>
<use href="#bcd" x="697.5" y="509.3"/>
<use href="#bcd" x="697.6" y="509.4"/>
<use href="#bcd" x="697.6" y="509.6"/>
<use href="#bcd" x="697.6" y="509.7"/>
<use href="#bcd" x="697.7" y="509.9"/>
<use href="#bcd" x="697.7" y="510"/>
<use href="#bcd" x="697.7" y="510.2"/>
<use href="#bcd" x="697.8" y="510.3"/>
<use href="#bcd" x="697.8" y="510.5"/>
<use href="#bcd" x="697.8" y="510.6"/>
<use href="#bcd" x="697.9" y="510.8"/>
<use href="#bcd" x="697.9" y="510.9"/>
<use href="#bcd" x="697.9" y="511.1"/>
<use href="#bcd" x="698" y="511.2"/>
<use href="#bcd" x="698" y="511.3"/>
<use href="#bcd" x="698" y="511.4"/>
<use href="#ocd" x="465.5" y="382.7"/>
<use href="#ocd" x="488.7" y="366.5"/>
<use href="#ocd" x="502.3" y="354.2"/>
<use href="#ocd" x="511.9" y="349.9"/>
<use href="#ocd" x="519.3" y="347.6"/>
<use href="#ocd" x="525.4" y="346.8"/>
<use href="#ocd" x="530.6" y="347.1"/>
<use href="#ocd" x="535.1" y="347.7"/>
<use href="#ocd" x="539" y="348.3"/>
<use href="#ocd" x="542.5" y="349.1"/>
<use href="#ocd" x="545.7" y="350.1"/>
<use href="#ocd" x="548.6" y="351.2"/>
<use href="#ocd" x="551.3" y="351.9"/>
<use href="#ocd" x="553.8" y="352.5"/>
<use href="#ocd" x="556.1" y="353.1"/>
<use href="#ocd" x="558.2" y="353.7"/>
<use href="#ocd" x="560.3" y="354.4"/>
<use href="#ocd" x="562.2" y="355.2"/>
<use href="#ocd" x="564" y="356"/>
<use href="#ocd" x="565.7" y="356.8"/>
<use href="#ocd" x="567.3" y="357.6"/>
<use href="#ocd" x="568.9" y="358.4"/>
<use href="#ocd" x="570.4" y="359.2"/>
<use href="#ocd" x="571.8" y="360"/>
<use href="#ocd" x="573.2" y="360.8"/>
<use href="#ocd" x="574.5" y="361.5"/>
<use href="#ocd" x="575.7" y="362.3"/>
<use href="#ocd" x="576.9" y="363.1"/>
<use href="#ocd" x="578.1" y="363.8"/>
<use href="#ocd" x="579.3" y="364.5"/>
<use href="#ocd" x="580.3" y="365.2"/>
<use href="#ocd" x="581.4" y="365.9"/>
<use href="#ocd" x="582.4" y="366.6"/>
<use href="#ocd" x="583.4" y="367.3"/>
<use href="#ocd" x="584.4" y="368"/>
<use href="#ocd" x="585.3" y="368.7"/>
<use href="#ocd" x="586.3" y="369.3"/>
<use href="#ocd" x="587.2" y="370"/>
<use href="#ocd" x="588" y="370.6"/>
<use href="#ocd" x="588.9" y="371.2"/>
<use href="#ocd" x="589.7" y="371.8"/>
<use href="#ocd" x="590.5" y="372.4"/>
<use href="#ocd" x="591.3" y="372.9"/>
<use href="#ocd" x="592.1" y="373.5"/>
<use href="#ocd" x="592.8" y="374"/>
<use href="#ocd" x="593.5" y="374.5"/>
<use href="#ocd" x="594.3" y="375.1"/>
<use href="#ocd" x="595" y="375.6"/>
<use href="#ocd" x="595.7" y="376.1"/>
<use href="#ocd" x="596.3" y="376.6"/>
<use href="#ocd" x="597" y="377"/>
<use href="#ocd" x="597.6" y="377.5"/>
<use href="#ocd" x="598.3" y="378"/>
<use href="#ocd" x="598.9" y="378.5"/>
<use href="#ocd" x="599.5" y="378.9"/>
<use href="#ocd" x="600.1" y="379.4"/>
<use href="#ocd" x="600.7" y="379.8"/>
<use href="#ocd" x="601.3" y="380.3"/>
<use href="#ocd" x="601.9" y="380.7"/>
<use href="#ocd" x="602.4" y="381.2"/>
<use href="#ocd" x="603" y="381.6"/>
<use href="#ocd" x="603.5" y="382"/>
<use href="#ocd" x="604.1" y="382.5"/>
<use href="#ocd" x="604.6" y="382.9"/>
<use href="#ocd" x="605.1" y="383.3"/>
<use href="#ocd" x="605.6" y="383.7"/>
<use href="#ocd" x="606.1" y="384.1"/>
<use href="#ocd" x="606.6" y="384.5"/>
<use href="#ocd" x="607.1" y="384.9"/>
<use href="#ocd" x="607.6" y="385.3"/>
<use href="#ocd" x="608.1" y="385.7"/>
<use href="#ocd" x="608.5" y="386.1"/>
<use href="#ocd" x="609" y="386.5"/>
<use href="#ocd" x="609.4" y="386.8"/>
<use href="#ocd" x="609.9" y="387.2"/>
<use href="#ocd" x="610.3" y="387.6"/>
<use href="#ocd" x="610.8" y="387.9"/>
<use href="#ocd" x="611.2" y="388.3"/>
<use href="#ocd" x="611.6" y="388.7"/>
<use href="#ocd" x="612.1" y="389"/>
<use href="#ocd" x="612.5" y="389.4"/>
<use href="#ocd" x="612.9" y="389.7"/>
<use href="#ocd" x="613.3" y="390.1"/>
<use href="#ocd" x="613.7" y="390.4"/>
<use href="#ocd" x="614.1" y="390.8"/>
<use href="#ocd" x="614.5" y="391.1"/>
<use href="#ocd" x="614.9" y="391.4"/>
<use href="#ocd" x="615.2" y="391.8"/>
<use href="#ocd" x="615.6" y="392.1"/>
<use href="#ocd" x="616" y="392.4"/>
<use href="#ocd" x="616.4" y="392.7"/>
<use href="#ocd" x="616.7" y="393.1"/>
<use href="#ocd" x="617.1" y="393.4"/>
<use href="#ocd" x="617.4" y="393.7"/>
<use href="#ocd" x="617.8" y="394"/>
<use href="#ocd" x="618.1" y="394.3"/>
<use href="#ocd" x="618.5" y="394.6"/>
<use href="#ocd" x="618.8" y="394.9"/>
<use href="#ocd" x="619.2" y="395.3"/>
<use href="#ocd" x="619.5" y="395.6"/>
<use href="#ocd" x="619.8" y="395.9"/>
<use href="#ocs0" x="620.2" y="396.2"/>
<use href="#ocs0" x="620.5" y="396.5"/>
<use href="#ocs0" x="620.8" y="396.8"/>
<use href="#ocs0" x="621.1" y="397.1"/>
<use href="#ocs0" x="621.5" y="397.3"/>
<use href="#ocs0" x="621.8" y="397.6"/>
<use href="#ocs0" x="622.1" y="397.9"/>
<use href="#ocs0" x="622.4" y="398.2"/>
<use href="#ocs0" x="622.7" y="398.5"/>
<use href="#ocs0" x="623" y="398.8"/>
<use href="#ocs0" x="623.3" y="399.1"/>
<use href="#ocs0" x="623.6" y="399.3"/>
<use href="#ocs0" x="623.9" y="399.6"/>
<use href="#ocs0" x="624.2" y="399.9"/>
<use href="#ocs0" x="624.5" y="400.2"/>
<use href="#ocs0" x="624.8" y="400.4"/>
<use href="#ocs0" x="625" y="400.7"/>
<use href="#ocs0" x="625.3" y="401"/>
<use href="#ocs0" x="625.6" y="401.3"/>
<use href="#ocs0" x="625.9" y="401.5"/>
<use href="#ocs0" x="626.2" y="401.8"/>
<use href="#ocs0" x="626.4" y="402.1"/>
<use href="#ocs0" x="626.7" y="402.3"/>
<use href="#ocs0" x="627" y="402.6"/>
<use href="#ocs0" x="627.2" y="402.8"/>
<use href="#ocs0" x="627.5" y="403.1"/>
<use href="#ocs0" x="627.8" y="403.4"/>
<use href="#ocs0" x="628" y="403.6"/>
<use href="#ocs0" x="628.3" y="403.9"/>
<use href="#ocs0" x="628.5" y="404.1"/>
<use href="#ocs0" x="628.8" y="404.4"/>
<use href="#ocs0" x="629.1" y="404.6"/>
<use href="#ocs0" x="629.3" y="404.9"/>
<use href="#ocs0" x="629.5" y="405.1"/>
<use href="#ocs0" x="629.8" y="405.4"/>
<use href="#ocs1" x="630" y="405.6"/>
<use href="#ocs1" x="630.3" y="405.9"/>
<use href="#ocs1" x="630.5" y="406.1"/>
<use href="#ocs1" x="630.8" y="406.4"/>
<use href="#ocs1" x="631" y="406.6"/>
<use href="#ocs1" x="631.2" y="406.9"/>
<use href="#ocs1" x="631.5" y="407.1"/>
<use href="#ocs1" x="631.7" y="407.3"/>
<use href="#ocs1" x="631.9" y="407.6"/>
<use href="#ocs1" x="632.2" y="407.8"/>
<use href="#ocs1" x="632.4" y="408"/>
<use href="#ocs1" x="632.6" y="408.3"/>
<use href="#ocs1" x="632.8" y="408.5"/>
<use href="#ocs1" x="633.1" y="408.7"/>
<use href="#ocs1" x="633.3" y="409"/>
<use href="#ocs1" x="633.5" y="409.2"/>
<use href="#ocs1" x="633.7" y="409.4"/>
<use href="#ocs1" x="634" y="409.7"/>
<use href="#ocs1" x="634.2" y="409.9"/>
<use href="#ocs1" x="634.4" y="410.1"/>
<use href="#ocs1" x="634.6" y="410.3"/>
<use href="#ocs1" x="634.8" y="410.5"/>
<use href="#ocs1" x="635" y="410.8"/>
<use href="#ocs1" x="635.2" y="411"/>
<use href="#ocs1" x="635.4" y="411.2"/>
<use href="#ocs1" x="635.6" y="411.4"/>
<use href="#ocs1" x="635.9" y="411.7"/>
<use href="#ocs1" x="636.1" y="411.9"/>
<use href="#ocs1" x="636.3" y="412.1"/>
<use href="#ocs1" x="636.5" y="412.3"/>
<use href="#ocs1" x="636.7" y="412.5"/>
<use href="#ocs1" x="636.9" y="412.7"/>
<use href="#ocs1" x="637.1" y="413"/>
<use href="#ocs1" x="637.3" y="413.2"/>
<use href="#ocs1" x="637.5" y="413.4"/>
<use href="#ocs1" x="637.6" y="413.6"/>
<use href="#ocs1" x="637.8" y="413.8"/>
<use href="#ocs1" x="638" y="414"/>
<use href="#ocs1" x="638.2" y="414.2"/>
<use href="#ocs1" x="638.4" y="414.5"/>
<use href="#ocs1" x="638.6" y="414.7"/>
<use href="#ocs1" x="638.8" y="414.9"/>
<use href="#ocs1" x="639" y="415.1"/>
<use href="#ocs1" x="639.2" y="415.3"/>
<use href="#ocs1" x="639.4" y="415.5"/>
<use href="#ocs1" x="639.5" y="415.8"/>
<use href="#ocs1" x="639.7" y="416"/>
<use href="#ocs1" x="639.9" y="416.2"/>
<use href="#ocs1" x="640.1" y="416.4"/>
<use href="#ocs1" x="640.3" y="416.6"/>
<use href="#ocs1" x="640.4" y="416.8"/>
<use href="#ocs1" x="640.6" y="417.1"/>
<use href="#ocs1" x="640.8" y="417.3"/>
<use href="#ocs1" x="641" y="417.5"/>
<use href="#ocs1" x="641.2" y="417.7"/>
<use href="#ocs1" x="641.3" y="417.9"/>
<use href="#ocs1" x="641.5" y="418.2"/>
<use href="#ocs1" x="641.7" y="418.4"/>
<use href="#ocs1" x="641.8" y="418.6"/>
<use href="#ocs1" x="642" y="418.8"/>
<use href="#ocs1" x="642.2" y="419.1"/>
<use href="#ocs1" x="642.4" y="419.3"/>
<use href="#ocs1" x="642.5" y="419.5"/>
<use href="#ocs1" x="642.7" y="419.8"/>
<use href="#ocs1" x="642.9" y="420"/>
<use href="#ocs1" x="643" y="420.2"/>
<use href="#ocs1" x="643.2" y="420.4"/>
<use href="#ocs1" x="643.4" y="420.7"/>
<use href="#ocs1" x="643.5" y="420.9"/>
<use href="#ocs1" x="643.7" y="421.1"/>
<use href="#ocs1" x="643.8" y="421.4"/>
<use href="#ocs1" x="644" y="421.6"/>
<use href="#ocs1" x="644.2" y="421.8"/>
<use href="#ocs1" x="644.3" y="422.1"/>
<use href="#ocs1" x="644.5" y="422.3"/>
<use href="#ocs1" x="644.6" y="422.5"/>
<use href="#ocs1" x="644.8" y="422.8"/>
<use href="#ocs1" x="645" y="423"/>
<use href="#ocs1" x="645.1" y="423.2"/>
<use href="#ocs1" x="645.3" y="423.4"/>
<use href="#ocs1" x="645.4" y="423.7"/>
<use href="#ocs1" x="645.6" y="423.9"/>
<use href="#ocs1" x="645.7" y="424.1"/>
<use href="#ocs1" x="645.9" y="424.4"/>
<use href="#ocs1" x="646" y="424.6"/>
<use href="#ocs1" x="646.2" y="424.8"/>
<use href="#ocs1" x="646.3" y="425"/>
<use href="#ocs1" x="646.5" y="425.2"/>
<use href="#ocs1" x="646.6" y="425.5"/>
<use href="#ocs1" x="646.8" y="425.7"/>
<use href="#ocs1" x="646.9" y="425.9"/>
<use href="#ocs1" x="647.1" y="426.1"/>
<use href="#ocs1" x="647.2" y="426.3"/>
<use href="#ocs1" x="647.4" y="426.5"/>
<use href="#ocs1" x="647.5" y="426.8"/>
<use href="#ocs1" x="647.7" y="427"/>
<use href="#ocs1" x="647.8" y="427.2"/>
<use href="#ocs1" x="647.9" y="427.4"/>
<use href="#ocs1" x="648.1" y="427.6"/>
<use href="#ocs1" x="648.2" y="427.8"/>
<use href="#ocs1" x="648.4" y="428"/>
<use href="#ocs1" x="648.5" y="428.3"/>
<use href="#ocs1" x="648.7" y="428.5"/>
<use href="#ocs1" x="648.8" y="428.7"/>
<use href="#ocs1" x="648.9" y="428.9"/>
<use href="#ocs1" x="649.1" y="429.1"/>
<use href="#ocs1" x="649.2" y="429.3"/>
<use href="#ocs1" x="649.3" y="429.5"/>
<use href="#ocs1" x="649.5" y="429.8"/>
<use href="#ocs1" x="649.6" y="430"/>
<use href="#ocs1" x="649.8" y="430.2"/>
<use href="#ocs1" x="649.9" y="430.4"/>
<use href="#ocs2" x="650" y="430.6"/>
<use href="#ocs2" x="650.2" y="430.8"/>
<use href="#ocs2" x="650.3" y="431"/>
<use href="#ocs2" x="650.4" y="431.2"/>
<use href="#ocs2" x="650.6" y="431.4"/>
<use href="#ocs2" x="650.7" y="431.6"/>
<use href="#ocs2" x="650.8" y="431.9"/>
<use href="#ocs2" x="650.9" y="432.1"/>
<use href="#ocs2" x="651.1" y="432.3"/>
<use href="#ocs2" x="651.2" y="432.5"/>
<use href="#ocs2" x="651.3" y="432.7"/>
<use href="#ocs2" x="651.5" y="432.9"/>
<use href="#ocs2" x="651.6" y="433.1"/>
<use href="#ocs2" x="651.7" y="433.3"/>
<use href="#ocs2" x="651.9" y="433.5"/>
<use href="#ocs2" x="652" y="433.7"/>
<use href="#ocs2" x="652.1" y="433.9"/>
<use href="#ocs2" x="652.2" y="434.1"/>
<use href="#ocs2" x="652.4" y="434.3"/>
<use href="#ocs2" x="652.5" y="434.4"/>
<use href="#ocs2" x="652.6" y="434.6"/>
<use href="#ocs2" x="652.7" y="434.8"/>
<use href="#ocs2" x="652.9" y="435"/>
<use href="#ocs2" x="653" y="435.2"/>
<use href="#ocs2" x="653.1" y="435.4"/>
<use href="#ocs2" x="653.2" y="435.6"/>
<use href="#ocs2" x="653.3" y="435.8"/>
<use href="#ocs2" x="653.5" y="435.9"/>
<use href="#ocs2" x="653.6" y="436.1"/>
<use href="#ocs2" x="653.7" y="436.3"/>
<use href="#ocs2" x="653.8" y="436.5"/>
<use href="#ocs2" x="653.9" y="436.7"/>
<use href="#ocs2" x="654.1" y="436.8"/>
<use href="#ocs2" x="654.2" y="437"/>
<use href="#ocs2" x="654.3" y="437.2"/>
<use href="#ocs2" x="654.4" y="437.4"/>
<use href="#ocs2" x="654.5" y="437.5"/>
<use href="#ocs2" x="654.7" y="437.7"/>
<use href="#ocs2" x="654.8" y="437.9"/>
<use href="#ocs2" x="654.9" y="438.1"/>
<use href="#ocs2" x="655" y="438.2"/>
<use href="#ocs2" x="655.1" y="438.4"/>
<use href="#ocs2" x="655.2" y="438.6"/>
<use href="#ocs2" x="655.3" y="438.7"/>
<use href="#ocs2" x="655.5" y="438.9"/>
<use href="#ocs2" x="655.6" y="439.1"/>
<use href="#ocs2" x="655.7" y="439.2"/>
<use href="#ocs2" x="655.8" y="439.4"/>
<use href="#ocs2" x="655.9" y="439.6"/>
<use href="#ocs2" x="656" y="439.7"/>
<use href="#ocs2" x="656.1" y="439.9"/>
<use href="#ocs2" x="656.3" y="440.1"/>
<use href="#ocs2" x="656.4" y="440.2"/>
<use href="#ocs2" x="656.5" y="440.4"/>
<use href="#ocs2" x="656.6" y="440.5"/>
<use href="#ocs2" x="656.7" y="440.7"/>
<use href="#ocs2" x="656.8" y="440.9"/>
<use href="#ocs2" x="656.9" y="441"/>
<use href="#ocs2" x="657" y="441.2"/>
<use href="#ocs2" x="657.1" y="441.3"/>
<use href="#ocs2" x="657.2" y="441.5"/>
<use href="#ocs2" x="657.3" y="441.7"/>
<use href="#ocs2" x="657.5" y="441.8"/>
<use href="#ocs2" x="657.6" y="442"/>
<use href="#ocs2" x="657.7" y="442.1"/>
<use href="#ocs2" x="657.8" y="442.3"/>
<use href="#ocs2" x="657.9" y="442.4"/>
<use href="#ocs2" x="658" y="442.6"/>
<use href="#ocs2" x="658.1" y="442.7"/>
<use href="#ocs2" x="658.2" y="442.9"/>
<use href="#ocs2" x="658.3" y="443"/>
<use href="#ocs2" x="658.4" y="443.2"/>
<use href="#ocs2" x="658.5" y="443.3"/>
<use href="#ocs2" x="658.6" y="443.5"/>
<use href="#ocs2" x="658.7" y="443.6"/>
<use href="#ocs2" x="658.8" y="443.8"/>
<use href="#ocs2" x="658.9" y="443.9"/>
<use href="#ocs2" x="659" y="444.1"/>
<use href="#ocs2" x="659.1" y="444.2"/>
<use href="#ocs2" x="659.2" y="444.4"/>
<use href="#ocs2" x="659.3" y="444.5"/>
<use href="#ocs2" x="659.4" y="444.7"/>
<use href="#ocs2" x="659.5" y="444.8"/>
<use href="#ocs2" x="659.6" y="445"/>
<use href="#ocs2" x="659.7" y="445.1"/>
<use href="#ocs2" x="659.8" y="445.3"/>
<use href="#ocs2" x="659.9" y="445.4"/>
<use href="#ocs2" x="660" y="445.6"/>
<use href="#ocs2" x="660.1" y="445.7"/>
<use href="#ocs2" x="660.2" y="445.9"/>
<use href="#ocs2" x="660.3" y="446"/>
<use href="#ocs2" x="660.4" y="446.1"/>
<use href="#ocs2" x="660.5" y="446.3"/>
<use href="#ocs2" x="660.6" y="446.4"/>
<use href="#ocs2" x="660.7" y="446.6"/>
<use href="#ocs2" x="660.8" y="446.7"/>
<use href="#ocs2" x="660.9" y="446.9"/>
<use href="#ocs2" x="661" y="447"/>
<use href="#ocs2" x="661.1" y="447.2"/>
<use href="#ocs2" x="661.2" y="447.3"/>
<use href="#ocs2" x="661.3" y="447.4"/>
<use href="#ocs2" x="661.4" y="447.6"/>
<use href="#ocs2" x="661.5" y="447.7"/>
<use href="#ocs2" x="661.6" y="447.9"/>
<use href="#ocs2" x="661.7" y="448"/>
<use href="#ocs2" x="661.8" y="448.2"/>
<use href="#ocs2" x="661.9" y="448.3"/>
<use href="#ocs2" x="662" y="448.4"/>
<use href="#ocs2" x="662.1" y="448.6"/>
<use href="#ocs2" x="662.2" y="448.7"/>
<use href="#ocs2" x="662.3" y="448.9"/>
<use href="#ocs2" x="662.3" y="449"/>
<use href="#ocs2" x="662.4" y="449.1"/>
<use href="#ocs2" x="662.5" y="449.3"/>
<use href="#ocs2" x="662.6" y="449.4"/>
<use href="#ocs2" x="662.7" y="449.6"/>
<use href="#ocs2" x="662.8" y="449.7"/>
<use href="#ocs2" x="662.9" y="449.8"/>
<use href="#ocs2" x="663" y="450"/>
<use href="#ocs2" x="663.1" y="450.1"/>
<use href="#ocs2" x="663.2" y="450.2"/>
<use href="#ocs2" x="663.3" y="450.4"/>
<use href="#ocs2" x="663.4" y="450.5"/>
<use href="#ocs2" x="663.4" y="450.6"/>
<use href="#ocs2" x="663.5" y="450.8"/>
<use href="#ocs2" x="663.6" y="450.9"/>
<use href="#ocs2" x="663.7" y="451"/>
<use href="#ocs2" x="663.8" y="451.2"/>
<use href="#ocs2" x="663.9" y="451.3"/>
<use href="#ocs2" x="664" y="451.4"/>
<use href="#ocs2" x="664.1" y="451.6"/>
<use href="#ocs2" x="664.2" y="451.7"/>
<use href="#ocs2" x="664.2" y="451.8"/>
<use href="#ocs2" x="664.3" y="451.9"/>
<use href="#ocs2" x="664.4" y="452.1"/>
<use href="#ocs2" x="664.5" y="452.2"/>
<use href="#ocs2" x="664.6" y="452.3"/>
<use href="#ocs2" x="664.7" y="452.5"/>
<use href="#ocs2" x="664.8" y="452.6"/>
<use href="#ocs2" x="664.9" y="452.7"/>
<use href="#ocs2" x="664.9" y="452.8"/>
<use href="#ocs2" x="665" y="452.9"/>
<use href="#ocs2" x="665.1" y="453.1"/>
<use href="#ocs2" x="665.2" y="453.2"/>
<use href="#ocs2" x="665.3" y="453.3"/>
<use href="#ocs2" x="665.4" y="453.4"/>
<use href="#ocs2" x="665.5" y="453.6"/>
<use href="#ocs2" x="665.5" y="453.7"/>
<use href="#ocs2" x="665.6" y="453.8"/>
<use href="#ocs2" x="665.7" y="453.9"/>
<use href="#ocs2" x="665.8" y="454"/>
<use href="#ocs2" x="665.9" y="454.1"/>
<use href="#ocs2" x="666" y="454.3"/>
<use href="#ocs2" x="666" y="454.4"/>
<use href="#ocs2" x="666.1" y="454.5"/>
<use href="#ocs2" x="666.2" y="454.6"/>
<use href="#ocs2" x="666.3" y="454.7"/>
<use href="#ocs2" x="666.4" y="454.8"/>
<use href="#ocs2" x="666.5" y="454.9"/>
<use href="#ocs2" x="666.5" y="455"/>
<use href="#ocs2" x="666.6" y="455.2"/>
<use href="#ocs2" x="666.7" y="455.3"/>
<use href="#ocs2" x="666.8" y="455.4"/>
<use href="#ocs2" x="666.9" y="455.5"/>
<use href="#ocs2" x="666.9" y="455.6"/>
<use href="#ocs2" x="667" y="455.7"/>
<use href="#ocs2" x="667.1" y="455.8"/>
<use href="#ocs2" x="667.2" y="455.9"/>
<use href="#ocs2" x="667.3" y="456"/>
<use href="#ocs2" x="667.3" y="456.1"/>
<use href="#ocs2" x="667.4" y="456.2"/>
<use href="#ocs2" x="667.5" y="456.3"/>
<use href="#ocs2" x="667.6" y="456.4"/>
<use href="#ocs2" x="667.7" y="456.5"/>
<use href="#ocs2" x="667.7" y="456.6"/>
<use href="#ocs2" x="667.8" y="456.7"/>
<use href="#ocs2" x="667.9" y="456.8"/>
<use href="#ocs2" x="668" y="456.9"/>
<use href="#ocs2" x="668.1" y="457"/>
<use href="#ocs2" x="668.1" y="457.1"/>
<use href="#ocs2" x="668.2" y="457.2"/>
<use href="#ocs2" x="668.3" y="457.3"/>
<use href="#ocs2" x="668.4" y="457.3"/>
<use href="#ocs2" x="668.4" y="457.4"/>
<use href="#ocs2" x="668.5" y="457.5"/>
<use href="#ocs2" x="668.6" y="457.6"/>
<use href="#ocs2" x="668.7" y="457.7"/>
<use href="#ocs2" x="668.8" y="457.8"/>
<use href="#ocs2" x="668.8" y="457.9"/>
<use href="#ocs2" x="668.9" y="458"/>
<use href="#ocs2" x="669" y="458.1"/>
<use href="#ocs2" x="669.1" y="458.2"/>
<use href="#ocs2" x="669.1" y="458.2"/>
<use href="#ocs2" x="669.2" y="458.3"/>
<use href="#ocs2" x="669.3" y="458.4"/>
<use href="#ocs2" x="669.4" y="458.5"/>
<use href="#ocs2" x="669.4" y="458.6"/>
<use href="#ocs2" x="669.5" y="458.7"/>
<use href="#ocs2" x="669.6" y="458.8"/>
<use href="#ocs2" x="669.7" y="458.9"/>
<use href="#ocs2" x="669.7" y="458.9"/>
<use href="#ocs2" x="669.8" y="459"/>
<use href="#ocs2" x="669.9" y="459.1"/>
<use href="#ocs2" x="670" y="459.2"/>
<use href="#ocs2" x="670" y="459.3"/>
<use href="#ocs2" x="670.1" y="459.4"/>
<use href="#ocs2" x="670.2" y="459.5"/>
<use href="#ocs2" x="670.3" y="459.5"/>
<use href="#ocs2" x="670.3" y="459.6"/>
<use href="#ocs2" x="670.4" y="459.7"/>
<use href="#ocs2" x="670.5" y="459.8"/>
<use href="#ocs2" x="670.5" y="459.9"/>
<use href="#ocs2" x="670.6" y="460"/>
<use href="#ocs2" x="670.7" y="460.1"/>
<use href="#ocs2" x="670.8" y="460.1"/>
<use href="#ocs2" x="670.8" y="460.2"/>
<use href="#ocs2" x="670.9" y="460.3"/>
<use href="#ocs2" x="671" y="460.4"/>
<use href="#ocs2" x="671.1" y="460.5"/>
<use href="#ocs2" x="671.1" y="460.6"/>
<use href="#ocs2" x="671.2" y="460.7"/>
<use href="#ocs2" x="671.3" y="460.7"/>
<use href="#ocs2" x="671.3" y="460.8"/>
<use href="#ocs2" x="671.4" y="460.9"/>
<use href="#ocs2" x="671.5" y="461"/>
<use href="#ocs2" x="671.5" y="461.1"/>
<use href="#ocs2" x="671.6" y="461.2"/>
<use href="#ocs2" x="671.7" y="461.3"/>
<use href="#ocs2" x="671.8" y="461.3"/>
<use href="#ocs2" x="671.8" y="461.4"/>
<use href="#ocs2" x="671.9" y="461.5"/>
<use href="#ocs2" x="672" y="461.6"/>
<use href="#ocs2" x="672" y="461.7"/>
<use href="#ocs2" x="672.1" y="461.8"/>
<use href="#ocs2" x="672.2" y="461.9"/>
<use href="#ocs2" x="672.2" y="462"/>
<use href="#ocs2" x="672.3" y="462.1"/>
<use href="#ocs2" x="672.4" y="462.2"/>
<use href="#ocs2" x="672.5" y="462.2"/>
<use href="#ocs2" x="672.5" y="462.3"/>
<use href="#ocs2" x="672.6" y="462.4"/>
<use href="#ocs2" x="672.7" y="462.5"/>
<use href="#ocs2" x="672.7" y="462.6"/>
<use href="#ocs2" x="672.8" y="462.7"/>
<use href="#ocs2" x="672.9" y="462.8"/>
<use href="#ocs2" x="672.9" y="462.9"/>
<use href="#ocs2" x="673" y="463"/>
<use href="#ocs2" x="673.1" y="463.1"/>
<use href="#ocs2" x="673.1" y="463.2"/>
<use href="#ocs2" x="673.2" y="463.3"/>
<use href="#ocs2" x="673.3" y="463.4"/>
<use href="#ocs2" x="673.3" y="463.5"/>
<use href="#ocs2" x="673.4" y="463.6"/>
<use href="#ocs2" x="673.5" y="463.7"/>
<use href="#ocs2" x="673.5" y="463.8"/>
<use href="#ocs2" x="673.6" y="463.9"/>
<use href="#ocs2" x="673.7" y="464"/>
<use href="#ocs2" x="673.7" y="464.1"/>
<use href="#ocs2" x="673.8" y="464.2"/>
<use href="#ocs2" x="673.9" y="464.3"/>
<use href="#ocs2" x="673.9" y="464.4"/>
<use href="#ocs2" x="674" y="464.5"/>
<use href="#ocs2" x="674.1" y="464.6"/>
<use href="#ocs2" x="674.1" y="464.7"/>
<use href="#ocs2" x="674.2" y="464.8"/>
<use href="#ocs2" x="674.3" y="464.9"/>
<use href="#ocs2" x="674.3" y="465"/>
<use href="#ocs2" x="674.4" y="465.1"/>
<use href="#ocs2" x="674.5" y="465.3"/>
<use href="#ocs2" x="674.5" y="465.4"/>
<use href="#ocs2" x="674.6" y="465.5"/>
<use href="#ocs2" x="674.6" y="465.6"/>
<use href="#ocs2" x="674.7" y="465.7"/>
<use href="#ocs2" x="674.8" y="465.8"/>
<use href="#ocs2" x="674.8" y="465.9"/>
<use href="#ocs2" x="674.9" y="466"/>
<use href="#ocs2" x="675" y="466.1"/>
<use href="#ocs2" x="675" y="466.2"/>
<use href="#ocs2" x="675.1" y="466.3"/>
<use href="#ocs2" x="675.2" y="466.5"/>
<use href="#ocs2" x="675.2" y="466.6"/>
<use href="#ocs2" x="675.3" y="466.7"/>
<use href="#ocs2" x="675.3" y="466.8"/>
<use href="#ocs2" x="675.4" y="466.9"/>
<use href="#ocs2" x="675.5" y="467"/>
<use href="#ocs2" x="675.5" y="467.1"/>
<use href="#ocs2" x="675.6" y="467.2"/>
<use href="#ocs2" x="675.7" y="467.4"/>
<use href="#ocs2" x="675.7" y="467.5"/>
<use href="#ocs2" x="675.8" y="467.6"/>
<use href="#ocs2" x="675.8" y="467.7"/>
<use href="#ocs2" x="675.9" y="467.8"/>
<use href="#ocs2" x="676" y="467.9"/>
<use href="#ocs2" x="676" y="468"/>
<use href="#ocs2" x="676.1" y="468.1"/>
<use href="#ocs2" x="676.2" y="468.2"/>
<use href="#ocs2" x="676.2" y="468.4"/>
<use href="#ocs2" x="676.3" y="468.5"/>
<use href="#ocs2" x="676.3" y="468.6"/>
<use href="#ocs2" x="676.4" y="468.7"/>
<use href="#ocs2" x="676.5" y="468.8"/>
<use href="#ocs2" x="676.5" y="468.9"/>
<use href="#ocs2" x="676.6" y="469"/>
<use href="#ocs2" x="676.6" y="469.1"/>
<use href="#ocs2" x="676.7" y="469.2"/>
<use href="#ocs2" x="676.8" y="469.3"/>
<use href="#ocs2" x="676.8" y="469.4"/>
<use href="#ocs2" x="676.9" y="469.6"/>
<use href="#ocs2" x="676.9" y="469.7"/>
<use href="#ocs2" x="677" y="469.8"/>
<use href="#ocs2" x="677.1" y="469.9"/>
<use href="#ocs2" x="677.1" y="470"/>
<use href="#ocs2" x="677.2" y="470.1"/>
<use href="#ocs2" x="677.2" y="470.2"/>
<use href="#ocs2" x="677.3" y="470.3"/>
<use href="#ocs2" x="677.4" y="470.4"/>
<use href="#ocs2" x="677.4" y="470.5"/>
<use href="#ocs2" x="677.5" y="470.6"/>
<use href="#ocs2" x="677.5" y="470.7"/>
<use href="#ocs2" x="677.6" y="470.8"/>
<use href="#ocs2" x="677.7" y="470.9"/>
<use href="#ocs2" x="677.7" y="471"/>
<use href="#ocs2" x="677.8" y="471.1"/>
<use href="#ocs2" x="677.8" y="471.2"/>
<use href="#ocs2" x="677.9" y="471.3"/>
<use href="#ocs2" x="678" y="471.4"/>
<use href="#ocs2" x="678" y="471.5"/>
<use href="#ocs2" x="678.1" y="471.6"/>
<use href="#ocs2" x="678.1" y="471.7"/>
<use href="#ocs2" x="678.2" y="471.8"/>
<use href="#ocs2" x="678.2" y="471.9"/>
<use href="#ocs2" x="678.3" y="472"/>
<use href="#ocs2" x="678.4" y="472.1"/>
<use href="#ocs2" x="678.4" y="472.2"/>
<use href="#ocs2" x="678.5" y="472.3"/>
<use href="#ocs2" x="678.5" y="472.4"/>
<use href="#ocs2" x="678.6" y="472.5"/>
<use href="#ocs2" x="678.6" y="472.6"/>
<use href="#ocs2" x="678.7" y="472.7"/>
<use href="#ocs2" x="678.8" y="472.8"/>
<use href="#ocs2" x="678.8" y="472.9"/>
<use href="#ocs2" x="678.9" y="472.9"/>
<use href="#ocs2" x="678.9" y="473"/>
<use href="#ocs2" x="679" y="473.1"/>
<use href="#ocs2" x="679" y="473.2"/>
<use href="#ocs2" x="679.1" y="473.3"/>
<use href="#ocs2" x="679.2" y="473.4"/>
<use href="#ocs2" x="679.2" y="473.5"/>
<use href="#ocs2" x="679.3" y="473.6"/>
<use href="#ocs2" x="679.3" y="473.7"/>
<use href="#ocs2" x="679.4" y="473.8"/>
<use href="#ocs2" x="679.4" y="473.9"/>
<use href="#ocs2" x="679.5" y="474"/>
<use href="#ocs2" x="679.5" y="474"/>
<use href="#ocs2" x="679.6" y="474.1"/>
<use href="#ocs2" x="679.7" y="474.2"/>
<use href="#ocs2" x="679.7" y="474.3"/>
<use href="#ocs2" x="679.8" y="474.4"/>
<use href="#ocs2" x="679.8" y="474.5"/>
<use href="#ocs2" x="679.9" y="474.6"/>
<use href="#ocs2" x="679.9" y="474.7"/>
<use href="#ocs2" x="680" y="474.8"/>
<use href="#ocs2" x="680" y="474.9"/>
<use href="#ocs2" x="680.1" y="474.9"/>
<use href="#ocs2" x="680.1" y="475"/>
<use href="#ocs2" x="680.2" y="475.1"/>
<use href="#ocs2" x="680.3" y="475.2"/>
<use href="#ocs2" x="680.3" y="475.3"/>
<use href="#ocs2" x="680.4" y="475.4"/>
<use href="#ocs2" x="680.4" y="475.5"/>
<use href="#ocs2" x="680.5" y="475.6"/>
<use href="#ocs2" x="680.5" y="475.6"/>
<use href="#ocs2" x="680.6" y="475.7"/>
<use href="#ocs2" x="680.6" y="475.8"/>
<use href="#ocs2" x="680.7" y="475.9"/>
<use href="#ocs2" x="680.7" y="476"/>
<use href="#ocs2" x="680.8" y="476.1"/>
<use href="#ocs2" x="680.9" y="476.2"/>
<use href="#ocs2" x="680.9" y="476.3"/>
<use href="#ocs2" x="681" y="476.3"/>
<use href="#ocs2" x="681" y="476.4"/>
<use href="#ocs2" x="681.1" y="476.5"/>
<use href="#ocs2" x="681.1" y="476.6"/>
<use href="#ocs2" x="681.2" y="476.7"/>
<use href="#ocs2" x="681.2" y="476.8"/>
<use href="#ocs2" x="681.3" y="476.9"/>
<use href="#ocs2" x="681.3" y="477"/>
<use href="#ocs2" x="681.4" y="477"/>
<use href="#ocs2" x="681.4" y="477.1"/>
<use href="#ocs2" x="681.5" y="477.2"/>
<use href="#ocs2" x="681.5" y="477.3"/>
<use href="#ocs2" x="681.6" y="477.4"/>
<use href="#ocs2" x="681.6" y="477.5"/>
<use href="#ocs2" x="681.7" y="477.6"/>
<use href="#ocs2" x="681.7" y="477.7"/>
<use href="#ocs2" x="681.8" y="477.7"/>
<use href="#ocs2" x="681.9" y="477.8"/>
<use href="#ocs2" x="681.9" y="477.9"/>
<use href="#ocs2" x="682" y="478"/>
<use href="#ocs2" x="682" y="478.1"/>
<use href="#ocs2" x="682.1" y="478.2"/>
<use href="#ocs2" x="682.1" y="478.3"/>
<use href="#ocs2" x="682.2" y="478.3"/>
<use href="#ocs2" x="682.2" y="478.4"/>
<use href="#ocs2" x="682.3" y="478.5"/>
<use href="#ocs2" x="682.3" y="478.6"/>
<use href="#ocs2" x="682.4" y="478.7"/>
<use href="#ocs2" x="682.4" y="478.8"/>
<use href="#ocs2" x="682.5" y="478.9"/>
<use href="#ocs2" x="682.5" y="479"/>
<use href="#ocs2" x="682.6" y="479"/>
<use href="#ocs2" x="682.6" y="479.1"/>
<use href="#ocs2" x="682.7" y="479.2"/>
<use href="#ocs2" x="682.7" y="479.3"/>
<use href="#ocs2" x="682.8" y="479.4"/>
<use href="#ocs2" x="682.8" y="479.5"/>
<use href="#ocs2" x="682.9" y="479.6"/>
<use href="#ocs2" x="682.9" y="479.7"/>
<use href="#ocs2" x="683" y="479.7"/>
<use href="#ocs2" x="683" y="479.8"/>
<use href="#ocs2" x="683.1" y="479.9"/>
<use href="#ocs2" x="683.1" y="480"/>
<use href="#ocs2" x="683.2" y="480.1"/>
<use href="#ocs2" x="683.2" y="480.2"/>
<use href="#ocs2" x="683.3" y="480.3"/>
<use href="#ocs2" x="683.3" y="480.4"/>
<use href="#ocs2" x="683.4" y="480.4"/>
<use href="#ocs2" x="683.4" y="480.5"/>
<use href="#ocs2" x="683.5" y="480.6"/>
<use href="#ocs2" x="683.5" y="480.7"/>
<use href="#ocs2" x="683.6" y="480.8"/>
<use href="#ocs2" x="683.6" y="480.9"/>
<use href="#ocs2" x="683.7" y="481"/>
<use href="#ocs2" x="683.7" y="481.1"/>
<use href="#ocs2" x="683.8" y="481.2"/>
<use href="#ocs2" x="683.8" y="481.3"/>
<use href="#ocs2" x="683.9" y="481.3"/>
<use href="#ocs2" x="683.9" y="481.4"/>
<use href="#ocs2" x="684" y="481.5"/>
<use href="#ocs2" x="684" y="481.6"/>
<use href="#ocs2" x="684.1" y="481.7"/>
<use href="#ocs2" x="684.1" y="481.8"/>
<use href="#ocs2" x="684.2" y="481.9"/>
<use href="#ocs2" x="684.2" y="482"/>
<use href="#ocs2" x="684.3" y="482.1"/>
<use href="#ocs2" x="684.3" y="482.2"/>
<use href="#ocs2" x="684.3" y="482.3"/>
<use href="#ocs2" x="684.4" y="482.3"/>
<use href="#ocs2" x="684.4" y="482.4"/>
<use href="#ocs2" x="684.5" y="482.5"/>
<use href="#ocs2" x="684.5" y="482.6"/>
<use href="#ocs2" x="684.6" y="482.7"/>
<use href="#ocs2" x="684.6" y="482.8"/>
<use href="#ocs2" x="684.7" y="482.9"/>
<use href="#ocs2" x="684.7" y="483"/>
<use href="#ocs2" x="684.8" y="483.1"/>
<use href="#ocs2" x="684.8" y="483.2"/>
<use href="#ocs2" x="684.9" y="483.3"/>
<use href="#ocs2" x="684.9" y="483.4"/>
<use href="#ocs2" x="685" y="483.5"/>
<use href="#ocs2" x="685" y="483.6"/>
<use href="#ocs2" x="685.1" y="483.6"/>
<use href="#ocs2" x="685.1" y="483.7"/>
<use href="#ocs2" x="685.2" y="483.8"/>
<use href="#ocs2" x="685.2" y="483.9"/>
<use href="#ocs2" x="685.2" y="484"/>
<use href="#ocs2" x="685.3" y="484.1"/>
<use href="#ocs2" x="685.3" y="484.2"/>
<use href="#ocs2" x="685.4" y="484.3"/>
<use href="#ocs2" x="685.4" y="484.4"/>
<use href="#ocs2" x="685.5" y="484.5"/>
<use href="#ocs2" x="685.5" y="484.6"/>
<use href="#ocs2" x="685.6" y="484.7"/>
<use href="#ocs2" x="685.6" y="484.8"/>
<use href="#ocs2" x="685.7" y="484.9"/>
<use href="#ocs2" x="685.7" y="484.9"/>
<use href="#ocs2" x="685.8" y="485"/>
<use href="#ocs2" x="685.8" y="485.1"/>
<use href="#ocs2" x="685.9" y="485.2"/>
<use href="#ocs2" x="685.9" y="485.3"/>
<use href="#ocs2" x="685.9" y="485.4"/>
<use href="#ocs2" x="686" y="485.5"/>
<use href="#ocs2" x="686" y="485.6"/>
<use href="#ocs2" x="686.1" y="485.7"/>
<use href="#ocs2" x="686.1" y="485.8"/>
<use href="#ocs2" x="686.2" y="485.9"/>
<use href="#ocs2" x="686.2" y="486"/>
<use href="#ocs2" x="686.3" y="486.1"/>
<use href="#ocs2" x="686.3" y="486.1"/>
<use href="#ocs2" x="686.4" y="486.2"/>
<use href="#ocs2" x="686.4" y="486.3"/>
<use href="#ocs2" x="686.4" y="486.4"/>
<use href="#ocs2" x="686.5" y="486.5"/>
<use href="#ocs2" x="686.5" y="486.6"/>
<use href="#ocs2" x="686.6" y="486.7"/>
<use href="#ocs2" x="686.6" y="486.8"/>
<use href="#ocs2" x="686.7" y="486.9"/>
<use href="#ocs2" x="686.7" y="487"/>
<use href="#ocs2" x="686.8" y="487.1"/>
<use href="#ocs2" x="686.8" y="487.1"/>
<use href="#ocs2" x="686.8" y="487.2"/>
<use href="#ocs2" x="686.9" y="487.3"/>
<use href="#ocs2" x="686.9" y="487.4"/>
<use href="#ocs2" x="687" y="487.5"/>
<use href="#ocs2" x="687" y="487.6"/>
<use href="#ocs2" x="687.1" y="487.7"/>
<use href="#ocs2" x="687.1" y="487.8"/>
<use href="#ocs2" x="687.2" y="487.9"/>
<use href="#ocs2" x="687.2" y="487.9"/>
<use href="#ocs2" x="687.2" y="488"/>
<use href="#ocs2" x="687.3" y="488.1"/>
<use href="#ocs2" x="687.3" y="488.2"/>
<use href="#ocs2" x="687.4" y="488.3"/>
<use href="#ocs2" x="687.4" y="488.4"/>
<use href="#ocs2" x="687.5" y="488.5"/>
<use href="#ocs2" x="687.5" y="488.5"/>
<use href="#ocs2" x="687.6" y="488.6"/>
<use href="#ocs2" x="687.6" y="488.7"/>
<use href="#ocs2" x="687.6" y="488.8"/>
<use href="#ocs2" x="687.7" y="488.9"/>
<use href="#ocs2" x="687.7" y="489"/>
<use href="#ocs2" x="687.8" y="489.1"/>
<use href="#ocs2" x="687.8" y="489.1"/>
<use href="#ocs2" x="687.9" y="489.2"/>
<use href="#ocs2" x="687.9" y="489.3"/>
<use href="#ocs2" x="687.9" y="489.4"/>
<use href="#ocs2" x="688" y="489.5"/>
<use href="#ocs2" x="688" y="489.6"/>
<use href="#ocs2" x="688.1" y="489.6"/>
<use href="#ocs2" x="688.1" y="489.7"/>
<use href="#ocs2" x="688.2" y="489.8"/>
<use href="#ocs2" x="688.2" y="489.9"/>
<use href="#ocs2" x="688.2" y="490"/>
<use href="#ocs2" x="688.3" y="490.1"/>
<use href="#ocs2" x="688.3" y="490.1"/>
<use href="#ocs2" x="688.4" y="490.2"/>
<use href="#ocs2" x="688.4" y="490.3"/>
<use href="#ocs2" x="688.5" y="490.4"/>
<use href="#ocs2" x="688.5" y="490.5"/>
<use href="#ocs2" x="688.5" y="490.6"/>
<use href="#ocs2" x="688.6" y="490.6"/>
<use href="#ocs2" x="688.6" y="490.7"/>
<use href="#ocs2" x="688.7" y="490.8"/>
<use href="#ocs2" x="688.7" y="490.9"/>
<use href="#ocs2" x="688.8" y="491"/>
<use href="#ocs2" x="688.8" y="491.1"/>
<use href="#ocs2" x="688.8" y="491.1"/>
<use href="#ocs2" x="688.9" y="491.2"/>
<use href="#ocs2" x="688.9" y="491.3"/>
<use href="#ocs2" x="689" y="491.4"/>
<use href="#ocs2" x="689" y="491.5"/>
<use href="#ocs2" x="689.1" y="491.5"/>
<use href="#ocs2" x="689.1" y="491.6"/>
<use href="#ocs2" x="689.1" y="491.7"/>
<use href="#ocs2" x="689.2" y="491.8"/>
<use href="#ocs2" x="689.2" y="491.9"/>
<use href="#ocs2" x="689.3" y="492"/>
<use href="#ocs2" x="689.3" y="492"/>
<use href="#ocs2" x="689.3" y="492.1"/>
<use href="#ocs2" x="689.4" y="492.2"/>
<use href="#ocs2" x="689.4" y="492.3"/>
<use href="#ocs2" x="689.5" y="492.4"/>
<use href="#ocs2" x="689.5" y="492.4"/>
<use href="#ocs2" x="689.5" y="492.5"/>
<use href="#ocs2" x="689.6" y="492.6"/>
<use href="#ocs2" x="689.6" y="492.7"/>
<use href="#ocs2" x="689.7" y="492.8"/>
<use href="#ocs2" x="689.7" y="492.8"/>
<use href="#ocs2" x="689.8" y="492.9"/>
<use href="#ocs2" x="689.8" y="493"/>
<use href="#ocs2" x="689.8" y="493.1"/>
<use href="#ocs2" x="689.9" y="493.2"/>
<use href="#ocs2" x="689.9" y="493.2"/>
<use href="#ocs2" x="690" y="493.3"/>
<use href="#ocs2" x="690" y="493.4"/>
<use href="#ocs2" x="690" y="493.5"/>
<use href="#ocs2" x="690.1" y="493.6"/>
<use href="#ocs2" x="690.1" y="493.6"/>
<use href="#ocs2" x="690.2" y="493.7"/>
<use href="#ocs2" x="690.2" y="493.8"/>
<use href="#ocs2" x="690.2" y="493.9"/>
<use href="#ocs2" x="690.3" y="494"/>
<use href="#ocs2" x="690.3" y="494"/>
<use href="#ocs2" x="690.4" y="494.1"/>
<use href="#ocs2" x="690.4" y="494.2"/>
<use href="#ocs2" x="690.4" y="494.3"/>
<use href="#ocs2" x="690.5" y="494.4"/>
<use href="#ocs2" x="690.5" y="494.4"/>
<use href="#ocs2" x="690.6" y="494.5"/>
<use href="#ocs2" x="690.6" y="494.6"/>
<use href="#ocs2" x="690.6" y="494.7"/>
<use href="#ocs2" x="690.7" y="494.7"/>
<use href="#ocs2" x="690.7" y="494.8"/>
<use href="#ocs2" x="690.8" y="494.9"/>
<use href="#ocs2" x="690.8" y="495"/>
<use href="#ocs2" x="690.8" y="495"/>
<use href="#ocs2" x="690.9" y="495.1"/>
<use href="#ocs2" x="690.9" y="495.2"/>
<use href="#ocs2" x="691" y="495.3"/>
<use href="#ocs2" x="691" y="495.4"/>
<use href="#ocs2" x="691" y="495.4"/>
<use href="#ocs2" x="691.1" y="495.5"/>
<use href="#ocs2" x="691.1" y="495.6"/>
<use href="#ocs2" x="691.2" y="495.7"/>
<use href="#ocs2" x="691.2" y="495.7"/>
<use href="#ocs2" x="691.2" y="495.8"/>
<use href="#ocs2" x="691.3" y="495.9"/>
<use href="#ocs2" x="691.3" y="496"/>
<use href="#ocs2" x="691.4" y="496"/>
<use href="#ocs2" x="691.4" y="496.1"/>
<use href="#ocs2" x="691.4" y="496.2"/>
<use href="#ocs2" x="691.5" y="496.3"/>
<use href="#ocs2" x="691.5" y="496.3"/>
<use href="#ocs2" x="691.5" y="496.4"/>
<use href="#ocs2" x="691.6" y="496.5"/>
<use href="#ocs2" x="691.6" y="496.6"/>
<use href="#ocs2" x="691.7" y="496.6"/>
<use href="#ocs2" x="691.7" y="496.7"/>
<use href="#ocs2" x="691.7" y="496.8"/>
<use href="#ocs2" x="691.8" y="496.9"/>
<use href="#ocs2" x="691.8" y="496.9"/>
<use href="#ocs2" x="691.9" y="497"/>
<use href="#ocs2" x="691.9" y="497.1"/>
<use href="#ocs2" x="691.9" y="497.1"/>
<use href="#ocs2" x="692" y="497.2"/>
<use href="#ocs2" x="692" y="497.3"/>
<use href="#ocs2" x="692" y="497.4"/>
<use href="#ocs2" x="692.1" y="497.4"/>
<use href="#ocs2" x="692.1" y="497.5"/>
<use href="#ocs2" x="692.2" y="497.6"/>
<use href="#ocs2" x="692.2" y="497.6"/>
<use href="#ocs2" x="692.2" y="497.7"/>
<use href="#ocs2" x="692.3" y="497.8"/>
<use href="#ocs2" x="692.3" y="497.9"/>
<use href="#ocs2" x="692.4" y="497.9"/>
<use href="#ocs2" x="692.4" y="498"/>
<use href="#ocs2" x="692.4" y="498.1"/>
<use href="#ocs2" x="692.5" y="498.1"/>
<use href="#ocs2" x="692.5" y="498.2"/>
<use href="#ocs2" x="692.5" y="498.3"/>
<use href="#ocs2" x="692.6" y="498.4"/>
<use href="#ocs2" x="692.6" y="498.4"/>
<use href="#ocs2" x="692.7" y="498.5"/>
<use href="#ocs2" x="692.7" y="498.6"/>
<use href="#ocs2" x="692.7" y="498.6"/>
<use href="#ocs2" x="692.8" y="498.7"/>
<use href="#ocs2" x="692.8" y="498.8"/>
<use href="#ocs2" x="692.8" y="498.8"/>
<use href="#ocs2" x="692.9" y="498.9"/>
<use href="#ocs2" x="692.9" y="499"/>
<use href="#ocs2" x="693" y="499"/>
<use href="#ocs2" x="693" y="499.1"/>
<use href="#ocs2" x="693" y="499.2"/>
<use href="#ocs2" x="693.1" y="499.2"/>
<use href="#ocs2" x="693.1" y="499.3"/>
<use href="#ocs2" x="693.1" y="499.4"/>
<use href="#ocs2" x="693.2" y="499.4"/>
<use href="#ocs2" x="693.2" y="499.5"/>
<use href="#ocs2" x="693.2" y="499.6"/>
<use href="#ocs2" x="693.3" y="499.6"/>
<use href="#ocs2" x="693.3" y="499.7"/>
<use href="#ocs2" x="693.4" y="499.8"/>
<use href="#ocs2" x="693.4" y="499.8"/>
<use href="#ocs2" x="693.4" y="499.9"/>
<use href="#ocs2" x="693.5" y="499.9"/>
<use href="#ocs2" x="693.5" y="500"/>
<use href="#ocs2" x="693.5" y="500.1"/>
<use href="#ocs2" x="693.6" y="500.1"/>
<use href="#ocs2" x="693.6" y="500.2"/>
<use href="#ocs2" x="693.7" y="500.3"/>
<use href="#ocs2" x="693.7" y="500.3"/>
<use href="#ocs2" x="693.7" y="500.4"/>
<use href="#ocs2" x="693.8" y="500.4"/>
<use href="#ocs2" x="693.8" y="500.5"/>
<use href="#ocs2" x="693.8" y="500.6"/>
<use href="#ocs2" x="693.9" y="500.6"/>
<use href="#ocs2" x="693.9" y="500.7"/>
<use href="#ocs2" x="693.9" y="500.7"/>
<use href="#ocs2" x="694" y="500.8"/>
<use href="#ocs2" x="694" y="500.8"/>
<use href="#ocs2" x="694.1" y="500.9"/>
<use href="#ocs2" x="694.1" y="500.9"/>
<use href="#ocs2" x="694.1" y="501"/>
<use href="#ocs2" x="694.2" y="501.1"/>
<use href="#ocs2" x="694.2" y="501.1"/>
<use href="#ocs2" x="694.2" y="501.2"/>
<use href="#ocs2" x="694.3" y="501.2"/>
<use href="#ocs2" x="694.3" y="501.3"/>
<use href="#ocs2" x="694.3" y="501.3"/>
<use href="#ocs2" x="694.4" y="501.4"/>
<use href="#ocs2" x="694.4" y="501.4"/>
<use href="#ocs2" x="694.4" y="501.5"/>
<use href="#ocs2" x="694.5" y="501.5"/>
<use href="#ocs2" x="694.5" y="501.6"/>
<use href="#ocs2" x="694.6" y="501.6"/>
<use href="#ocs2" x="694.6" y="501.7"/>
<use href="#ocs2" x="694.6" y="501.7"/>
<use href="#ocs2" x="694.7" y="501.8"/>
<use href="#ocs2" x="694.7" y="501.8"/>
<use href="#ocs2" x="694.7" y="501.9"/>
<use href="#ocs2" x="694.8" y="501.9"/>
<use href="#ocs2" x="694.8" y="502"/>
<use href="#ocs2" x="694.8" y="502"/>
<use href="#ocs2" x="694.9" y="502"/>
<use href="#ocs2" x="694.9" y="502.1"/>
<use href="#ocs2" x="694.9" y="502.1"/>
<use href="#ocs2" x="695" y="502.2"/>
<use href="#ocs2" x="695" y="502.2"/>
<use href="#ocs2" x="695" y="502.3"/>
<use href="#ocs2" x="695.1" y="502.3"/>
<use href="#ocs2" x="695.1" y="502.3"/>
<use href="#ocs2" x="695.1" y="502.4"/>
<use href="#ocs2" x="695.2" y="502.4"/>
<use href="#ocs2" x="695.2" y="502.5"/>
<use href="#ocs2" x="695.3" y="502.5"/>
<use href="#ocs2" x="695.3" y="502.6"/>
<use href="#ocs2" x="695.3" y="502.6"/>
<use href="#ocs2" x="695.4" y="502.6"/>
<use href="#ocs2" x="695.4" y="502.7"/>
<use href="#ocs2" x="695.4" y="502.7"/>
<use href="#ocs2" x="695.5" y="502.8"/>
<use href="#ocs2" x="695.5" y="502.8"/>
<use href="#ocs2" x="695.5" y="502.8"/>
<use href="#ocs2" x="695.6" y="502.9"/>
<use href="#ocs2" x="695.6" y="502.9"/>
<use href="#ocs2" x="695.6" y="503"/>
<use href="#ocs2" x="695.7" y="503"/>
<use href="#ocs2" x="695.7" y="503"/>
<use href="#ocs2" x="695.7" y="503.1"/>
<use href="#ocs2" x="695.8" y="503.1"/>
<use href="#ocs2" x="695.8" y="503.1"/>
<use href="#ocs2" x="695.8" y="503.2"/>
<use href="#ocs2" x="695.9" y="503.2"/>
<use href="#ocs2" x="695.9" y="503.3"/>
<use href="#ocs2" x="695.9" y="503.3"/>
<use href="#ocs2" x="696" y="503.3"/>
<use href="#ocs2" x="696" y="503.4"/>
<use href="#ocs2" x="696" y="503.4"/>
<use href="#ocs2" x="696.1" y="503.5"/>
<use href="#ocs2" x="696.1" y="503.5"/>
<use href="#ocs2" x="696.1" y="503.5"/>
<use href="#ocs2" x="696.2" y="503.6"/>
<use href="#ocs2" x="696.2" y="503.6"/>
<use href="#ocs2" x="696.2" y="503.7"/>
<use href="#ocs2" x="696.3" y="503.7"/>
<use href="#ocs2" x="696.3" y="503.8"/>
<use href="#ocs2" x="696.3" y="503.8"/>
<use href="#ocs2" x="696.4" y="503.8"/>
<use href="#ocs2" x="696.4" y="503.9"/>
<use href="#ocs2" x="696.4" y="503.9"/>
<use href="#ocs2" x="696.5" y="504"/>
<use href="#ocs2" x="696.5" y="504"/>
<use href="#ocs2" x="696.5" y="504.1"/>
<use href="#ocs2" x="696.6" y="504.1"/>
<use href="#ocs2" x="696.6" y="504.2"/>
<use href="#ocs2" x="696.6" y="504.2"/>
<use href="#ocs2" x="696.7" y="504.3"/>
<use href="#ocs2" x="696.7" y="504.3"/>
<use href="#ocs2" x="696.7" y="504.4"/>
<use href="#ocs2" x="696.8" y="504.4"/>
<use href="#ocs2" x="696.8" y="504.4"/>
<use href="#ocs2" x="696.8" y="504.5"/>
<use href="#ocs2" x="696.9" y="504.5"/>
<use href="#ocs2" x="696.9" y="504.6"/>
<use href="#ocs2" x="696.9" y="504.6"/>
<use href="#ocs2" x="697" y="504.7"/>
<use href="#ocs2" x="697" y="504.7"/>
<use href="#ocs2" x="697" y="504.8"/>
<use href="#ocs2" x="697.1" y="504.8"/>
<use href="#ocs2" x="697.1" y="504.9"/>
<use href="#ocs2" x="697.1" y="504.9"/>
<use href="#ocs2" x="697.2" y="505"/>
<use href="#ocs2" x="697.2" y="505"/>
<use href="#ocs2" x="697.2" y="505.1"/>
<use href="#ocs2" x="697.3" y="505.1"/>
<use href="#ocs2" x="697.3" y="505.2"/>
<use href="#ocs2" x="697.3" y="505.2"/>
<use href="#ocs2" x="697.4" y="505.3"/>
<use href="#ocs2" x="697.4" y="505.3"/>
<use href="#ocs2" x="697.4" y="505.4"/>
<use href="#ocs2" x="697.5" y="505.5"/>
<use href="#ocs2" x="697.5" y="505.5"/>
<use href="#ocs2" x="697.5" y="505.6"/>
<use href="#ocs2" x="697.6" y="505.6"/>
<use href="#ocs2" x="697.6" y="505.7"/>
<use href="#ocs2" x="697.6" y="505.7"/>
<use href="#ocs2" x="697.7" y="505.8"/>
<use href="#ocs2" x="697.7" y="505.8"/>
<use href="#ocs2" x="697.7" y="505.9"/>
<use href="#ocs2" x="697.8" y="505.9"/>
<use href="#ocs2" x="697.8" y="506"/>
<use href="#ocs2" x="697.8" y="506"/>
<use href="#ocs2" x="697.9" y="506.1"/>
<use href="#ocs2" x="697.9" y="506.1"/>
<use href="#ocs2" x="697.9" y="506.2"/>
<use href="#ocs2" x="698" y="506.2"/>
<use href="#ocs2" x="698" y="506.3"/>
<use href="#ocs2" x="698" y="506.3"/>
<polyline points="465.5,414 488.7,433.4 502.3,450.3 511.9,461.6 519.3,469.3 525.4,475 530.6,479.4 535.1,483 539,485.9 542.5,488.3 545.7,490.5 548.6,492.4 551.3,494.2 553.8,495.8 556.1,497.4 558.2,498.8 560.3,500.1 562.2,501.3 564,502.3 565.7,503.3 567.3,504.2 568.9,505 570.4,505.7 571.8,506.3 573.2,506.9 574.5,507.4 575.7,507.9 576.9,508.3 578.1,508.7 579.3,509.1 580.3,509.5 581.4,509.9 582.4,510.2 583.4,510.5 584.4,510.8 585.3,511.1 586.3,511.3 587.2,511.5 588,511.7 588.9,511.9 589.7,512.1 590.5,512.3 591.3,512.5 592.1,512.6 592.8,512.8 593.5,512.9 594.3,513 595,513.1 595.7,513.2 596.3,513.3 597,513.4 597.6,513.5 598.3,513.6 598.9,513.7 599.5,513.7 600.1,513.8 600.7,513.8 601.3,513.8 601.9,513.9 602.4,513.9 603,513.9 603.5,513.9 604.1,513.9 604.6,513.9 605.1,513.8 605.6,513.8 606.1,513.8 606.6,513.7 607.1,513.7 607.6,513.6 608.1,513.5 608.5,513.5 609,513.4 609.4,513.3 609.9,513.2 610.3,513.1 610.8,513.1 611.2,513 611.6,512.9 612.1,512.8 612.5,512.7 612.9,512.6 613.3,512.5 613.7,512.4 614.1,512.4 614.5,512.3 614.9,512.2 615.2,512.1 615.6,512 616,511.9 616.4,511.8 616.7,511.6 617.1,511.5 617.4,511.4 617.8,511.3 618.1,511.1 618.5,511 618.8,510.8 619.2,510.7 619.5,510.5 619.8,510.4 620.2,510.2 620.5,510 620.8,509.9 621.1,509.7 621.5,509.6 621.8,509.4 622.1,509.2 622.4,509.1 622.7,508.9 623,508.7 623.3,508.6 623.6,508.4 623.9,508.3 624.2,508.1 624.5,507.9 624.8,507.8 625,507.6 625.3,507.4 625.6,507.3 625.9,507.1 626.2,507 626.4,506.8 626.7,506.6 627,506.5 627.2,506.3 627.5,506.2 627.8,506 628,505.8 628.3,505.7 628.5,505.5 628.8,505.4 629.1,505.2 629.3,505.1 629.5,504.9 629.8,504.8 630,504.6 630.3,504.4 630.5,504.3 630.8,504.1 631,504 631.2,503.8 631.5,503.7 631.7,503.5 631.9,503.4 632.2,503.2 632.4,503 632.6,502.9 632.8,502.7 633.1,502.6 633.3,502.4 633.5,502.3 633.7,502.1 634,502 634.2,501.8 634.4,501.6 634.6,501.5 634.8,501.3 635,501.2 635.2,501 635.4,500.9 635.6,500.7 635.9,500.5 636.1,500.4 636.3,500.2 636.5,500.1 636.7,499.9 636.9,499.7 637.1,499.6 637.3,499.4 637.5,499.3 637.6,499.1 637.8,498.9 638,498.8 638.2,498.6 638.4,498.4 638.6,498.3 638.8,498.1 639,498 639.2,497.8 639.4,497.6 639.5,497.5 639.7,497.3 639.9,497.1 640.1,497 640.3,496.8 640.4,496.7 640.6,496.5 640.8,496.3 641,496.2 641.2,496 641.3,495.9 641.5,495.7 641.7,495.5 641.8,495.4 642,495.2 642.2,495 642.4,494.9 642.5,494.7 642.7,494.6 642.9,494.4 643,494.2 643.2,494.1 643.4,493.9 643.5,493.8 643.7,493.6 643.8,493.4 644,493.3 644.2,493.1 644.3,493 644.5,492.8 644.6,492.7 644.8,492.5 645,492.3 645.1,492.2 645.3,492 645.4,491.9 645.6,491.7 645.7,491.6 645.9,491.4 646,491.2 646.2,491.1 646.3,490.9 646.5,490.8 646.6,490.6 646.8,490.5 646.9,490.3 647.1,490.2 647.2,490 647.4,489.8 647.5,489.7 647.7,489.5 647.8,489.4 647.9,489.2 648.1,489.1 648.2,488.9 648.4,488.7 648.5,488.6 648.7,488.4 648.8,488.3 648.9,488.1 649.1,487.9 649.2,487.8 649.3,487.6 649.5,487.5 649.6,487.3 649.8,487.1 649.9,487 650,486.8 650.2,486.6 650.3,486.5 650.4,486.3 650.6,486.1 650.7,486 650.8,485.8 650.9,485.6 651.1,485.5 651.2,485.3 651.3,485.1 651.5,485 651.6,484.8 651.7,484.6 651.9,484.4 652,484.3 652.1,484.1 652.2,483.9 652.4,483.7 652.5,483.6 652.6,483.4 652.7,483.2 652.9,483 653,482.8 653.1,482.7 653.2,482.5 653.3,482.3 653.5,482.1 653.6,481.9 653.7,481.7 653.8,481.5 653.9,481.3 654.1,481.1 654.2,481 654.3,480.8 654.4,480.6 654.5,480.4 654.7,480.2 654.8,480 654.9,479.8 655,479.6 655.1,479.4 655.2,479.2 655.3,479 655.5,478.8 655.6,478.6 655.7,478.4 655.8,478.2 655.9,478 656,477.7 656.1,477.5 656.3,477.3 656.4,477.1 656.5,476.9 656.6,476.7 656.7,476.5 656.8,476.3 656.9,476.1 657,475.9 657.1,475.7 657.2,475.5 657.3,475.3 657.5,475 657.6,474.8 657.7,474.6 657.8,474.4 657.9,474.2 658,474 658.1,473.8 658.2,473.6 658.3,473.4 658.4,473.2 658.5,473 658.6,472.8 658.7,472.6 658.8,472.3 658.9,472.1 659,471.9 659.1,471.7 659.2,471.5 659.3,471.3 659.4,471.1 659.5,470.9 659.6,470.7 659.7,470.5 659.8,470.3 659.9,470.1 660,469.9 660.1,469.7 660.2,469.5 660.3,469.3 660.4,469.1 660.5,468.9 660.6,468.7 660.7,468.5 660.8,468.3 660.9,468.1 661,467.9 661.1,467.7 661.2,467.5 661.3,467.3 661.4,467.1 661.5,466.9 661.6,466.6 661.7,466.4 661.8,466.2 661.9,466 662,465.8 662.1,465.6 662.2,465.4 662.3,465.2 662.3,465 662.4,464.8 662.5,464.6 662.6,464.4 662.7,464.2 662.8,464 662.9,463.7 663,463.5 663.1,463.3 663.2,463.1 663.3,462.9 663.4,462.7 663.4,462.5 663.5,462.3 663.6,462.1 663.7,461.8 663.8,461.6 663.9,461.4 664,461.2 664.1,461 664.2,460.8 664.2,460.6 664.3,460.3 664.4,460.1 664.5,459.9 664.6,459.7 664.7,459.5 664.8,459.2 664.9,459 664.9,458.8 665,458.6 665.1,458.3 665.2,458.1 665.3,457.9 665.4,457.6 665.5,457.4 665.5,457.2 665.6,456.9 665.7,456.7 665.8,456.4 665.9,456.2 666,456 666,455.7 666.1,455.5 666.2,455.2 666.3,454.9 666.4,454.7 666.5,454.4 666.5,454.2 666.6,453.9 666.7,453.7 666.8,453.4 666.9,453.1 666.9,452.9 667,452.6 667.1,452.4 667.2,452.1 667.3,451.8 667.3,451.6 667.4,451.3 667.5,451.1 667.6,450.8 667.7,450.5 667.7,450.3 667.8,450 667.9,449.8 668,449.5 668.1,449.3 668.1,449 668.2,448.8 668.3,448.5 668.4,448.3 668.4,448.1 668.5,447.8 668.6,447.6 668.7,447.4 668.8,447.1 668.8,446.9 668.9,446.7 669,446.5 669.1,446.2 669.1,446 669.2,445.8 669.3,445.6 669.4,445.4 669.4,445.2 669.5,445 669.6,444.8 669.7,444.6 669.7,444.4 669.8,444.2 669.9,444 670,443.8 670,443.6 670.1,443.4 670.2,443.2 670.3,443.1 670.3,442.9 670.4,442.7 670.5,442.5 670.5,442.3 670.6,442.1 670.7,441.9 670.8,441.8 670.8,441.6 670.9,441.4 671,441.2 671.1,441 671.1,440.8 671.2,440.7 671.3,440.5 671.3,440.3 671.4,440.1 671.5,439.9 671.5,439.7 671.6,439.5 671.7,439.3 671.8,439.2 671.8,439 671.9,438.8 672,438.6 672,438.4 672.1,438.2 672.2,438 672.2,437.8 672.3,437.6 672.4,437.4 672.5,437.2 672.5,437 672.6,436.9 672.7,436.7 672.7,436.5 672.8,436.3 672.9,436.1 672.9,435.9 673,435.7 673.1,435.5 673.1,435.3 673.2,435.1 673.3,434.9 673.3,434.8 673.4,434.6 673.5,434.4 673.5,434.2 673.6,434 673.7,433.8 673.7,433.6 673.8,433.4 673.9,433.2 673.9,433.1 674,432.9 674.1,432.7 674.1,432.5 674.2,432.3 674.3,432.1 674.3,431.9 674.4,431.7 674.5,431.6 674.5,431.4 674.6,431.2 674.6,431 674.7,430.8 674.8,430.6 674.8,430.4 674.9,430.2 675,430.1 675,429.9 675.1,429.7 675.2,429.5 675.2,429.3 675.3,429.1 675.3,428.9 675.4,428.8 675.5,428.6 675.5,428.4 675.6,428.2 675.7,428 675.7,427.8 675.8,427.6 675.8,427.5 675.9,427.3 676,427.1 676,426.9 676.1,426.7 676.2,426.5 676.2,426.3 676.3,426.2 676.3,426 676.4,425.8 676.5,425.6 676.5,425.4 676.6,425.2 676.6,425 676.7,424.9 676.8,424.7 676.8,424.5 676.9,424.3 676.9,424.1 677,423.9 677.1,423.7 677.1,423.5 677.2,423.4 677.2,423.2 677.3,423 677.4,422.8 677.4,422.6 677.5,422.4 677.5,422.2 677.6,422.1 677.7,421.9 677.7,421.7 677.8,421.5 677.8,421.3 677.9,421.1 678,421 678,420.8 678.1,420.6 678.1,420.4 678.2,420.2 678.2,420 678.3,419.9 678.4,419.7 678.4,419.5 678.5,419.3 678.5,419.1 678.6,419 678.6,418.8 678.7,418.6 678.8,418.4 678.8,418.2 678.9,418.1 678.9,417.9 679,417.7 679,417.5 679.1,417.3 679.2,417.2 679.2,417 679.3,416.8 679.3,416.6 679.4,416.5 679.4,416.3 679.5,416.1 679.5,415.9 679.6,415.8 679.7,415.6 679.7,415.4 679.8,415.3 679.8,415.1 679.9,414.9 679.9,414.7 680,414.6 680,414.4 680.1,414.2 680.1,414.1 680.2,413.9 680.3,413.7 680.3,413.6 680.4,413.4 680.4,413.2 680.5,413.1 680.5,412.9 680.6,412.8 680.6,412.6 680.7,412.4 680.7,412.3 680.8,412.1 680.9,412 680.9,411.8 681,411.7 681,411.5 681.1,411.4 681.1,411.2 681.2,411.1 681.2,410.9 681.3,410.8 681.3,410.6 681.4,410.5 681.4,410.3 681.5,410.2 681.5,410.1 681.6,409.9 681.6,409.8 681.7,409.6 681.7,409.5 681.8,409.4 681.9,409.2 681.9,409.1 682,408.9 682,408.8 682.1,408.7 682.1,408.5 682.2,408.4 682.2,408.3 682.3,408.1 682.3,408 682.4,407.8 682.4,407.7 682.5,407.6 682.5,407.4 682.6,407.3 682.6,407.2 682.7,407 682.7,406.9 682.8,406.7 682.8,406.6 682.9,406.5 682.9,406.3 683,406.2 683,406 683.1,405.9 683.1,405.8 683.2,405.6 683.2,405.5 683.3,405.3 683.3,405.2 683.4,405 683.4,404.9 683.5,404.7 683.5,404.6 683.6,404.4 683.6,404.3 683.7,404.1 683.7,404 683.8,403.8 683.8,403.7 683.9,403.5 683.9,403.3 684,403.2 684,403 684.1,402.9 684.1,402.7 684.2,402.5 684.2,402.4 684.3,402.2 684.3,402.1 684.3,401.9 684.4,401.7 684.4,401.6 684.5,401.4 684.5,401.2 684.6,401 684.6,400.9 684.7,400.7 684.7,400.5 684.8,400.4 684.8,400.2 684.9,400 684.9,399.8 685,399.7 685,399.5 685.1,399.3 685.1,399.2 685.2,399 685.2,398.8 685.2,398.6 685.3,398.5 685.3,398.3 685.4,398.1 685.4,397.9 685.5,397.8 685.5,397.6 685.6,397.4 685.6,397.2 685.7,397.1 685.7,396.9 685.8,396.7 685.8,396.5 685.9,396.4 685.9,396.2 685.9,396 686,395.8 686,395.7 686.1,395.5 686.1,395.3 686.2,395.1 686.2,394.9 686.3,394.8 686.3,394.6 686.4,394.4 686.4,394.2 686.4,394.1 686.5,393.9 686.5,393.7 686.6,393.5 686.6,393.3 686.7,393.2 686.7,393 686.8,392.8 686.8,392.6 686.8,392.4 686.9,392.3 686.9,392.1 687,391.9 687,391.7 687.1,391.5 687.1,391.4 687.2,391.2 687.2,391 687.2,390.8 687.3,390.6 687.3,390.5 687.4,390.3 687.4,390.1 687.5,389.9 687.5,389.7 687.6,389.6 687.6,389.4 687.6,389.2 687.7,389 687.7,388.8 687.8,388.7 687.8,388.5 687.9,388.3 687.9,388.1 687.9,387.9 688,387.7 688,387.6 688.1,387.4 688.1,387.2 688.2,387 688.2,386.8 688.2,386.6 688.3,386.5 688.3,386.3 688.4,386.1 688.4,385.9 688.5,385.7 688.5,385.6 688.5,385.4 688.6,385.2 688.6,385 688.7,384.8 688.7,384.6 688.8,384.5 688.8,384.3 688.8,384.1 688.9,383.9 688.9,383.7 689,383.5 689,383.4 689.1,383.2 689.1,383 689.1,382.8 689.2,382.6 689.2,382.5 689.3,382.3 689.3,382.1 689.3,381.9 689.4,381.7 689.4,381.5 689.5,381.4 689.5,381.2 689.5,381 689.6,380.8 689.6,380.6 689.7,380.5 689.7,380.3 689.8,380.1 689.8,379.9 689.8,379.7 689.9,379.5 689.9,379.4 690,379.2 690,379 690,378.8 690.1,378.6 690.1,378.5 690.2,378.3 690.2,378.1 690.2,377.9 690.3,377.7 690.3,377.5 690.4,377.4 690.4,377.2 690.4,377 690.5,376.8 690.5,376.6 690.6,376.5 690.6,376.3 690.6,376.1 690.7,375.9 690.7,375.7 690.8,375.5 690.8,375.4 690.8,375.2 690.9,375 690.9,374.8 691,374.6 691,374.5 691,374.3 691.1,374.1 691.1,373.9 691.2,373.7 691.2,373.5 691.2,373.4 691.3,373.2 691.3,373 691.4,372.8 691.4,372.6 691.4,372.5 691.5,372.3 691.5,372.1 691.5,371.9 691.6,371.7 691.6,371.6 691.7,371.4 691.7,371.2 691.7,371 691.8,370.8 691.8,370.7 691.9,370.5 691.9,370.3 691.9,370.1 692,369.9 692,369.8 692,369.6 692.1,369.4 692.1,369.2 692.2,369 692.2,368.9 692.2,368.7 692.3,368.5 692.3,368.3 692.4,368.1 692.4,368 692.4,367.8 692.5,367.6 692.5,367.4 692.5,367.3 692.6,367.1 692.6,366.9 692.7,366.7 692.7,366.5 692.7,366.4 692.8,366.2 692.8,366 692.8,365.8 692.9,365.7 692.9,365.5 693,365.3 693,365.1 693,365 693.1,364.8 693.1,364.6 693.1,364.4 693.2,364.3 693.2,364.1 693.2,363.9 693.3,363.7 693.3,363.6 693.4,363.4 693.4,363.2 693.4,363 693.5,362.9 693.5,362.7 693.5,362.5 693.6,362.3 693.6,362.2 693.7,362 693.7,361.8 693.7,361.7 693.8,361.5 693.8,361.3 693.8,361.1 693.9,361 693.9,360.8 693.9,360.6 694,360.4 694,360.3 694.1,360.1 694.1,359.9 694.1,359.8 694.2,359.6 694.2,359.4 694.2,359.3 694.3,359.1 694.3,358.9 694.3,358.7 694.4,358.6 694.4,358.4 694.4,358.2 694.5,358.1 694.5,357.9 694.6,357.7 694.6,357.6 694.6,357.4 694.7,357.2 694.7,357 694.7,356.9 694.8,356.7 694.8,356.5 694.8,356.4 694.9,356.2 694.9,356 694.9,355.9 695,355.7 695,355.5 695,355.4 695.1,355.2 695.1,355 695.1,354.9 695.2,354.7 695.2,354.5 695.3,354.4 695.3,354.2 695.3,354 695.4,353.9 695.4,353.7 695.4,353.5 695.5,353.4 695.5,353.2 695.5,353 695.6,352.9 695.6,352.7 695.6,352.6 695.7,352.4 695.7,352.2 695.7,352.1 695.8,351.9 695.8,351.7 695.8,351.6 695.9,351.4 695.9,351.2 695.9,351.1 696,350.9 696,350.8 696,350.6 696.1,350.4 696.1,350.3 696.1,350.1 696.2,349.9 696.2,349.8 696.2,349.6 696.3,349.5 696.3,349.3 696.3,349.1 696.4,349 696.4,348.8 696.4,348.7 696.5,348.5 696.5,348.3 696.5,348.2 696.6,348 696.6,347.9 696.6,347.7 696.7,347.5 696.7,347.4 696.7,347.2 696.8,347.1 696.8,346.9 696.8,346.7 696.9,346.6 696.9,346.4 696.9,346.3 697,346.1 697,345.9 697,345.8 697.1,345.6 697.1,345.5 697.1,345.3 697.2,345.2 697.2,345 697.2,344.8 697.3,344.7 697.3,344.5 697.3,344.4 697.4,344.2 697.4,344.1 697.4,343.9 697.5,343.8 697.5,343.6 697.5,343.4 697.6,343.3 697.6,343.1 697.6,343 697.7,342.8 697.7,342.7 697.7,342.5 697.8,342.4 697.8,342.2 697.8,342.1 697.9,341.9 697.9,341.8 697.9,341.6 698,341.5 698,341.3 698,341.2" fill="none" stroke="#ff0000" stroke-width="0.55" stroke-linejoin="round" />
<line x1="441" y1="316" x2="441" y2="552.2" stroke="#666" stroke-width="2"/>
<line x1="736" y1="316" x2="736" y2="552.2" stroke="#666" stroke-width="2"/>
<line x1="440" y1="316.6" x2="737" y2="316.6" stroke="#1e1e1e" stroke-width="1.2"/>
<line x1="440" y1="551.6" x2="737" y2="551.6" stroke="#1e1e1e" stroke-width="1.2"/>
<line x1="436" y1="515.5" x2="441" y2="515.5" stroke="#1e1e1e" stroke-width="1" />
<line x1="436" y1="398.5" x2="441" y2="398.5" stroke="#1e1e1e" stroke-width="1" />
<line x1="438" y1="550.5" x2="441" y2="550.5" stroke="#1e1e1e" stroke-width="1" />
<line x1="438" y1="541.5" x2="441" y2="541.5" stroke="#1e1e1e" stroke-width="1" />
<line x1="438" y1="533.5" x2="441" y2="533.5" stroke="#1e1e1e" stroke-width="1" />
<line x1="438" y1="526.5" x2="441" y2="526.5" stroke="#1e1e1e" stroke-width="1" />
<line x1="438" y1="520.5" x2="441" y2="520.5" stroke="#1e1e1e" stroke-width="1" />
<line x1="438" y1="480.5" x2="441" y2="480.5" stroke="#1e1e1e" stroke-width="1" />
<line x1="438" y1="459.5" x2="441" y2="459.5" stroke="#1e1e1e" stroke-width="1" />
<line x1="438" y1="444.5" x2="441" y2="444.5" stroke="#1e1e1e" stroke-width="1" />
<line x1="438" y1="433.5" x2="441" y2="433.5" stroke="#1e1e1e" stroke-width="1" />
<line x1="438" y1="424.5" x2="441" y2="424.5" stroke="#1e1e1e" stroke-width="1" />
<line x1="438" y1="416.5" x2="441" y2="416.5" stroke="#1e1e1e" stroke-width="1" />
<line x1="438" y1="409.5" x2="441" y2="409.5" stroke="#1e1e1e" stroke-width="1" />
<line x1="438" y1="403.5" x2="441" y2="403.5" stroke="#1e1e1e" stroke-width="1" />
<line x1="438" y1="362.5" x2="441" y2="362.5" stroke="#1e1e1e" stroke-width="1" />
<line x1="438" y1="342.5" x2="441" y2="342.5" stroke="#1e1e1e" stroke-width="1" />
<line x1="438" y1="327.5" x2="441" y2="327.5" stroke="#1e1e1e" stroke-width="1" />
<line x1="438" y1="316.5" x2="441" y2="316.5" stroke="#1e1e1e" stroke-width="1" />
<line x1="481.5" y1="551.6" x2="481.5" y2="556.1" stroke="#1e1e1e" stroke-width="1" />
<line x1="558.5" y1="551.6" x2="558.5" y2="556.1" stroke="#1e1e1e" stroke-width="1" />
<line x1="635.5" y1="551.6" x2="635.5" y2="556.1" stroke="#1e1e1e" stroke-width="1" />
<line x1="712.5" y1="551.6" x2="712.5" y2="556.1" stroke="#1e1e1e" stroke-width="1" />
<line x1="441.5" y1="551.6" x2="441.5" y2="554.1" stroke="#1e1e1e" stroke-width="1" />
<line x1="450.5" y1="551.6" x2="450.5" y2="554.1" stroke="#1e1e1e" stroke-width="1" />
<line x1="458.5" y1="551.6" x2="458.5" y2="554.1" stroke="#1e1e1e" stroke-width="1" />
<line x1="464.5" y1="551.6" x2="464.5" y2="554.1" stroke="#1e1e1e" stroke-width="1" />
<line x1="469.5" y1="551.6" x2="469.5" y2="554.1" stroke="#1e1e1e" stroke-width="1" />
<line x1="474.5" y1="551.6" x2="474.5" y2="554.1" stroke="#1e1e1e" stroke-width="1" />
<line x1="477.5" y1="551.6" x2="477.5" y2="554.1" stroke="#1e1e1e" stroke-width="1" />
<line x1="504.5" y1="551.6" x2="504.5" y2="554.1" stroke="#1e1e1e" stroke-width="1" />
<line x1="518.5" y1="551.6" x2="518.5" y2="554.1" stroke="#1e1e1e" stroke-width="1" />
<line x1="527.5" y1="551.6" x2="527.5" y2="554.1" stroke="#1e1e1e" stroke-width="1" />
<line x1="535.5" y1="551.6" x2="535.5" y2="554.1" stroke="#1e1e1e" stroke-width="1" />
<line x1="541.5" y1="551.6" x2="541.5" y2="554.1" stroke="#1e1e1e" stroke-width="1" />
<line x1="546.5" y1="551.6" x2="546.5" y2="554.1" stroke="#1e1e1e" stroke-width="1" />
<line x1="551.5" y1="551.6" x2="551.5" y2="554.1" stroke="#1e1e1e" stroke-width="1" />
<line x1="554.5" y1="551.6" x2="554.5" y2="554.1" stroke="#1e1e1e" stroke-width="1" />
<line x1="581.5" y1="551.6" x2="581.5" y2="554.1" stroke="#1e1e1e" stroke-width="1" />
<line x1="595.5" y1="551.6" x2="595.5" y2="554.1" stroke="#1e1e1e" stroke-width="1" />
<line x1="604.5" y1="551.6" x2="604.5" y2="554.1" stroke="#1e1e1e" stroke-width="1" />
<line x1="612.5" y1="551.6" x2="612.5" y2="554.1" stroke="#1e1e1e" stroke-width="1" />
<line x1="618.5" y1="551.6" x2="618.5" y2="554.1" stroke="#1e1e1e" stroke-width="1" />
<line x1="623.5" y1="551.6" x2="623.5" y2="554.1" stroke="#1e1e1e" stroke-width="1" />
<line x1="628.5" y1="551.6" x2="628.5" y2="554.1" stroke="#1e1e1e" stroke-width="1" />
<line x1="631.5" y1="551.6" x2="631.5" y2="554.1" stroke="#1e1e1e" stroke-width="1" />
<line x1="658.5" y1="551.6" x2="658.5" y2="554.1" stroke="#1e1e1e" stroke-width="1" />
<line x1="672.5" y1="551.6" x2="672.5" y2="554.1" stroke="#1e1e1e" stroke-width="1" />
<line x1="681.5" y1="551.6" x2="681.5" y2="554.1" stroke="#1e1e1e" stroke-width="1" />
<line x1="689.5" y1="551.6" x2="689.5" y2="554.1" stroke="#1e1e1e" stroke-width="1" />
<line x1="695.5" y1="551.6" x2="695.5" y2="554.1" stroke="#1e1e1e" stroke-width="1" />
<line x1="700.5" y1="551.6" x2="700.5" y2="554.1" stroke="#1e1e1e" stroke-width="1" />
<line x1="705.5" y1="551.6" x2="705.5" y2="554.1" stroke="#1e1e1e" stroke-width="1" />
<line x1="708.5" y1="551.6" x2="708.5" y2="554.1" stroke="#1e1e1e" stroke-width="1" />
<line x1="735.5" y1="551.6" x2="735.5" y2="554.1" stroke="#1e1e1e" stroke-width="1" />
<line x1="736" y1="550.5" x2="731" y2="550.5" stroke="#1e1e1e" stroke-width="1" />
<line x1="736" y1="498.5" x2="731" y2="498.5" stroke="#1e1e1e" stroke-width="1" />
<line x1="736" y1="446.5" x2="731" y2="446.5" stroke="#1e1e1e" stroke-width="1" />
<line x1="736" y1="394.5" x2="731" y2="394.5" stroke="#1e1e1e" stroke-width="1" />
<line x1="736" y1="342.5" x2="731" y2="342.5" stroke="#1e1e1e" stroke-width="1" />
<line x1="736" y1="524.5" x2="733" y2="524.5" stroke="#1e1e1e" stroke-width="1" />
<line x1="736" y1="472.5" x2="733" y2="472.5" stroke="#1e1e1e" stroke-width="1" />
<line x1="736" y1="420.5" x2="733" y2="420.5" stroke="#1e1e1e" stroke-width="1" />
<line x1="736" y1="368.5" x2="733" y2="368.5" stroke="#1e1e1e" stroke-width="1" />
<line x1="736" y1="316.5" x2="733" y2="316.5" stroke="#1e1e1e" stroke-width="1" />
<text x="433.2" y="519.9" font-size="12" text-anchor="end" stroke="#1a1a1a" stroke-width="0.2">10<tspan font-size="8.2" dy="-5.2">2</tspan></text>
<text x="433.2" y="402.5" font-size="12" text-anchor="end" stroke="#1a1a1a" stroke-width="0.2">10<tspan font-size="8.2" dy="-5.2">3</tspan></text>
<text x="481.5" y="570.8" font-size="12" text-anchor="middle" stroke="#1a1a1a" stroke-width="0.2">10<tspan font-size="8.2" dy="-5.2">1</tspan></text>
<text x="558.5" y="570.8" font-size="12" text-anchor="middle" stroke="#1a1a1a" stroke-width="0.2">10<tspan font-size="8.2" dy="-5.2">2</tspan></text>
<text x="635.5" y="570.8" font-size="12" text-anchor="middle" stroke="#1a1a1a" stroke-width="0.2">10<tspan font-size="8.2" dy="-5.2">3</tspan></text>
<text x="712.5" y="570.8" font-size="12" text-anchor="middle" stroke="#1a1a1a" stroke-width="0.2">10<tspan font-size="8.2" dy="-5.2">4</tspan></text>
<text x="740.5" y="554.2" font-size="12" stroke="#1a1a1a" stroke-width="0.2" >0.7</text>
<text x="740.5" y="502.18" font-size="12" stroke="#1a1a1a" stroke-width="0.2" >0.8</text>
<text x="740.5" y="450.15" font-size="12" stroke="#1a1a1a" stroke-width="0.2" >0.9</text>
<text x="740.5" y="398.13" font-size="12" stroke="#1a1a1a" stroke-width="0.2" >1.0</text>
<text x="740.5" y="346.1" font-size="12" stroke="#1a1a1a" stroke-width="0.2" >1.1</text>
<text x="588.5" y="589.5" font-size="16.4" text-anchor="middle" stroke="#1a1a1a" stroke-width="0.2" >t [s]</text>
<text x="408.5" y="432.2" font-size="16.3" text-anchor="middle" transform="rotate(-90 408.5 432.2)" stroke="#1a1a1a" stroke-width="0.2" >G', G" [Pa]</text>
<text x="777" y="434" font-size="16.5" fill="#ff0000" text-anchor="middle" transform="rotate(-90 777 434)" stroke="#ff0000" stroke-width="0.2" >tan(δ)</text>
<text x="396.8" y="320.8" font-size="18" font-weight="bold" stroke="#1a1a1a" stroke-width="0.2" >D</text>
<text x="632.5" y="375.8" font-size="12.1" stroke="#1a1a1a" stroke-width="0.2" >t = 4398 s</text>
<line x1="684" y1="390.9" x2="671" y2="382.5" stroke="#222" stroke-width="0.6" />
<path d="M668.7,381.1 L674.3,382.2 L672.4,385.3 Z" fill="#111"/>
<line x1="677.4" y1="394.5" x2="695.9" y2="394.5" stroke="#8a8a8a" stroke-width="1" />
<line x1="534.1" y1="541.5" x2="561" y2="541.5" stroke="#666" stroke-width="0.7" />
<use href="#bcd" x="547.9" y="541.5"/>
<text x="565" y="545.6" font-size="12" stroke="#1a1a1a" stroke-width="0.2" >G'</text>
<line x1="585" y1="541.5" x2="611.1" y2="541.5" stroke="#666" stroke-width="0.7" />
<use href="#ocd" x="597.5" y="541.5"/>
<text x="611" y="545.6" font-size="12" stroke="#1a1a1a" stroke-width="0.2" >G"</text>
<text x="639.5" y="545.6" font-size="12.4" stroke="#1a1a1a" stroke-width="0.2" >EPO-PLGA-PEG</text>
</svg>
</body></html>
